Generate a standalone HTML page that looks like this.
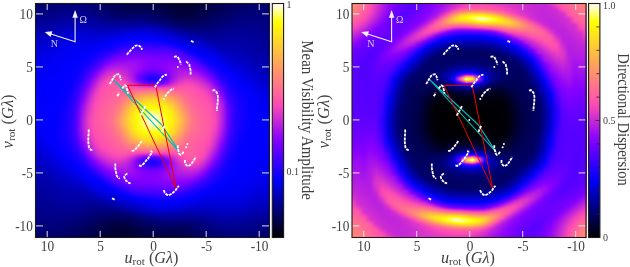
<!DOCTYPE html>
<html><head><meta charset="utf-8"><style>
html,body{margin:0;padding:0;background:#fff;width:630px;height:267px;overflow:hidden}
.hm{position:absolute;overflow:hidden}
.hm i{display:block;height:1px}
svg{position:absolute;left:0;top:0;will-change:transform}
text{font-family:"Liberation Serif",serif;fill:#404040}
.tl{font-size:13.3px}
.al{font-size:16px}
.cl{font-size:10px}
.ct{font-size:16.8px}
.ar{font-size:10px;fill:#d4ccf4}
.tc{stroke:#eee;stroke-opacity:0.85;stroke-width:1.1}
.tk{fill:none;stroke:#fff;stroke-width:1.7;stroke-linecap:round;stroke-dasharray:0.4 1.9}
</style></head><body>
<div class="hm" style="left:35px;top:3px;width:235px;height:235px">
<i style="background:linear-gradient(90deg,#00006b,#00006c,#00006f,#000072,#000075,#000077,#000079,#000078,#000075,#000071,#00006b,#000064,#00005d,#000055,#00004e,#000049,#000047,#000046,#000046,#000045,#000042,#00003c,#000036,#000031,#00002d,#00002d,#000030,#000035,#00003b,#000041,#000048,#00004f,#000056,#00005c,#000062,#000067,#00006a,#00006c,#00006c,#00006b)"></i>
<i style="background:linear-gradient(90deg,#00006d,#00006e,#000071,#000074,#000076,#000079,#00007b,#00007a,#000077,#000073,#00006d,#000066,#00005e,#000056,#00004f,#00004a,#000048,#000047,#000047,#000047,#000044,#00003e,#000038,#000032,#00002e,#00002e,#000031,#000036,#00003c,#000043,#00004a,#000051,#000057,#00005e,#000063,#000068,#00006b,#00006d,#00006d,#00006c)"></i>
<i style="background:linear-gradient(90deg,#00006f,#000070,#000072,#000075,#000078,#00007b,#00007d,#00007c,#000079,#000074,#00006e,#000067,#000060,#000058,#000050,#00004b,#000049,#000049,#000049,#000049,#000046,#000040,#000039,#000033,#00002f,#00002f,#000032,#000037,#00003d,#000044,#00004b,#000052,#000059,#00005f,#000065,#000069,#00006d,#00006e,#00006e,#00006d)"></i>
<i style="background:linear-gradient(90deg,#000071,#000072,#000074,#000077,#00007a,#00007d,#00007f,#00007e,#00007b,#000076,#000070,#000069,#000061,#000059,#000052,#00004c,#00004a,#00004a,#00004b,#00004b,#000048,#000042,#00003b,#000034,#000030,#000030,#000033,#000038,#00003f,#000045,#00004d,#000054,#00005b,#000061,#000066,#00006b,#00006e,#000070,#000070,#00006e)"></i>
<i style="background:linear-gradient(90deg,#000072,#000074,#000076,#000079,#00007c,#00007f,#000081,#000080,#00007d,#000078,#000072,#00006b,#000063,#00005a,#000053,#00004e,#00004b,#00004c,#00004d,#00004d,#00004a,#000044,#00003c,#000036,#000031,#000031,#000034,#00003a,#000040,#000047,#00004e,#000056,#00005c,#000062,#000068,#00006c,#000070,#000071,#000071,#00006f)"></i>
<i style="background:linear-gradient(90deg,#000074,#000076,#000078,#00007b,#00007e,#000081,#000083,#000082,#00007f,#00007b,#000074,#00006d,#000065,#00005c,#000054,#00004f,#00004d,#00004e,#000050,#00004f,#00004c,#000046,#00003e,#000037,#000033,#000032,#000036,#00003b,#000042,#000049,#000050,#000057,#00005e,#000064,#000069,#00006e,#000071,#000072,#000072,#000070)"></i>
<i style="background:linear-gradient(90deg,#000077,#000078,#00007a,#00007d,#000080,#000084,#000085,#000085,#000082,#00007d,#000077,#00006f,#000067,#00005e,#000056,#000050,#00004f,#000051,#000052,#000052,#00004f,#000048,#000040,#000039,#000034,#000034,#000037,#00003d,#000043,#00004a,#000052,#000059,#000060,#000066,#00006b,#00006f,#000072,#000074,#000073,#000072)"></i>
<i style="background:linear-gradient(90deg,#000079,#00007a,#00007c,#00007f,#000083,#000086,#000088,#000087,#000084,#00007f,#000079,#000071,#000069,#00005f,#000057,#000053,#000052,#000054,#000055,#000055,#000051,#00004b,#000042,#00003b,#000035,#000035,#000038,#00003e,#000045,#00004c,#000053,#00005b,#000062,#000068,#00006d,#000071,#000074,#000075,#000075,#000073)"></i>
<i style="background:linear-gradient(90deg,#00007b,#00007c,#00007e,#000081,#000085,#000088,#00008a,#000089,#000086,#000082,#00007c,#000074,#00006b,#000061,#000059,#000055,#000056,#000057,#000059,#000058,#000054,#00004d,#000045,#00003d,#000037,#000036,#00003a,#000040,#000047,#00004e,#000055,#00005d,#000063,#000069,#00006f,#000073,#000075,#000076,#000076,#000074)"></i>
<i style="background:linear-gradient(90deg,#00007d,#00007e,#000080,#000083,#000087,#00008b,#00008d,#00008c,#000089,#000084,#00007e,#000076,#00006d,#000064,#00005c,#000059,#000059,#00005b,#00005d,#00005c,#000057,#000050,#000047,#00003f,#00003a,#000038,#00003c,#000042,#000049,#000050,#000057,#00005e,#000065,#00006b,#000070,#000074,#000077,#000078,#000077,#000075)"></i>
<i style="background:linear-gradient(90deg,#000080,#000081,#000083,#000086,#00008a,#00008d,#00008f,#00008f,#00008c,#000087,#000081,#000079,#000070,#000066,#00005f,#00005d,#00005e,#000060,#000061,#00005f,#00005b,#000053,#00004a,#000042,#00003c,#00003b,#00003e,#000044,#00004b,#000052,#00005a,#000060,#000067,#00006d,#000072,#000076,#000078,#000079,#000078,#000076)"></i>
<i style="background:linear-gradient(90deg,#000082,#000083,#000085,#000088,#00008c,#000090,#000092,#000091,#00008f,#00008a,#000084,#00007c,#000072,#000069,#000063,#000061,#000062,#000064,#000065,#000063,#00005e,#000056,#00004d,#000045,#00003f,#00003d,#000040,#000046,#00004d,#000055,#00005c,#000063,#000069,#00006f,#000074,#000077,#00007a,#00007b,#00007a,#000077)"></i>
<i style="background:linear-gradient(90deg,#000084,#000085,#000087,#00008b,#00008f,#000093,#000095,#000094,#000091,#00008d,#000087,#00007f,#000075,#00006d,#000068,#000066,#000068,#000069,#000069,#000067,#000062,#00005a,#000051,#000048,#000042,#000040,#000042,#000048,#000050,#000057,#00005e,#000065,#00006b,#000071,#000076,#000079,#00007b,#00007c,#00007b,#000079)"></i>
<i style="background:linear-gradient(90deg,#000087,#000088,#00008a,#00008d,#000092,#000096,#000098,#000097,#000095,#000090,#00008a,#000082,#000078,#000071,#00006d,#00006c,#00006d,#00006e,#00006e,#00006b,#000066,#00005d,#000054,#00004c,#000046,#000043,#000045,#00004b,#000052,#000059,#000061,#000067,#00006d,#000073,#000077,#00007b,#00007d,#00007d,#00007c,#00007a)"></i>
<i style="background:linear-gradient(90deg,#000089,#00008a,#00008c,#000090,#000095,#000099,#00009a,#00009a,#000098,#000094,#00008d,#000085,#00007c,#000076,#000072,#000071,#000073,#000074,#000073,#000070,#00006a,#000061,#000058,#000050,#000049,#000047,#000048,#00004d,#000054,#00005c,#000063,#000069,#00006f,#000075,#000079,#00007c,#00007e,#00007f,#00007d,#00007b)"></i>
<i style="background:linear-gradient(90deg,#00008c,#00008d,#00008f,#000093,#000098,#00009c,#00009d,#00009d,#00009b,#000097,#000091,#000088,#000080,#00007b,#000078,#000077,#000078,#000079,#000078,#000074,#00006e,#000065,#00005c,#000053,#00004d,#00004b,#00004c,#000050,#000057,#00005f,#000066,#00006c,#000072,#000077,#00007b,#00007e,#000080,#000080,#00007f,#00007c)"></i>
<i style="background:linear-gradient(90deg,#00008e,#00008f,#000092,#000096,#00009b,#00009f,#0000a0,#0000a0,#00009f,#00009b,#000094,#00008c,#000085,#000080,#00007e,#00007d,#00007e,#00007f,#00007d,#000079,#000072,#00006a,#000060,#000058,#000051,#00004f,#00004f,#000053,#00005a,#000061,#000068,#00006e,#000074,#000079,#00007d,#000080,#000081,#000081,#000080,#00007d)"></i>
<i style="background:linear-gradient(90deg,#000091,#000092,#000094,#000099,#00009e,#0000a2,#0000a3,#0000a4,#0000a2,#00009e,#000098,#000090,#00008a,#000085,#000084,#000084,#000084,#000084,#000082,#00007e,#000077,#00006e,#000065,#00005c,#000056,#000053,#000053,#000057,#00005d,#000064,#00006b,#000071,#000076,#00007b,#00007f,#000081,#000083,#000083,#000081,#00007e)"></i>
<i style="background:linear-gradient(90deg,#000094,#000095,#000097,#00009c,#0000a1,#0000a5,#0000a7,#0000a7,#0000a6,#0000a2,#00009b,#000094,#00008e,#00008b,#00008a,#00008a,#00008b,#00008a,#000088,#000084,#00007d,#000073,#000069,#000060,#00005a,#000057,#000057,#00005a,#000060,#000067,#00006e,#000074,#000079,#00007d,#000081,#000083,#000084,#000084,#000082,#00007f)"></i>
<i style="background:linear-gradient(90deg,#000096,#000097,#00009a,#00009e,#0000a4,#0000a8,#0000aa,#0000ab,#0000a9,#0000a5,#00009f,#000099,#000094,#000091,#000090,#000090,#000091,#000090,#00008f,#00008b,#000084,#00007a,#00006f,#000065,#00005f,#00005c,#00005c,#00005e,#000063,#00006a,#000070,#000076,#00007b,#00007f,#000083,#000085,#000086,#000085,#000083,#000081)"></i>
<i style="background:linear-gradient(90deg,#000099,#00009a,#00009d,#0000a1,#0000a7,#0000ab,#0000ad,#0000ae,#0000ad,#0000a9,#0000a3,#00009d,#000099,#000097,#000096,#000096,#000097,#000097,#000096,#000093,#00008b,#000081,#000075,#00006a,#000063,#000060,#000060,#000062,#000067,#00006d,#000073,#000079,#00007e,#000082,#000085,#000086,#000087,#000086,#000085,#000082)"></i>
<i style="background:linear-gradient(90deg,#00009c,#00009d,#0000a0,#0000a4,#0000aa,#0000ae,#0000b1,#0000b2,#0000b1,#0000ad,#0000a7,#0000a2,#00009e,#00009c,#00009c,#00009d,#00009d,#00009f,#00009e,#00009b,#000094,#000089,#00007d,#000071,#000068,#000065,#000064,#000066,#00006a,#000070,#000076,#00007c,#000080,#000084,#000086,#000088,#000088,#000088,#000086,#000083)"></i>
<i style="background:linear-gradient(90deg,#00009e,#0000a0,#0000a3,#0000a8,#0000ad,#0000b1,#0000b4,#0000b6,#0000b4,#0000b0,#0000ab,#0000a6,#0000a3,#0000a2,#0000a2,#0000a3,#0000a5,#0000a7,#0000a7,#0000a4,#00009d,#000092,#000085,#000078,#00006e,#00006a,#000069,#00006a,#00006e,#000073,#000079,#00007e,#000083,#000086,#000088,#00008a,#00008a,#000089,#000087,#000084)"></i>
<i style="background:linear-gradient(90deg,#0000a1,#0000a2,#0000a6,#0000ab,#0000b0,#0000b4,#0000b8,#0000b9,#0000b8,#0000b4,#0000af,#0000ab,#0000a9,#0000a8,#0000a8,#0000a9,#0000ac,#0000af,#0000b0,#0000ad,#0000a7,#00009c,#00008e,#000081,#000075,#00006f,#00006e,#00006f,#000071,#000076,#00007c,#000081,#000085,#000088,#00008a,#00008b,#00008b,#00008a,#000088,#000085)"></i>
<i style="background:linear-gradient(90deg,#0000a4,#0000a5,#0000a9,#0000ae,#0000b3,#0000b7,#0000bb,#0000bd,#0000bc,#0000b8,#0000b3,#0000b0,#0000ae,#0000ae,#0000ae,#0000b0,#0000b4,#0000b8,#0000b9,#0000b6,#0000b0,#0000a5,#000098,#000089,#00007d,#000075,#000073,#000073,#000075,#000079,#00007e,#000084,#000088,#00008b,#00008c,#00008d,#00008d,#00008b,#000089,#000086)"></i>
<i style="background:linear-gradient(90deg,#0000a6,#0000a8,#0000ab,#0000b0,#0000b6,#0000bb,#0000bf,#0000c1,#0000bf,#0000bb,#0000b7,#0000b4,#0000b3,#0000b3,#0000b4,#0000b8,#0000bc,#0000c0,#0000c2,#0000bf,#0000b9,#0000ae,#0000a1,#000092,#000085,#00007c,#000078,#000077,#000079,#00007c,#000081,#000086,#00008a,#00008d,#00008e,#00008f,#00008e,#00008c,#00008a,#000087)"></i>
<i style="background:linear-gradient(90deg,#0000a9,#0000ab,#0000ae,#0000b3,#0000b9,#0000be,#0000c2,#0000c4,#0000c3,#0000bf,#0000bb,#0000b9,#0000b8,#0000b8,#0000bb,#0000bf,#0000c4,#0000c8,#0000ca,#0000c8,#0000c1,#0000b7,#0000aa,#00009c,#00008e,#000083,#00007d,#00007c,#00007d,#00007f,#000084,#000089,#00008d,#00008f,#000090,#000090,#00008f,#00008e,#00008b,#000088)"></i>
<i style="background:linear-gradient(90deg,#0000ac,#0000ae,#0000b1,#0000b6,#0000bc,#0000c1,#0000c6,#0000c8,#0000c6,#0000c3,#0000bf,#0000bd,#0000bd,#0000be,#0000c1,#0000c6,#0000cc,#0000d0,#0000d2,#0000cf,#0000c9,#0000bf,#0000b3,#0000a5,#000097,#00008b,#000083,#000081,#000081,#000083,#000087,#00008b,#00008f,#000091,#000092,#000092,#000091,#00008f,#00008c,#000089)"></i>
<i style="background:linear-gradient(90deg,#0000ae,#0000b0,#0000b4,#0000b9,#0000bf,#0000c5,#0000c9,#0000cb,#0000c9,#0000c6,#0000c3,#0000c2,#0000c2,#0000c3,#0000c7,#0000cd,#0000d4,#0000d8,#0000d9,#0000d6,#0000d0,#0000c6,#0000bb,#0000ad,#0000a0,#000093,#00008a,#000085,#000085,#000086,#000089,#00008e,#000092,#000094,#000094,#000093,#000092,#000090,#00008d,#00008a)"></i>
<i style="background:linear-gradient(90deg,#0000b1,#0000b3,#0000b7,#0000bc,#0000c2,#0000c8,#0000cd,#0000ce,#0000cc,#0000c9,#0000c7,#0000c6,#0000c6,#0000c9,#0000ce,#0000d4,#0000db,#0000df,#0000df,#0000dc,#0000d6,#0000cd,#0000c2,#0000b5,#0000a8,#00009c,#000092,#00008b,#000089,#000089,#00008c,#000090,#000094,#000096,#000096,#000095,#000093,#000091,#00008e,#00008b)"></i>
<i style="background:linear-gradient(90deg,#0000b3,#0000b6,#0000ba,#0000bf,#0000c5,#0000cb,#0000d0,#0000d1,#0000d0,#0000cd,#0000cb,#0000ca,#0000cb,#0000ce,#0000d4,#0000db,#0000e1,#0000e5,#0000e5,#0000e2,#0000dc,#0000d3,#0000c9,#0000bd,#0000b0,#0000a4,#000099,#000091,#00008d,#00008d,#00008f,#000093,#000096,#000098,#000098,#000097,#000094,#000092,#00008f,#00008c)"></i>
<i style="background:linear-gradient(90deg,#0000b6,#0000b8,#0000bc,#0000c2,#0000c7,#0000ce,#0000d3,#0000d4,#0000d2,#0000d0,#0000ce,#0000ce,#0000d0,#0000d3,#0000da,#0000e2,#0000e8,#0000eb,#0000eb,#0000e8,#0000e2,#0000da,#0000cf,#0000c4,#0000b8,#0000ac,#0000a1,#000097,#000091,#000090,#000091,#000095,#000099,#00009a,#00009a,#000098,#000096,#000093,#000090,#00008d)"></i>
<i style="background:linear-gradient(90deg,#0000b9,#0000bb,#0000bf,#0000c4,#0000ca,#0000d1,#0000d6,#0000d7,#0000d5,#0000d3,#0000d2,#0000d2,#0000d4,#0000d9,#0000e0,#0000e8,#0000ee,#0000f0,#0000f0,#0000ed,#0000e8,#0000e0,#0000d6,#0000ca,#0000bf,#0000b4,#0000a8,#00009e,#000096,#000093,#000094,#000097,#00009b,#00009c,#00009c,#00009a,#000097,#000094,#000091,#00008e)"></i>
<i style="background:linear-gradient(90deg,#0000bb,#0000bd,#0000c1,#0000c7,#0000cd,#0000d4,#0000d9,#0000da,#0000d8,#0000d6,#0000d5,#0000d6,#0000d9,#0000de,#0000e6,#0000ee,#0000f3,#0000f6,#0000f6,#0000f3,#0000ed,#0000e6,#0000dc,#0000d1,#0000c5,#0000bb,#0000b0,#0000a5,#00009b,#000097,#000097,#000099,#00009d,#00009e,#00009d,#00009b,#000098,#000095,#000092,#00008f)"></i>
<i style="background:linear-gradient(90deg,#0000bd,#0000c0,#0000c4,#0000c9,#0000d0,#0000d7,#0000dc,#0000dc,#0000db,#0000d9,#0000d9,#0000da,#0000dd,#0000e3,#0000ec,#0000f4,#0000f9,#0000fb,#0000fb,#0000f8,#0000f3,#0000ec,#0000e2,#0000d7,#0000cc,#0000c1,#0000b7,#0000ac,#0000a1,#00009a,#000099,#00009c,#00009f,#0000a0,#00009f,#00009d,#000099,#000096,#000093,#00008f)"></i>
<i style="background:linear-gradient(90deg,#0000c0,#0000c2,#0000c6,#0000cc,#0000d3,#0000da,#0000df,#0000df,#0000dd,#0000dc,#0000dc,#0000de,#0000e2,#0000e9,#0000f2,#0000f9,#0000ff,#0200ff,#0200ff,#0000fe,#0000f9,#0000f2,#0000e9,#0000dd,#0000d2,#0000c8,#0000be,#0000b3,#0000a7,#00009e,#00009c,#00009e,#0000a1,#0000a2,#0000a1,#00009e,#00009b,#000097,#000094,#000090)"></i>
<i style="background:linear-gradient(90deg,#0000c2,#0000c5,#0000c9,#0000ce,#0000d6,#0000dd,#0000e1,#0000e1,#0000e0,#0000df,#0000df,#0000e1,#0000e6,#0000ee,#0000f7,#0000ff,#0400ff,#0600ff,#0600ff,#0400ff,#0100ff,#0000f9,#0000ef,#0000e4,#0000d8,#0000cd,#0000c4,#0000ba,#0000ad,#0000a2,#00009f,#0000a0,#0000a3,#0000a4,#0000a2,#00009f,#00009c,#000098,#000095,#000091)"></i>
<i style="background:linear-gradient(90deg,#0000c4,#0000c7,#0000cb,#0000d1,#0000d8,#0000df,#0000e3,#0000e3,#0000e2,#0000e2,#0000e3,#0000e5,#0000ea,#0000f3,#0000fc,#0400ff,#0900ff,#0b00ff,#0c00ff,#0a00ff,#0600ff,#0100ff,#0000f7,#0000eb,#0000de,#0000d3,#0000ca,#0000c0,#0000b3,#0000a7,#0000a2,#0000a2,#0000a4,#0000a6,#0000a4,#0000a1,#00009d,#000099,#000096,#000092)"></i>
<i style="background:linear-gradient(90deg,#0000c7,#0000c9,#0000cd,#0000d3,#0000db,#0000e2,#0000e5,#0000e5,#0000e4,#0000e4,#0000e6,#0000e9,#0000ef,#0000f8,#0200ff,#0900ff,#0e00ff,#1100ff,#1100ff,#1000ff,#0d00ff,#0700ff,#0000fe,#0000f2,#0000e4,#0000d9,#0000cf,#0000c6,#0000ba,#0000ac,#0000a5,#0000a4,#0000a6,#0000a7,#0000a5,#0000a2,#00009e,#00009a,#000097,#000093)"></i>
<i style="background:linear-gradient(90deg,#0000c9,#0000cb,#0000cf,#0000d5,#0000dd,#0000e4,#0000e7,#0000e7,#0000e7,#0000e7,#0000e9,#0000ec,#0000f3,#0000fd,#0700ff,#0e00ff,#1300ff,#1700ff,#1800ff,#1700ff,#1300ff,#0e00ff,#0600ff,#0000f9,#0000eb,#0000de,#0000d5,#0000cc,#0000c0,#0000b1,#0000a8,#0000a6,#0000a8,#0000a9,#0000a7,#0000a3,#00009f,#00009b,#000097,#000094)"></i>
<i style="background:linear-gradient(90deg,#0000cb,#0000cd,#0000d2,#0000d8,#0000e0,#0000e6,#0000e9,#0000e9,#0000e9,#0000ea,#0000ec,#0000f0,#0000f8,#0300ff,#0b00ff,#1300ff,#1900ff,#1d00ff,#1f00ff,#1e00ff,#1b00ff,#1600ff,#0e00ff,#0200ff,#0000f2,#0000e4,#0000d9,#0000d1,#0000c6,#0000b7,#0000ab,#0000a9,#0000aa,#0000aa,#0000a8,#0000a5,#0000a0,#00009c,#000098,#000095)"></i>
<i style="background:linear-gradient(90deg,#0000cd,#0000cf,#0000d4,#0000da,#0000e2,#0000e8,#0000eb,#0000eb,#0000eb,#0000ec,#0000ef,#0000f4,#0000fd,#0700ff,#1000ff,#1800ff,#1f00ff,#2500ff,#2700ff,#2500ff,#2300ff,#1e00ff,#1600ff,#0900ff,#0000f9,#0000ea,#0000de,#0000d6,#0000cc,#0000bd,#0000af,#0000ab,#0000ac,#0000ac,#0000aa,#0000a6,#0000a2,#00009d,#000099,#000096)"></i>
<i style="background:linear-gradient(90deg,#0000cf,#0000d1,#0000d5,#0000dc,#0000e4,#0000ea,#0000ec,#0000ed,#0000ed,#0000ef,#0000f2,#0000f8,#0200ff,#0b00ff,#1500ff,#1e00ff,#2700ff,#2d00ff,#2f00ff,#2d00ff,#2b00ff,#2700ff,#1f00ff,#1200ff,#0200ff,#0000f0,#0000e3,#0000db,#0000d2,#0000c3,#0000b3,#0000ad,#0000ad,#0000ae,#0000ab,#0000a7,#0000a3,#00009e,#00009a,#000096)"></i>
<i style="background:linear-gradient(90deg,#0000d1,#0000d3,#0000d7,#0000de,#0000e6,#0000ec,#0000ee,#0000ee,#0000ef,#0000f1,#0000f5,#0000fc,#0600ff,#1000ff,#1a00ff,#2500ff,#2f00ff,#3500ff,#3700ff,#3500ff,#3300ff,#2f00ff,#2800ff,#1b00ff,#0900ff,#0000f6,#0000e8,#0000df,#0000d7,#0000c9,#0000b8,#0000b0,#0000af,#0000af,#0000ad,#0000a8,#0000a4,#00009f,#00009b,#000097)"></i>
<i style="background:linear-gradient(90deg,#0000d2,#0000d5,#0000d9,#0000e0,#0000e8,#0000ed,#0000ef,#0000f0,#0000f1,#0000f3,#0000f8,#0000ff,#0a00ff,#1500ff,#2000ff,#2c00ff,#3800ff,#3e00ff,#3f00ff,#3d00ff,#3a00ff,#3800ff,#3100ff,#2400ff,#1100ff,#0000fd,#0000ed,#0000e3,#0000dc,#0000cf,#0000bd,#0000b3,#0000b1,#0000b1,#0000ae,#0000aa,#0000a5,#0000a0,#00009c,#000098)"></i>
<i style="background:linear-gradient(90deg,#0000d4,#0000d7,#0000db,#0000e2,#0000ea,#0000ee,#0000f0,#0000f1,#0000f3,#0000f6,#0000fb,#0400ff,#0e00ff,#1a00ff,#2600ff,#3500ff,#4100ff,#4700ff,#4700ff,#4400ff,#4200ff,#4000ff,#3a00ff,#2e00ff,#1a00ff,#0500ff,#0000f2,#0000e7,#0000e0,#0000d5,#0000c3,#0000b5,#0000b3,#0000b2,#0000af,#0000ab,#0000a6,#0000a1,#00009d,#000099)"></i>
<i style="background:linear-gradient(90deg,#0000d6,#0000d8,#0000dd,#0000e4,#0000eb,#0000f0,#0000f2,#0000f3,#0000f5,#0000f8,#0000fe,#0700ff,#1200ff,#1f00ff,#2d00ff,#3e00ff,#4a00ff,#4f00ff,#4e00ff,#4b00ff,#4900ff,#4700ff,#4300ff,#3700ff,#2400ff,#0d00ff,#0000f8,#0000eb,#0000e4,#0000da,#0000c8,#0000b9,#0000b5,#0000b4,#0000b1,#0000ac,#0000a7,#0000a2,#00009e,#00009a)"></i>
<i style="background:linear-gradient(90deg,#0000d7,#0000da,#0000df,#0000e6,#0000ed,#0000f1,#0000f3,#0000f4,#0000f7,#0000fa,#0100ff,#0b00ff,#1700ff,#2400ff,#3600ff,#4800ff,#5300ff,#5700ff,#5500ff,#5100ff,#4f00ff,#4e00ff,#4b00ff,#4100ff,#2e00ff,#1500ff,#0000ff,#0000f0,#0000e8,#0000df,#0000ce,#0000bc,#0000b8,#0000b6,#0000b2,#0000ad,#0000a8,#0000a3,#00009f,#00009b)"></i>
<i style="background:linear-gradient(90deg,#0000d9,#0000db,#0000e0,#0000e7,#0000ee,#0000f2,#0000f4,#0000f5,#0000f8,#0000fc,#0400ff,#0e00ff,#1c00ff,#2a00ff,#3f00ff,#5100ff,#5c00ff,#5e00ff,#5b00ff,#5700ff,#5500ff,#5400ff,#5200ff,#4900ff,#3700ff,#1e00ff,#0600ff,#0000f4,#0000eb,#0000e3,#0000d3,#0000c1,#0000ba,#0000b8,#0000b4,#0000af,#0000a9,#0000a4,#0000a0,#00009c)"></i>
<i style="background:linear-gradient(90deg,#0000da,#0000dd,#0000e2,#0000e9,#0000ef,#0000f3,#0000f5,#0000f7,#0000fa,#0000ff,#0700ff,#1200ff,#2100ff,#3200ff,#4900ff,#5b00ff,#6400ff,#6500ff,#6200ff,#5d00ff,#5b00ff,#5a00ff,#5800ff,#5100ff,#4100ff,#2800ff,#0d00ff,#0000f9,#0000ef,#0000e7,#0000d9,#0000c5,#0000bc,#0000ba,#0000b5,#0000b0,#0000aa,#0000a5,#0000a1,#00009d)"></i>
<i style="background:linear-gradient(90deg,#0000db,#0000de,#0000e3,#0000ea,#0000f1,#0000f4,#0000f6,#0000f8,#0000fc,#0200ff,#0a00ff,#1700ff,#2600ff,#3a00ff,#5300ff,#6400ff,#6b00ff,#6b00ff,#6800ff,#6400ff,#6100ff,#6000ff,#5e00ff,#5800ff,#4a00ff,#3100ff,#1500ff,#0000ff,#0000f3,#0000eb,#0000de,#0000ca,#0000bf,#0000bc,#0000b7,#0000b1,#0000ab,#0000a6,#0000a2,#00009e)"></i>
<i style="background:linear-gradient(90deg,#0000dd,#0000df,#0000e5,#0000ec,#0000f2,#0000f5,#0000f7,#0000f9,#0000fd,#0300ff,#0d00ff,#1b00ff,#2c00ff,#4300ff,#5d00ff,#6c00ff,#7100ff,#7100ff,#6e00ff,#6a00ff,#6600ff,#6500ff,#6400ff,#5f00ff,#5200ff,#3b00ff,#1d00ff,#0400ff,#0000f6,#0000ee,#0000e3,#0000cf,#0000c2,#0000be,#0000b9,#0000b2,#0000ad,#0000a8,#0000a3,#00009f)"></i>
<i style="background:linear-gradient(90deg,#0000de,#0000e1,#0000e6,#0000ed,#0000f3,#0000f6,#0000f8,#0000fb,#0000ff,#0500ff,#1000ff,#2000ff,#3200ff,#4d00ff,#6600ff,#7400ff,#7700ff,#7800ff,#7500ff,#7000ff,#6c00ff,#6b00ff,#6a00ff,#6500ff,#5a00ff,#4500ff,#2700ff,#0a00ff,#0000fb,#0000f2,#0000e7,#0000d4,#0000c5,#0000c0,#0000bb,#0000b4,#0000ae,#0000a9,#0000a4,#0000a0)"></i>
<i style="background:linear-gradient(90deg,#0000df,#0000e2,#0000e8,#0000ee,#0000f3,#0000f6,#0000f9,#0000fc,#0100ff,#0700ff,#1300ff,#2400ff,#3900ff,#5700ff,#7000ff,#7a00ff,#7e00ff,#7e00ff,#7a00ff,#7500ff,#7100ff,#7000ff,#6f00ff,#6a00ff,#6000ff,#4e00ff,#3000ff,#1100ff,#0000ff,#0000f5,#0000eb,#0000d9,#0000c8,#0000c2,#0000bd,#0000b5,#0000af,#0000aa,#0000a5,#0000a1)"></i>
<i style="background:linear-gradient(90deg,#0000e0,#0000e3,#0000e9,#0000ef,#0000f4,#0000f7,#0000f9,#0000fd,#0200ff,#0900ff,#1700ff,#2900ff,#4100ff,#6200ff,#7900ff,#8000ff,#8300ff,#8400ff,#8000ff,#7a00ff,#7600ff,#7500ff,#7400ff,#7000ff,#6600ff,#5600ff,#3a00ff,#1900ff,#0400ff,#0000f8,#0000ef,#0000dd,#0000cc,#0000c5,#0000bf,#0000b7,#0000b0,#0000ab,#0000a7,#0000a3)"></i>
<i style="background:linear-gradient(90deg,#0000e1,#0000e5,#0000ea,#0000f1,#0000f5,#0000f8,#0000fa,#0000fe,#0300ff,#0b00ff,#1b00ff,#2f00ff,#4b00ff,#6c00ff,#8000ff,#8600ff,#8901fe,#8901fe,#8400ff,#7e00ff,#7900ff,#7900ff,#7900ff,#7500ff,#6d00ff,#5e00ff,#4400ff,#2200ff,#0800ff,#0000fc,#0000f2,#0000e2,#0000d0,#0000c7,#0000c1,#0000b9,#0000b2,#0000ac,#0000a8,#0000a4)"></i>
<i style="background:linear-gradient(90deg,#0000e2,#0000e6,#0000ec,#0000f2,#0000f6,#0000f8,#0000fb,#0000ff,#0500ff,#0d00ff,#1f00ff,#3400ff,#5400ff,#7600ff,#8700ff,#8c03fc,#8e04fb,#8e04fb,#8801fe,#8100ff,#7c00ff,#7c00ff,#7d00ff,#7b00ff,#7300ff,#6400ff,#4d00ff,#2b00ff,#0d00ff,#0000ff,#0000f6,#0000e6,#0000d3,#0000ca,#0000c3,#0000bb,#0000b3,#0000ad,#0000a9,#0000a5)"></i>
<i style="background:linear-gradient(90deg,#0000e3,#0000e7,#0000ed,#0000f3,#0000f6,#0000f9,#0000fc,#0100ff,#0600ff,#1000ff,#2300ff,#3a00ff,#5e00ff,#8000ff,#8d04fb,#9106f9,#9307f8,#9207f8,#8b02fd,#8300ff,#7e00ff,#7f00ff,#8100ff,#7f00ff,#7800ff,#6b00ff,#5600ff,#3400ff,#1300ff,#0300ff,#0000f9,#0000ea,#0000d7,#0000cd,#0000c5,#0000bc,#0000b4,#0000af,#0000aa,#0000a6)"></i>
<i style="background:linear-gradient(90deg,#0000e4,#0000e8,#0000ee,#0000f3,#0000f7,#0000fa,#0000fd,#0200ff,#0700ff,#1300ff,#2700ff,#4100ff,#6900ff,#8801fe,#9307f8,#9609f6,#970af5,#9509f6,#8d03fc,#8400ff,#8000ff,#8100ff,#8400ff,#8400ff,#7e00ff,#7100ff,#5e00ff,#3e00ff,#1a00ff,#0600ff,#0000fc,#0000ee,#0000db,#0000cf,#0000c8,#0000be,#0000b6,#0000b0,#0000ac,#0000a8)"></i>
<i style="background:linear-gradient(90deg,#0000e5,#0000e9,#0000ef,#0000f4,#0000f8,#0000fa,#0000fd,#0200ff,#0800ff,#1600ff,#2c00ff,#4900ff,#7300ff,#9006f9,#990bf4,#9a0cf3,#9b0cf3,#970af5,#8e04fb,#8400ff,#8000ff,#8200ff,#8700ff,#8800ff,#8300ff,#7800ff,#6600ff,#4800ff,#2200ff,#0a00ff,#0000ff,#0000f2,#0000df,#0000d2,#0000ca,#0000c1,#0000b8,#0000b2,#0000ad,#0000a9)"></i>
<i style="background:linear-gradient(90deg,#0000e6,#0000ea,#0000f0,#0000f5,#0000f8,#0000fb,#0000fe,#0300ff,#0900ff,#1900ff,#3100ff,#5200ff,#7d00ff,#970af5,#9e0ff0,#9f0ff0,#9e0ef1,#990bf4,#8e04fb,#8500ff,#8100ff,#8300ff,#8901fe,#8c03fc,#8901fe,#7e00ff,#6d00ff,#5100ff,#2a00ff,#0e00ff,#0200ff,#0000f5,#0000e3,#0000d5,#0000cd,#0000c3,#0000b9,#0000b3,#0000ae,#0000aa)"></i>
<i style="background:linear-gradient(90deg,#0000e7,#0000eb,#0000f1,#0000f6,#0000f9,#0000fb,#0000ff,#0400ff,#0b00ff,#1c00ff,#3500ff,#5b00ff,#8700ff,#9e0ff0,#a412ed,#a312ed,#a110ef,#9a0cf3,#8f05fa,#8500ff,#8100ff,#8400ff,#8a02fd,#8f05fa,#8e04fb,#8400ff,#7400ff,#5b00ff,#3300ff,#1200ff,#0500ff,#0000f8,#0000e7,#0000d8,#0000cf,#0000c5,#0000bb,#0000b5,#0000b0,#0000ac)"></i>
<i style="background:linear-gradient(90deg,#0000e8,#0000ec,#0000f2,#0000f6,#0000f9,#0000fc,#0000ff,#0400ff,#0c00ff,#2000ff,#3a00ff,#6500ff,#9006f9,#a513ec,#aa16e9,#a714eb,#a312ed,#9b0cf3,#8e04fb,#8400ff,#8000ff,#8400ff,#8c03fc,#9207f8,#9207f8,#8b02fd,#7b00ff,#6300ff,#3d00ff,#1700ff,#0800ff,#0000fb,#0000ea,#0000db,#0000d2,#0000c7,#0000bd,#0000b6,#0000b1,#0000ad)"></i>
<i style="background:linear-gradient(90deg,#0000e9,#0000ee,#0000f3,#0000f7,#0000fa,#0000fc,#0100ff,#0500ff,#0e00ff,#2300ff,#4000ff,#6e00ff,#990bf4,#ac18e7,#af19e6,#ac17e8,#a513ec,#9b0df2,#8e04fb,#8300ff,#7f00ff,#8400ff,#8d03fc,#9508f7,#970af5,#9106f9,#8200ff,#6b00ff,#4600ff,#1d00ff,#0b00ff,#0000fe,#0000ee,#0000df,#0000d5,#0000ca,#0000bf,#0000b8,#0000b3,#0000af)"></i>
<i style="background:linear-gradient(90deg,#0000ea,#0000ef,#0000f4,#0000f8,#0000fa,#0000fd,#0100ff,#0600ff,#1000ff,#2700ff,#4600ff,#7800ff,#a110ef,#b31ce3,#b51de2,#b01ae5,#a714eb,#9b0df2,#8c03fc,#8000ff,#7d00ff,#8300ff,#8d04fb,#970af5,#9b0df2,#960af5,#8901fe,#7300ff,#5000ff,#2500ff,#0e00ff,#0200ff,#0000f1,#0000e2,#0000d8,#0000cc,#0000c1,#0000ba,#0000b4,#0000b0)"></i>
<i style="background:linear-gradient(90deg,#0000eb,#0000f0,#0000f5,#0000f8,#0000fb,#0000fd,#0200ff,#0600ff,#1200ff,#2b00ff,#4d00ff,#8100ff,#a915ea,#ba20df,#bb21de,#b41ce3,#a916e9,#9b0cf3,#8a01fe,#7d00ff,#7900ff,#8000ff,#8d03fc,#990bf4,#9f0ff0,#9c0df2,#9005fa,#7b00ff,#5a00ff,#2c00ff,#1100ff,#0400ff,#0000f4,#0000e5,#0000da,#0000cf,#0000c3,#0000bb,#0000b6,#0000b2)"></i>
<i style="background:linear-gradient(90deg,#0000eb,#0000f1,#0000f6,#0000f9,#0000fb,#0000fe,#0200ff,#0700ff,#1400ff,#2f00ff,#5500ff,#8b02fd,#b01ae5,#c125da,#c024db,#b71fe0,#ab16e9,#990bf4,#8600ff,#7700ff,#7400ff,#7d00ff,#8c03fc,#9a0cf3,#a312ed,#a211ee,#960af5,#8200ff,#6300ff,#3500ff,#1500ff,#0700ff,#0000f7,#0000e8,#0000dd,#0000d1,#0000c6,#0000bd,#0000b8,#0000b3)"></i>
<i style="background:linear-gradient(90deg,#0000ec,#0000f2,#0000f6,#0000f9,#0000fb,#0000fe,#0300ff,#0800ff,#1700ff,#3300ff,#5d00ff,#9308f7,#b81fe0,#c82ad5,#c628d7,#bb21de,#ac17e8,#970af5,#8000ff,#6f00ff,#6d00ff,#7800ff,#8a02fd,#9c0df2,#a714eb,#a815ea,#9d0ef1,#8901fe,#6c00ff,#3e00ff,#1900ff,#0900ff,#0000fa,#0000eb,#0000e0,#0000d4,#0000c8,#0000bf,#0000b9,#0000b5)"></i>
<i style="background:linear-gradient(90deg,#0000ed,#0000f2,#0000f7,#0000fa,#0000fc,#0000ff,#0300ff,#0800ff,#1900ff,#3700ff,#6500ff,#9c0df2,#bf24db,#cf2ed1,#cc2cd3,#bf24db,#ad18e7,#9408f7,#7900ff,#6600ff,#6300ff,#7100ff,#8800ff,#9d0ef1,#aa16e9,#ad18e7,#a412ed,#9106f9,#7500ff,#4700ff,#1d00ff,#0c00ff,#0000fd,#0000ed,#0000e3,#0000d7,#0000ca,#0000c1,#0000bb,#0000b7)"></i>
<i style="background:linear-gradient(90deg,#0000ee,#0000f3,#0000f8,#0000fa,#0000fc,#0000ff,#0300ff,#0900ff,#1c00ff,#3b00ff,#6d00ff,#a412ed,#c729d6,#d633cc,#d230cf,#c326d9,#ad18e7,#9006f9,#7000ff,#5b00ff,#5800ff,#6900ff,#8400ff,#9d0ef1,#ae19e6,#b31ce3,#ab16e9,#980bf4,#7d00ff,#5100ff,#2200ff,#0e00ff,#0100ff,#0000f0,#0000e5,#0000d9,#0000cd,#0000c3,#0000bd,#0000b8)"></i>
<i style="background:linear-gradient(90deg,#0000ef,#0000f4,#0000f8,#0000fa,#0000fd,#0000ff,#0400ff,#0a00ff,#1f00ff,#4000ff,#7500ff,#ab16e9,#cf2ed1,#dd37c8,#d833cc,#c728d7,#ae19e6,#8c03fc,#6700ff,#4f00ff,#4c00ff,#6000ff,#8000ff,#9e0ef1,#b11be4,#b81fe0,#b11be4,#a00ff0,#8500ff,#5b00ff,#2800ff,#1100ff,#0300ff,#0000f3,#0000e8,#0000dc,#0000cf,#0000c5,#0000bf,#0000ba)"></i>
<i style="background:linear-gradient(90deg,#0000f0,#0000f5,#0000f9,#0000fb,#0000fd,#0100ff,#0400ff,#0b00ff,#2200ff,#4500ff,#7d00ff,#b11be4,#d632cd,#e43bc4,#dd37c8,#cb2bd4,#af19e6,#8800ff,#5e00ff,#4200ff,#3f00ff,#5600ff,#7c00ff,#9f0ff0,#b51de2,#be23dc,#b81fe0,#a714eb,#8c03fc,#6400ff,#2f00ff,#1400ff,#0500ff,#0000f5,#0000eb,#0000df,#0000d2,#0000c7,#0000c1,#0000bc)"></i>
<i style="background:linear-gradient(90deg,#0000f1,#0000f6,#0000fa,#0000fb,#0000fd,#0100ff,#0400ff,#0c00ff,#2500ff,#4a00ff,#8500ff,#b81fe0,#dd37c8,#ea3fc0,#e33bc4,#cf2ed1,#b01ae5,#8400ff,#5500ff,#3500ff,#3100ff,#4c00ff,#7700ff,#a010ef,#b920df,#c326d9,#be23dc,#ae19e6,#9408f7,#6e00ff,#3700ff,#1700ff,#0700ff,#0000f8,#0000ed,#0000e1,#0000d4,#0000c9,#0000c3,#0000bd)"></i>
<i style="background:linear-gradient(90deg,#0000f2,#0000f7,#0000fa,#0000fc,#0000fd,#0100ff,#0500ff,#0e00ff,#2800ff,#5000ff,#8d03fc,#bf24db,#e43bc4,#f043bc,#e93ec1,#d330cf,#b11be4,#8100ff,#4d00ff,#2a00ff,#2500ff,#4300ff,#7400ff,#a111ee,#be23dc,#c92ad5,#c527d8,#b51de2,#9c0df2,#7700ff,#3f00ff,#1b00ff,#0900ff,#0000fa,#0000f0,#0000e4,#0000d7,#0000cc,#0000c5,#0000bf)"></i>
<i style="background:linear-gradient(90deg,#0000f2,#0000f8,#0000fb,#0000fc,#0000fe,#0100ff,#0500ff,#0f00ff,#2b00ff,#5600ff,#9408f7,#c628d7,#eb3fc0,#f647b8,#ee42bd,#d833cc,#b31ce3,#8000ff,#4800ff,#2200ff,#1d00ff,#3c00ff,#7200ff,#a312ed,#c226d9,#cf2ed1,#cb2cd3,#bd22dd,#a312ed,#8000ff,#4700ff,#1e00ff,#0c00ff,#0000fd,#0000f2,#0000e7,#0000d9,#0000ce,#0000c7,#0000c1)"></i>
<i style="background:linear-gradient(90deg,#0000f3,#0000f8,#0000fb,#0000fc,#0000fe,#0100ff,#0500ff,#1100ff,#2f00ff,#5c00ff,#9b0cf3,#cc2cd3,#f143bc,#fb4ab5,#f445ba,#dd37c8,#b71ee1,#8100ff,#4700ff,#1e00ff,#1900ff,#3900ff,#7200ff,#a714eb,#c829d6,#d532cd,#d230cf,#c426d9,#ab17e8,#8800ff,#5000ff,#2200ff,#0e00ff,#0000ff,#0000f4,#0000e9,#0000dc,#0000d0,#0000c9,#0000c3)"></i>
<i style="background:linear-gradient(90deg,#0000f4,#0000f9,#0000fb,#0000fd,#0000fe,#0200ff,#0600ff,#1300ff,#3200ff,#6300ff,#a110ef,#d330cf,#f647b8,#ff4db2,#f949b6,#e33ac5,#bb21de,#8500ff,#4a00ff,#2100ff,#1b00ff,#3b00ff,#7500ff,#ab17e8,#ce2dd2,#dc36c9,#d834cb,#ca2bd4,#b31ce3,#9005fa,#5900ff,#2600ff,#1100ff,#0200ff,#0000f6,#0000ec,#0000de,#0000d2,#0000cb,#0000c5)"></i>
<i style="background:linear-gradient(90deg,#0000f5,#0000fa,#0000fc,#0000fd,#0000ff,#0200ff,#0600ff,#1500ff,#3500ff,#6900ff,#a714eb,#d934cb,#fb4ab5,#ff50af,#fe4cb3,#e83ec1,#c125da,#8c03fc,#5200ff,#2900ff,#2300ff,#4200ff,#7c00ff,#b21be4,#d431ce,#e23ac5,#df38c7,#d12fd0,#ba20df,#970af5,#6100ff,#2a00ff,#1300ff,#0400ff,#0000f8,#0000ee,#0000e0,#0000d4,#0000cd,#0000c7)"></i>
<i style="background:linear-gradient(90deg,#0000f6,#0000fa,#0000fc,#0000fd,#0000ff,#0200ff,#0600ff,#1700ff,#3800ff,#6f00ff,#ac17e8,#df38c7,#ff4cb3,#ff53ac,#ff50af,#ee42bd,#c829d6,#9609f6,#5f00ff,#3800ff,#3200ff,#4e00ff,#8500ff,#b920df,#db35ca,#e83ec1,#e53cc3,#d733cc,#c125da,#9e0ff0,#6a00ff,#2f00ff,#1600ff,#0600ff,#0000fa,#0000f0,#0000e3,#0000d7,#0000cf,#0000c9)"></i>
<i style="background:linear-gradient(90deg,#0000f7,#0000fb,#0000fd,#0000fd,#0000ff,#0200ff,#0700ff,#1900ff,#3b00ff,#7600ff,#b11be4,#e43cc3,#ff4fb0,#ff55aa,#ff53ac,#f446b9,#d12fd0,#a312ed,#7100ff,#4f00ff,#4800ff,#6000ff,#9207f8,#c226d9,#e23ac5,#ef42bd,#eb40bf,#dd37c8,#c829d6,#a613ec,#7300ff,#3500ff,#1800ff,#0800ff,#0000fc,#0000f3,#0000e5,#0000d9,#0000d1,#0000ca)"></i>
<i style="background:linear-gradient(90deg,#0000f7,#0000fc,#0000fd,#0000fe,#0000ff,#0200ff,#0700ff,#1b00ff,#3e00ff,#7c00ff,#b71ee1,#ea3fc0,#ff50af,#ff57a8,#ff56a9,#fa49b6,#da35ca,#b21be4,#8700ff,#6a00ff,#6400ff,#7700ff,#a110ef,#cd2cd3,#e93fc0,#f546b9,#f043bc,#e33ac5,#cf2ed1,#ad18e7,#7c00ff,#3b00ff,#1b00ff,#0900ff,#0000fe,#0000f5,#0000e7,#0000db,#0000d3,#0000cc)"></i>
<i style="background:linear-gradient(90deg,#0000f8,#0000fc,#0000fd,#0000fe,#0000ff,#0300ff,#0800ff,#1d00ff,#4200ff,#8200ff,#bc22dd,#ee42bd,#ff52ad,#ff59a6,#ff59a6,#ff4db2,#e43bc4,#c225da,#a00ff0,#8901fe,#8400ff,#9207f8,#b31ce3,#d833cc,#f143bc,#fb4ab5,#f647b8,#e83ec1,#d532cd,#b41ce3,#8400ff,#4100ff,#1e00ff,#0b00ff,#0100ff,#0000f7,#0000ea,#0000dd,#0000d5,#0000ce)"></i>
<i style="background:linear-gradient(90deg,#0000f9,#0000fd,#0000fd,#0000fe,#0000ff,#0300ff,#0900ff,#1f00ff,#4600ff,#8800ff,#c125da,#f345ba,#ff53ac,#ff5aa5,#ff5ba4,#ff51ae,#ee42bd,#d431ce,#ba20df,#a915ea,#a513ec,#ae19e6,#c628d7,#e43bc4,#f848b7,#ff4eb1,#fb4ab5,#ed41be,#db36c9,#bb21de,#8c03fc,#4800ff,#2100ff,#0d00ff,#0200ff,#0000f9,#0000ec,#0000df,#0000d7,#0000d0)"></i>
<i style="background:linear-gradient(90deg,#0000fa,#0000fd,#0000fe,#0000fe,#0000ff,#0300ff,#0900ff,#2100ff,#4b00ff,#8d04fb,#c628d7,#f647b8,#ff54ab,#ff5ca3,#ff5da2,#ff55aa,#f848b7,#e73dc2,#d531ce,#c92ad5,#c628d7,#cb2bd4,#db36c9,#f043bc,#ff4db2,#ff51ae,#ff4db2,#f244bb,#e139c6,#c125da,#9408f7,#4e00ff,#2400ff,#0f00ff,#0300ff,#0000fa,#0000ee,#0000e1,#0000d8,#0000d2)"></i>
<i style="background:linear-gradient(90deg,#0000fa,#0000fe,#0000fe,#0000fe,#0000ff,#0300ff,#0a00ff,#2400ff,#4f00ff,#9307f8,#cb2bd4,#f949b6,#ff55aa,#ff5da2,#ff5fa0,#ff58a7,#ff4fb0,#f949b6,#ef42bd,#e83ec1,#e63dc2,#e83ec1,#f043bc,#fd4bb4,#ff52ad,#ff54ab,#ff50af,#f647b8,#e63cc3,#c829d6,#9b0df2,#5600ff,#2700ff,#1100ff,#0500ff,#0000fc,#0000f0,#0000e4,#0000da,#0000d4)"></i>
<i style="background:linear-gradient(90deg,#0000fb,#0000fe,#0000fe,#0000ff,#0000ff,#0300ff,#0b00ff,#2600ff,#5300ff,#980bf4,#d02fd0,#fc4bb4,#ff56a9,#ff5ea1,#ff609f,#ff5ba4,#ff55aa,#ff54ab,#ff52ad,#ff50af,#ff4fb0,#ff4fb0,#ff50af,#ff53ac,#ff57a8,#ff57a8,#ff52ad,#fa49b6,#eb3fc0,#ce2dd2,#a211ee,#5d00ff,#2a00ff,#1300ff,#0600ff,#0000fe,#0000f2,#0000e6,#0000dc,#0000d6)"></i>
<i style="background:linear-gradient(90deg,#0000fc,#0000ff,#0000fe,#0000ff,#0000ff,#0400ff,#0c00ff,#2800ff,#5800ff,#9d0ef1,#d531ce,#fe4cb3,#ff56a9,#ff5ea1,#ff629d,#ff5ea1,#ff5ca3,#ff5fa0,#ff609f,#ff609f,#ff609f,#ff5ea1,#ff5ca3,#ff5ca3,#ff5ba4,#ff5aa5,#ff54ab,#fd4bb4,#ef42bd,#d331ce,#a815ea,#6400ff,#2d00ff,#1500ff,#0700ff,#0000ff,#0000f3,#0000e7,#0000de,#0000d8)"></i>
<i style="background:linear-gradient(90deg,#0000fc,#0000ff,#0000ff,#0000ff,#0000ff,#0400ff,#0e00ff,#2a00ff,#5d00ff,#a111ee,#d934cb,#ff4db2,#ff57a8,#ff5fa0,#ff639c,#ff619e,#ff639c,#ff6a95,#ff6d92,#ff6e91,#ff6f90,#ff6c93,#ff6897,#ff649b,#ff609f,#ff5da2,#ff56a9,#ff4db2,#f345ba,#d934cb,#ae18e7,#6b00ff,#3000ff,#1700ff,#0900ff,#0100ff,#0000f5,#0000e9,#0000e0,#0000da)"></i>
<i style="background:linear-gradient(90deg,#0000fd,#0000ff,#0000ff,#0000ff,#0100ff,#0400ff,#0f00ff,#2b00ff,#6100ff,#a613ec,#dd37c8,#ff4eb1,#ff57a8,#ff5fa0,#ff649b,#ff649b,#ff6996,#ff738c,#ff7887,#ff7b84,#ff7c83,#ff7986,#ff738c,#ff6c93,#ff659a,#ff5fa0,#ff58a7,#ff4fb0,#f647b8,#de37c8,#b31ce3,#7200ff,#3200ff,#1800ff,#0a00ff,#0200ff,#0000f7,#0000eb,#0000e2,#0000dc)"></i>
<i style="background:linear-gradient(90deg,#0000fe,#0000ff,#0000ff,#0000ff,#0100ff,#0500ff,#1000ff,#2d00ff,#6600ff,#aa16e9,#e139c6,#ff4fb0,#ff57a8,#ff5fa0,#ff659a,#ff6798,#ff708f,#ff7c83,#ff837c,#ff8778,#ff8877,#ff847b,#ff7d82,#ff748b,#ff6996,#ff619e,#ff5aa5,#ff51ae,#f949b6,#e23ac5,#b81fe0,#7900ff,#3500ff,#1a00ff,#0b00ff,#0300ff,#0000f8,#0000ed,#0000e4,#0000dd)"></i>
<i style="background:linear-gradient(90deg,#0000fe,#0100ff,#0000ff,#0000ff,#0100ff,#0500ff,#1100ff,#2f00ff,#6a00ff,#ae18e7,#e53cc3,#ff50af,#ff58a7,#ff609f,#ff659a,#ff6a95,#ff7689,#ff857a,#ff8d72,#ff936c,#ff946b,#ff8f70,#ff8679,#ff7b84,#ff6e91,#ff639c,#ff5ba4,#ff52ad,#fc4ab5,#e73dc2,#bd23dc,#7f00ff,#3800ff,#1c00ff,#0c00ff,#0400ff,#0000f9,#0000ee,#0000e5,#0000df)"></i>
<i style="background:linear-gradient(90deg,#0000ff,#0100ff,#0000ff,#0000ff,#0100ff,#0600ff,#1200ff,#3100ff,#6f00ff,#b21be4,#e83ec1,#ff50af,#ff58a7,#ff609f,#ff6699,#ff6d92,#ff7c83,#ff8d72,#ff9867,#ff9e61,#ffa05f,#ff9a65,#ff8f70,#ff827d,#ff738c,#ff659a,#ff5ca3,#ff53ac,#fe4cb3,#ea3fc0,#c226d9,#8500ff,#3c00ff,#1e00ff,#0d00ff,#0500ff,#0000fb,#0000f0,#0000e7,#0000e1)"></i>
<i style="background:linear-gradient(90deg,#0000ff,#0100ff,#0000ff,#0000ff,#0100ff,#0600ff,#1400ff,#3200ff,#7300ff,#b51de2,#eb40bf,#ff51ae,#ff59a6,#ff609f,#ff6798,#ff718e,#ff827d,#ff946b,#ffa25d,#ffa956,#ffaa55,#ffa45b,#ff9768,#ff8976,#ff7788,#ff6798,#ff5da2,#ff55aa,#ff4db2,#ee42bd,#c728d7,#8b03fc,#3f00ff,#1f00ff,#0e00ff,#0500ff,#0000fc,#0000f1,#0000e9,#0000e3)"></i>
<i style="background:linear-gradient(90deg,#0000ff,#0100ff,#0000ff,#0000ff,#0100ff,#0600ff,#1500ff,#3400ff,#7800ff,#b920df,#ee42bd,#ff52ad,#ff59a6,#ff619e,#ff6897,#ff748b,#ff8877,#ff9c63,#ffac53,#ffb44b,#ffb54a,#ffae51,#ffa05f,#ff906f,#ff7c83,#ff6996,#ff5fa0,#ff56a9,#ff4fb0,#f144bb,#cb2bd4,#9106f9,#4300ff,#2100ff,#0f00ff,#0600ff,#0000fd,#0000f3,#0000ea,#0000e4)"></i>
<i style="background:linear-gradient(90deg,#0100ff,#0100ff,#0100ff,#0000ff,#0100ff,#0700ff,#1600ff,#3600ff,#7c00ff,#bd22dd,#f143bc,#ff53ac,#ff5aa5,#ff619e,#ff6996,#ff7887,#ff8e71,#ffa35c,#ffb649,#ffbe41,#ffbf40,#ffb847,#ffa857,#ff9669,#ff807f,#ff6b94,#ff609f,#ff57a8,#ff50af,#f446b9,#cf2ed1,#970af5,#4600ff,#2300ff,#1000ff,#0700ff,#0000fe,#0000f4,#0000ec,#0000e6)"></i>
<i style="background:linear-gradient(90deg,#0100ff,#0100ff,#0100ff,#0000ff,#0100ff,#0800ff,#1700ff,#3800ff,#8000ff,#c024db,#f345ba,#ff54ab,#ff5ba4,#ff629d,#ff6a95,#ff7d82,#ff936c,#ffab54,#ffbf40,#ffc738,#ffc837,#ffc23d,#ffb04f,#ff9c63,#ff847b,#ff6d92,#ff619e,#ff58a7,#ff51ae,#f747b8,#d330cf,#9c0df2,#4a00ff,#2400ff,#1100ff,#0700ff,#0000fe,#0000f5,#0000ed,#0000e8)"></i>
<i style="background:linear-gradient(90deg,#0100ff,#0200ff,#0100ff,#0000ff,#0100ff,#0800ff,#1800ff,#3a00ff,#8400ff,#c427d8,#f647b8,#ff54ab,#ff5ca3,#ff639c,#ff6c93,#ff817e,#ff9966,#ffb24d,#ffc837,#ffd02f,#ffd02f,#ffca35,#ffb847,#ffa25d,#ff8976,#ff6f90,#ff629d,#ff59a6,#ff52ad,#f949b6,#d632cd,#a010ef,#4d00ff,#2500ff,#1200ff,#0800ff,#0000ff,#0000f6,#0000ef,#0000e9)"></i>
<i style="background:linear-gradient(90deg,#0200ff,#0200ff,#0100ff,#0000ff,#0200ff,#0900ff,#1900ff,#3c00ff,#8800ff,#c729d6,#f848b7,#ff55aa,#ff5da2,#ff649b,#ff6d92,#ff857a,#ff9e61,#ffba45,#ffd02f,#ffd728,#ffd728,#ffd22d,#ffc03f,#ffa758,#ff8d72,#ff718e,#ff639c,#ff5aa5,#ff53ac,#fb4ab5,#d934cb,#a413ec,#5100ff,#2700ff,#1300ff,#0800ff,#0100ff,#0000f7,#0000f0,#0000eb)"></i>
<i style="background:linear-gradient(90deg,#0200ff,#0200ff,#0100ff,#0000ff,#0200ff,#0900ff,#1a00ff,#3f00ff,#8b03fc,#ca2bd4,#fa49b6,#ff56a9,#ff5ea1,#ff649b,#ff6f90,#ff8a75,#ffa45b,#ffc13e,#ffd728,#ffdd22,#ffdd22,#ffd926,#ffc738,#ffad52,#ff916e,#ff748b,#ff649b,#ff5ba4,#ff54ab,#fd4bb4,#dc36c9,#a815ea,#5400ff,#2800ff,#1400ff,#0900ff,#0100ff,#0000f8,#0000f1,#0000ec)"></i>
<i style="background:linear-gradient(90deg,#0200ff,#0200ff,#0100ff,#0000ff,#0200ff,#0a00ff,#1b00ff,#4100ff,#8f05fa,#cd2dd2,#fc4ab5,#ff57a8,#ff5fa0,#ff659a,#ff728d,#ff8e71,#ffaa55,#ffc936,#ffdd22,#ffe31c,#ffe31c,#ffdf20,#ffce31,#ffb34c,#ff956a,#ff7689,#ff659a,#ff5ca3,#ff55aa,#ff4cb3,#df38c7,#ac17e8,#5700ff,#2900ff,#1500ff,#0900ff,#0100ff,#0000f9,#0000f2,#0000ee)"></i>
<i style="background:linear-gradient(90deg,#0200ff,#0200ff,#0100ff,#0000ff,#0200ff,#0b00ff,#1c00ff,#4300ff,#9207f8,#d02fd0,#fd4cb3,#ff58a7,#ff609f,#ff6798,#ff748b,#ff926d,#ffb04f,#ffcf30,#ffe31c,#ffe916,#ffe817,#ffe51a,#ffd52a,#ffb847,#ff9966,#ff7986,#ff6798,#ff5da2,#ff55aa,#ff4db2,#e23ac5,#af19e6,#5a00ff,#2a00ff,#1500ff,#0900ff,#0100ff,#0000fa,#0000f3,#0000ef)"></i>
<i style="background:linear-gradient(90deg,#0200ff,#0200ff,#0100ff,#0000ff,#0200ff,#0b00ff,#1d00ff,#4500ff,#9509f6,#d330cf,#ff4db2,#ff59a6,#ff619e,#ff6897,#ff7788,#ff9768,#ffb649,#ffd629,#ffe817,#ffee11,#ffed12,#ffea15,#ffdb24,#ffbe41,#ff9c63,#ff7c83,#ff6897,#ff5ea1,#ff56a9,#ff4eb1,#e43bc4,#b11be4,#5d00ff,#2b00ff,#1600ff,#0a00ff,#0200ff,#0000fa,#0000f5,#0000f0)"></i>
<i style="background:linear-gradient(90deg,#0200ff,#0200ff,#0100ff,#0000ff,#0300ff,#0c00ff,#1e00ff,#4700ff,#980bf4,#d632cd,#ff4eb1,#ff5aa5,#ff629d,#ff6996,#ff7986,#ff9b64,#ffbc43,#ffdc23,#ffed12,#fff30c,#fff20d,#ffef10,#ffe01f,#ffc33c,#ffa05f,#ff7f80,#ff6996,#ff5fa0,#ff57a8,#ff4fb0,#e73dc2,#b41ce3,#5f00ff,#2b00ff,#1600ff,#0a00ff,#0200ff,#0000fb,#0000f6,#0000f2)"></i>
<i style="background:linear-gradient(90deg,#0200ff,#0200ff,#0100ff,#0000ff,#0300ff,#0d00ff,#1f00ff,#4900ff,#9b0df2,#d934cb,#ff4fb0,#ff5ba4,#ff639c,#ff6a95,#ff7c83,#ff9e61,#ffc23d,#ffe11e,#fff20d,#fff708,#fff609,#fff40b,#ffe51a,#ffc837,#ffa35c,#ff827d,#ff6b94,#ff609f,#ff58a7,#ff50af,#e93ec1,#b51de2,#6200ff,#2c00ff,#1700ff,#0a00ff,#0200ff,#0000fc,#0000f7,#0000f3)"></i>
<i style="background:linear-gradient(90deg,#0300ff,#0200ff,#0100ff,#0000ff,#0300ff,#0d00ff,#2000ff,#4b00ff,#9e0ef1,#db35ca,#ff50af,#ff5ca3,#ff649b,#ff6b94,#ff7f80,#ffa25d,#ffc738,#ffe619,#fff609,#fffc03,#fffb04,#fff906,#ffe916,#ffcd32,#ffa758,#ff847b,#ff6c93,#ff619e,#ff58a7,#ff51ae,#eb3fc0,#b71ee1,#6400ff,#2c00ff,#1700ff,#0a00ff,#0200ff,#0000fc,#0000f7,#0000f4)"></i>
<i style="background:linear-gradient(90deg,#0300ff,#0200ff,#0100ff,#0000fe,#0400ff,#0e00ff,#2100ff,#4d00ff,#a010ef,#dd37c8,#ff51ae,#ff5ca3,#ff659a,#ff6c93,#ff817e,#ffa55a,#ffcb34,#ffea15,#fffa05,#ffff09,#ffff00,#fffd02,#ffed12,#ffd22d,#ffaa55,#ff8778,#ff6e91,#ff629d,#ff59a6,#ff52ad,#ed41be,#b91fe0,#6600ff,#2d00ff,#1800ff,#0a00ff,#0200ff,#0000fc,#0000f8,#0000f5)"></i>
<i style="background:linear-gradient(90deg,#0300ff,#0200ff,#0100ff,#0000fe,#0400ff,#0f00ff,#2200ff,#4f00ff,#a211ee,#e038c7,#ff51ae,#ff5da2,#ff6699,#ff6d92,#ff847b,#ffa857,#ffd02f,#ffee11,#fffe01,#ffff24,#ffff1b,#ffff08,#fff10e,#ffd629,#ffad52,#ff8a75,#ff6f90,#ff639c,#ff5aa5,#ff53ac,#ee42bd,#ba20df,#6700ff,#2d00ff,#1800ff,#0a00ff,#0200ff,#0000fd,#0000f9,#0000f6)"></i>
<i style="background:linear-gradient(90deg,#0200ff,#0200ff,#0100ff,#0000fe,#0400ff,#0f00ff,#2200ff,#5100ff,#a413ec,#e23ac5,#ff52ad,#ff5da2,#ff6699,#ff6f90,#ff8679,#ffab54,#ffd32c,#fff10e,#ffff0d,#ffff3f,#ffff36,#ffff1c,#fff40b,#ffda25,#ffb04f,#ff8d72,#ff718e,#ff649b,#ff5ba4,#ff53ac,#f043bc,#bb21de,#6900ff,#2d00ff,#1800ff,#0b00ff,#0200ff,#0000fd,#0000fa,#0000f7)"></i>
<i style="background:linear-gradient(90deg,#0200ff,#0200ff,#0100ff,#0000fe,#0500ff,#1000ff,#2300ff,#5300ff,#a614eb,#e43bc4,#ff53ac,#ff5ea1,#ff6798,#ff708f,#ff8976,#ffad52,#ffd629,#fff40b,#ffff1f,#ffff58,#ffff50,#ffff2d,#fff708,#ffdd22,#ffb44b,#ff8f70,#ff728d,#ff659a,#ff5ba4,#ff54ab,#f144bb,#bc21de,#6a00ff,#2d00ff,#1800ff,#0b00ff,#0200ff,#0000fe,#0000fb,#0000f8)"></i>
<i style="background:linear-gradient(90deg,#0200ff,#0200ff,#0100ff,#0000fe,#0500ff,#1100ff,#2300ff,#5400ff,#a815ea,#e63cc3,#ff54ab,#ff5ea1,#ff6798,#ff718e,#ff8b74,#ffb04f,#ffd926,#fff609,#ffff2e,#ffff71,#ffff6a,#ffff3d,#fff906,#ffdf20,#ffb649,#ff926d,#ff738c,#ff6699,#ff5ca3,#ff55aa,#f345ba,#bc22dd,#6b00ff,#2d00ff,#1800ff,#0b00ff,#0200ff,#0000fe,#0000fb,#0000f9)"></i>
<i style="background:linear-gradient(90deg,#0200ff,#0100ff,#0100ff,#0000fe,#0500ff,#1100ff,#2400ff,#5600ff,#aa16e9,#e83dc2,#ff54ab,#ff5ea1,#ff6897,#ff728d,#ff8d72,#ffb24d,#ffdb24,#fff708,#ffff3c,#ffff87,#ffff83,#ffff4b,#fffb04,#ffe11e,#ffb946,#ff946b,#ff758a,#ff6699,#ff5da2,#ff55aa,#f445ba,#bd22dd,#6c00ff,#2d00ff,#1800ff,#0b00ff,#0100ff,#0000fe,#0000fc,#0000fa)"></i>
<i style="background:linear-gradient(90deg,#0200ff,#0100ff,#0000ff,#0000fe,#0600ff,#1200ff,#2500ff,#5700ff,#ab17e8,#e93ec1,#ff55aa,#ff5fa0,#ff6897,#ff738c,#ff8f70,#ffb54a,#ffdd22,#fff906,#ffff48,#ffff9b,#ffff9b,#ffff57,#fffc03,#ffe31c,#ffbb44,#ff9669,#ff7689,#ff6798,#ff5da2,#ff56a9,#f546b9,#bd22dd,#6c00ff,#2d00ff,#1800ff,#0b00ff,#0100ff,#0000fe,#0000fc,#0000fb)"></i>
<i style="background:linear-gradient(90deg,#0200ff,#0100ff,#0000ff,#0000fe,#0600ff,#1200ff,#2500ff,#5800ff,#ad18e7,#eb3fc0,#ff55aa,#ff5fa0,#ff6897,#ff748b,#ff916e,#ffb748,#ffdf20,#fffa05,#ffff51,#ffffab,#ffffb1,#ffff62,#fffd02,#ffe41b,#ffbe41,#ff9867,#ff7788,#ff6897,#ff5ea1,#ff56a9,#f646b9,#bd22dd,#6d00ff,#2d00ff,#1800ff,#0a00ff,#0100ff,#0000fe,#0000fd,#0000fc)"></i>
<i style="background:linear-gradient(90deg,#0100ff,#0100ff,#0000ff,#0000ff,#0600ff,#1300ff,#2600ff,#5900ff,#ae19e6,#ec40bf,#ff56a9,#ff5fa0,#ff6897,#ff758a,#ff936c,#ffb946,#ffe01f,#fffb04,#ffff59,#ffffb6,#ffffc2,#ffff6a,#fffe01,#ffe619,#ffbf40,#ff9a65,#ff7887,#ff6996,#ff5ea1,#ff57a8,#f647b8,#bd22dd,#6d00ff,#2d00ff,#1800ff,#0a00ff,#0100ff,#0000ff,#0000fd,#0000fc)"></i>
<i style="background:linear-gradient(90deg,#0100ff,#0100ff,#0000ff,#0000ff,#0700ff,#1300ff,#2600ff,#5a00ff,#af19e6,#ed41be,#ff56a9,#ff5fa0,#ff6996,#ff758a,#ff946b,#ffba45,#ffe11e,#fffb04,#ffff60,#ffffbe,#ffffcd,#ffff71,#ffff00,#ffe718,#ffc13e,#ff9b64,#ff7986,#ff6996,#ff5fa0,#ff57a8,#f747b8,#bd22dd,#6d00ff,#2d00ff,#1800ff,#0a00ff,#0100ff,#0000ff,#0000fe,#0000fd)"></i>
<i style="background:linear-gradient(90deg,#0100ff,#0100ff,#0000ff,#0000ff,#0700ff,#1400ff,#2600ff,#5b00ff,#b01ae5,#ee41be,#ff56a9,#ff5fa0,#ff6996,#ff7689,#ff956a,#ffbb44,#ffe21d,#fffc03,#ffff64,#ffffc6,#ffffd4,#ffff76,#ffff03,#ffe718,#ffc23d,#ff9c63,#ff7a85,#ff6a95,#ff5fa0,#ff57a8,#f747b8,#bd22dd,#6d00ff,#2c00ff,#1800ff,#0a00ff,#0100ff,#0000ff,#0000fe,#0000fe)"></i>
<i style="background:linear-gradient(90deg,#0000ff,#0000ff,#0000ff,#0000ff,#0700ff,#1400ff,#2700ff,#5c00ff,#b11ae5,#ee42bd,#ff56a9,#ff5ea1,#ff6897,#ff7689,#ff9669,#ffbc43,#ffe21d,#fffc03,#ffff67,#ffffcc,#ffffda,#ffff79,#ffff05,#ffe817,#ffc33c,#ff9d62,#ff7a85,#ff6a95,#ff5fa0,#ff58a7,#f747b8,#bd22dd,#6c00ff,#2c00ff,#1700ff,#0a00ff,#0000ff,#0000ff,#0000ff,#0000fe)"></i>
<i style="background:linear-gradient(90deg,#0000ff,#0000ff,#0000ff,#0000ff,#0700ff,#1500ff,#2700ff,#5d00ff,#b11be4,#ef42bd,#ff56a9,#ff5ea1,#ff6897,#ff7689,#ff9669,#ffbc43,#ffe31c,#fffc03,#ffff68,#ffffce,#ffffdd,#ffff7a,#ffff05,#ffe817,#ffc33c,#ff9d62,#ff7a85,#ff6a95,#ff609f,#ff58a7,#f747b8,#bc22dd,#6c00ff,#2c00ff,#1700ff,#0a00ff,#0000ff,#0000ff,#0000ff,#0000ff)"></i>
<i style="background:linear-gradient(90deg,#0000fe,#0000ff,#0000ff,#0000ff,#0800ff,#1500ff,#2800ff,#5d00ff,#b21be4,#ef42bd,#ff56a9,#ff5ea1,#ff6897,#ff7689,#ff9669,#ffbc43,#ffe21d,#fffc03,#ffff67,#ffffcc,#ffffda,#ffff79,#ffff05,#ffe817,#ffc33c,#ff9d62,#ff7a85,#ff6a95,#ff609f,#ff58a7,#f647b8,#bb21de,#6b00ff,#2b00ff,#1700ff,#0900ff,#0000ff,#0000ff,#0000ff,#0000ff)"></i>
<i style="background:linear-gradient(90deg,#0000fe,#0000fe,#0000ff,#0000ff,#0800ff,#1500ff,#2800ff,#5d00ff,#b31ce3,#ef42bd,#ff56a9,#ff5ea1,#ff6897,#ff7689,#ff9669,#ffbb44,#ffe21d,#fffc03,#ffff64,#ffffc6,#ffffd4,#ffff76,#ffff03,#ffe718,#ffc23d,#ff9c63,#ff7986,#ff6a95,#ff609f,#ff58a7,#f647b8,#ba21de,#6a00ff,#2b00ff,#1600ff,#0900ff,#0000ff,#0000ff,#0000ff,#0100ff)"></i>
<i style="background:linear-gradient(90deg,#0000fd,#0000fe,#0000ff,#0000ff,#0800ff,#1500ff,#2800ff,#5e00ff,#b31ce3,#ef42bd,#ff56a9,#ff5da2,#ff6798,#ff758a,#ff956a,#ffba45,#ffe11e,#fffb04,#ffff60,#ffffbe,#ffffcd,#ffff71,#ffff00,#ffe718,#ffc13e,#ff9b64,#ff7986,#ff6a95,#ff609f,#ff58a7,#f546b9,#ba20df,#6900ff,#2a00ff,#1600ff,#0900ff,#0000ff,#0000ff,#0100ff,#0100ff)"></i>
<i style="background:linear-gradient(90deg,#0000fc,#0000fd,#0000fe,#0100ff,#0800ff,#1600ff,#2900ff,#5e00ff,#b31ce3,#ee42bd,#ff55aa,#ff5da2,#ff6798,#ff758a,#ff936c,#ffb946,#ffe01f,#fffb04,#ffff59,#ffffb6,#ffffc2,#ffff6a,#fffe01,#ffe619,#ffbf40,#ff9966,#ff7887,#ff6a95,#ff609f,#ff57a8,#f446b9,#b81fe0,#6800ff,#2a00ff,#1500ff,#0800ff,#0000ff,#0000ff,#0100ff,#0100ff)"></i>
<i style="background:linear-gradient(90deg,#0000fc,#0000fd,#0000fe,#0100ff,#0800ff,#1600ff,#2900ff,#5d00ff,#b31ce3,#ee41be,#ff55aa,#ff5ca3,#ff6699,#ff748b,#ff926d,#ffb748,#ffdf20,#fffa05,#ffff51,#ffffab,#ffffb1,#ffff62,#fffd02,#ffe41b,#ffbd42,#ff9867,#ff7788,#ff6a95,#ff609f,#ff57a8,#f345ba,#b71fe0,#6700ff,#2a00ff,#1500ff,#0800ff,#0000ff,#0000ff,#0100ff,#0200ff)"></i>
<i style="background:linear-gradient(90deg,#0000fb,#0000fc,#0000fe,#0100ff,#0900ff,#1600ff,#2900ff,#5d00ff,#b31ce3,#ed41be,#ff54ab,#ff5ca3,#ff659a,#ff738c,#ff906f,#ffb54a,#ffdd22,#fff906,#ffff48,#ffff9b,#ffff9b,#ffff57,#fffc03,#ffe31c,#ffbb44,#ff9669,#ff7689,#ff6a95,#ff609f,#ff57a8,#f244bb,#b61ee1,#6600ff,#2900ff,#1400ff,#0800ff,#0000ff,#0000ff,#0100ff,#0200ff)"></i>
<i style="background:linear-gradient(90deg,#0000fa,#0000fb,#0000fe,#0100ff,#0900ff,#1600ff,#2900ff,#5d00ff,#b31ce3,#ec40bf,#ff54ab,#ff5ba4,#ff659a,#ff728d,#ff8e71,#ffb24d,#ffdb24,#fff708,#ffff3c,#ffff87,#ffff83,#ffff4b,#fffb04,#ffe11e,#ffb946,#ff946b,#ff758a,#ff6996,#ff609f,#ff56a9,#f043bc,#b41de2,#6400ff,#2800ff,#1400ff,#0700ff,#0000fe,#0000ff,#0100ff,#0200ff)"></i>
<i style="background:linear-gradient(90deg,#0000f9,#0000fb,#0000fd,#0100ff,#0900ff,#1600ff,#2900ff,#5c00ff,#b21be4,#eb40bf,#ff53ac,#ff5ba4,#ff649b,#ff718e,#ff8c73,#ffb04f,#ffd926,#fff609,#ffff2e,#ffff71,#ffff6a,#ffff3d,#fff906,#ffdf20,#ffb649,#ff916e,#ff738c,#ff6996,#ff609f,#ff56a9,#ee42bd,#b31ce3,#6200ff,#2800ff,#1300ff,#0700ff,#0000fe,#0000ff,#0100ff,#0200ff)"></i>
<i style="background:linear-gradient(90deg,#0000f8,#0000fa,#0000fd,#0100ff,#0900ff,#1600ff,#2900ff,#5b00ff,#b21be4,#ea3fc0,#ff53ac,#ff5aa5,#ff639c,#ff6f90,#ff8976,#ffad52,#ffd629,#fff40b,#ffff1e,#ffff58,#ffff50,#ffff2e,#fff708,#ffdd22,#ffb44b,#ff8f70,#ff728d,#ff6897,#ff5fa0,#ff55aa,#ed41be,#b11ae5,#6100ff,#2700ff,#1200ff,#0600ff,#0000fe,#0000ff,#0100ff,#0200ff)"></i>
<i style="background:linear-gradient(90deg,#0000f7,#0000f9,#0000fd,#0100ff,#0900ff,#1600ff,#2900ff,#5a00ff,#b11ae5,#e83ec1,#ff52ad,#ff59a6,#ff629d,#ff6e91,#ff8778,#ffaa55,#ffd32c,#fff10e,#ffff0c,#ffff3f,#ffff36,#ffff1c,#fff40b,#ffda25,#ffb14e,#ff8c73,#ff718e,#ff6897,#ff5fa0,#ff55aa,#eb40bf,#af19e6,#5f00ff,#2700ff,#1200ff,#0600ff,#0000fe,#0000ff,#0200ff,#0200ff)"></i>
<i style="background:linear-gradient(90deg,#0000f6,#0000f9,#0000fc,#0100ff,#0900ff,#1500ff,#2900ff,#5900ff,#b01ae5,#e73dc2,#ff51ae,#ff59a6,#ff619e,#ff6d92,#ff847b,#ffa758,#ffcf30,#ffee11,#fffe01,#ffff24,#ffff1b,#ffff08,#fff10e,#ffd629,#ffae51,#ff8a75,#ff6f90,#ff6798,#ff5ea1,#ff54ab,#e93ec1,#ad18e7,#5d00ff,#2600ff,#1100ff,#0600ff,#0000fe,#0100ff,#0200ff,#0200ff)"></i>
<i style="background:linear-gradient(90deg,#0000f5,#0000f8,#0000fc,#0100ff,#0900ff,#1500ff,#2800ff,#5700ff,#ae19e6,#e53cc3,#ff50af,#ff58a7,#ff619e,#ff6b94,#ff827d,#ffa45b,#ffcb34,#ffea15,#fffa05,#ffff09,#ffff00,#fffd02,#ffed12,#ffd22d,#ffab54,#ff8778,#ff6e91,#ff6699,#ff5ea1,#ff53ac,#e63dc2,#ab17e8,#5b00ff,#2500ff,#1000ff,#0500ff,#0000fe,#0100ff,#0200ff,#0300ff)"></i>
<i style="background:linear-gradient(90deg,#0000f4,#0000f7,#0000fb,#0100ff,#0800ff,#1500ff,#2800ff,#5600ff,#ac18e7,#e33bc4,#ff4fb0,#ff57a8,#ff609f,#ff6a95,#ff7f80,#ffa15e,#ffc738,#ffe619,#fff609,#fffc03,#fffb04,#fff906,#ffe916,#ffcd32,#ffa758,#ff847b,#ff6d92,#ff659a,#ff5da2,#ff52ad,#e43bc4,#a915ea,#5800ff,#2400ff,#1000ff,#0500ff,#0000fe,#0100ff,#0200ff,#0300ff)"></i>
<i style="background:linear-gradient(90deg,#0000f2,#0000f6,#0000fb,#0100ff,#0800ff,#1400ff,#2700ff,#5400ff,#ab16e9,#e139c6,#ff4eb1,#ff57a8,#ff5fa0,#ff6996,#ff7d82,#ff9e61,#ffc23d,#ffe21d,#fff20d,#fff708,#fff609,#fff40b,#ffe51a,#ffc837,#ffa45b,#ff817e,#ff6c93,#ff649b,#ff5ca3,#ff51ae,#e23ac5,#a614eb,#5600ff,#2400ff,#0f00ff,#0400ff,#0000fe,#0100ff,#0200ff,#0300ff)"></i>
<i style="background:linear-gradient(90deg,#0000f1,#0000f5,#0000fa,#0100ff,#0800ff,#1400ff,#2700ff,#5200ff,#a815ea,#df38c7,#ff4db2,#ff56a9,#ff5ea1,#ff6798,#ff7a85,#ff9a65,#ffbd42,#ffdc23,#ffed12,#fff30c,#fff20d,#ffef10,#ffe01f,#ffc23d,#ffa05f,#ff7e81,#ff6a95,#ff639c,#ff5ba4,#ff50af,#df38c7,#a412ed,#5400ff,#2300ff,#0e00ff,#0400ff,#0000fe,#0100ff,#0200ff,#0200ff)"></i>
<i style="background:linear-gradient(90deg,#0000f0,#0000f4,#0000f9,#0100ff,#0800ff,#1300ff,#2600ff,#4f00ff,#a613ec,#dd37c8,#ff4cb3,#ff55aa,#ff5da2,#ff6699,#ff7788,#ff9768,#ffb847,#ffd728,#ffe817,#ffee11,#ffed12,#ffea15,#ffda25,#ffbc43,#ff9c63,#ff7b84,#ff6996,#ff629d,#ff5ba4,#ff4fb0,#dc36c9,#a110ef,#5100ff,#2200ff,#0d00ff,#0400ff,#0000fe,#0100ff,#0200ff,#0200ff)"></i>
<i style="background:linear-gradient(90deg,#0000ee,#0000f3,#0000f8,#0000ff,#0800ff,#1300ff,#2500ff,#4d00ff,#a311ee,#da35ca,#fd4bb4,#ff54ab,#ff5ca3,#ff659a,#ff758a,#ff936c,#ffb34c,#ffd12e,#ffe31c,#ffe916,#ffe817,#ffe51a,#ffd42b,#ffb54a,#ff9867,#ff7986,#ff6897,#ff619e,#ff5aa5,#ff4eb1,#da35ca,#9e0ff0,#4f00ff,#2100ff,#0c00ff,#0300ff,#0000ff,#0100ff,#0200ff,#0200ff)"></i>
<i style="background:linear-gradient(90deg,#0000ed,#0000f1,#0000f8,#0000ff,#0700ff,#1200ff,#2500ff,#4b00ff,#9f0ff0,#d833cc,#fb4ab5,#ff53ac,#ff5ba4,#ff649b,#ff728d,#ff8f70,#ffae51,#ffca35,#ffdd22,#ffe31c,#ffe31c,#ffdf20,#ffcd32,#ffaf50,#ff936c,#ff7689,#ff6798,#ff609f,#ff59a6,#ff4db2,#d733cc,#9b0df2,#4c00ff,#2000ff,#0c00ff,#0300ff,#0000ff,#0100ff,#0200ff,#0200ff)"></i>
<i style="background:linear-gradient(90deg,#0000ec,#0000f0,#0000f7,#0000ff,#0700ff,#1200ff,#2400ff,#4800ff,#9c0df2,#d532cd,#f949b6,#ff53ac,#ff5aa5,#ff639c,#ff708f,#ff8c73,#ffa857,#ffc33c,#ffd728,#ffdd22,#ffdd22,#ffd926,#ffc639,#ffa857,#ff8e71,#ff738c,#ff6699,#ff5fa0,#ff58a7,#fe4cb3,#d431ce,#980af5,#4900ff,#1f00ff,#0b00ff,#0300ff,#0000ff,#0100ff,#0200ff,#0200ff)"></i>
<i style="background:linear-gradient(90deg,#0000ea,#0000ef,#0000f6,#0000fe,#0700ff,#1100ff,#2300ff,#4500ff,#970af5,#d230cf,#f748b7,#ff52ad,#ff59a6,#ff619e,#ff6e91,#ff8877,#ffa35c,#ffbc43,#ffd02f,#ffd728,#ffd728,#ffd22d,#ffbe41,#ffa25d,#ff8a75,#ff708f,#ff659a,#ff5ea1,#ff57a8,#fd4bb4,#d12fd0,#9408f7,#4700ff,#1e00ff,#0a00ff,#0200ff,#0000ff,#0100ff,#0100ff,#0200ff)"></i>
<i style="background:linear-gradient(90deg,#0000e8,#0000ee,#0000f5,#0000fe,#0600ff,#1000ff,#2100ff,#4200ff,#9307f8,#ce2dd2,#f546b9,#ff51ae,#ff58a7,#ff609f,#ff6c93,#ff847b,#ff9e61,#ffb54a,#ffc837,#ffd02f,#ffd02f,#ffca35,#ffb748,#ff9c63,#ff857a,#ff6e91,#ff649b,#ff5da2,#ff56a9,#fb4ab5,#cd2dd2,#9106f9,#4400ff,#1d00ff,#0900ff,#0200ff,#0000ff,#0100ff,#0100ff,#0200ff)"></i>
<i style="background:linear-gradient(90deg,#0000e7,#0000ec,#0000f4,#0000fd,#0600ff,#0f00ff,#2000ff,#4000ff,#8e04fb,#cb2bd4,#f244bb,#ff50af,#ff57a8,#ff5fa0,#ff6a95,#ff807f,#ff9867,#ffad52,#ffbf40,#ffc837,#ffc738,#ffc13e,#ffaf50,#ff9768,#ff817e,#ff6c93,#ff639c,#ff5ca3,#ff55aa,#f949b6,#ca2bd4,#8d03fc,#4100ff,#1b00ff,#0900ff,#0200ff,#0000ff,#0100ff,#0100ff,#0100ff)"></i>
<i style="background:linear-gradient(90deg,#0000e5,#0000eb,#0000f2,#0000fc,#0500ff,#0e00ff,#1f00ff,#3d00ff,#8901fe,#c729d6,#ef43bc,#ff4fb0,#ff56a9,#ff5ea1,#ff6996,#ff7c83,#ff936c,#ffa55a,#ffb649,#ffbe41,#ffbe41,#ffb847,#ffa758,#ff916e,#ff7c83,#ff6b94,#ff629d,#ff5ba4,#ff54ab,#f747b8,#c628d7,#8901fe,#3f00ff,#1a00ff,#0800ff,#0200ff,#0000ff,#0000ff,#0100ff,#0100ff)"></i>
<i style="background:linear-gradient(90deg,#0000e4,#0000e9,#0000f1,#0000fb,#0500ff,#0d00ff,#1d00ff,#3a00ff,#8400ff,#c326d9,#ec40bf,#ff4db2,#ff54ab,#ff5da2,#ff6798,#ff7887,#ff8d72,#ff9d62,#ffac53,#ffb54a,#ffb44b,#ffae51,#ff9f60,#ff8c73,#ff7887,#ff6996,#ff629d,#ff5ba4,#ff53ac,#f546b9,#c326d9,#8400ff,#3c00ff,#1900ff,#0800ff,#0200ff,#0000ff,#0000ff,#0100ff,#0100ff)"></i>
<i style="background:linear-gradient(90deg,#0000e2,#0000e8,#0000f0,#0000fa,#0400ff,#0c00ff,#1c00ff,#3800ff,#7e00ff,#bf23dc,#e93ec1,#fe4cb3,#ff53ac,#ff5ca3,#ff659a,#ff748b,#ff8679,#ff956a,#ffa25d,#ffaa55,#ffaa55,#ffa45b,#ff9768,#ff8679,#ff738c,#ff6897,#ff629d,#ff5aa5,#ff53ac,#f244bb,#bf24db,#8000ff,#3a00ff,#1800ff,#0700ff,#0100ff,#0000ff,#0000ff,#0100ff,#0000ff)"></i>
<i style="background:linear-gradient(90deg,#0000e0,#0000e6,#0000ee,#0000f9,#0300ff,#0b00ff,#1a00ff,#3500ff,#7800ff,#ba21de,#e53cc3,#fc4bb4,#ff52ad,#ff5ba4,#ff649b,#ff708f,#ff807f,#ff8d72,#ff9867,#ff9f60,#ff9f60,#ff9966,#ff8f70,#ff7f80,#ff6f90,#ff6798,#ff619e,#ff59a6,#ff52ad,#ef43bc,#bb21de,#7c00ff,#3800ff,#1600ff,#0700ff,#0100ff,#0000ff,#0000ff,#0100ff,#0000ff)"></i>
<i style="background:linear-gradient(90deg,#0000de,#0000e4,#0000ed,#0000f7,#0300ff,#0a00ff,#1900ff,#3200ff,#7100ff,#b61de2,#e139c6,#f949b6,#ff51ae,#ff5aa5,#ff629d,#ff6c93,#ff7986,#ff857a,#ff8e71,#ff946b,#ff946b,#ff8f70,#ff8778,#ff7986,#ff6b94,#ff6699,#ff619e,#ff59a6,#ff51ae,#ec41be,#b71fe0,#7700ff,#3500ff,#1500ff,#0600ff,#0100ff,#0000ff,#0000ff,#0100ff,#0000ff)"></i>
<i style="background:linear-gradient(90deg,#0000dd,#0000e2,#0000eb,#0000f6,#0200ff,#0900ff,#1700ff,#3000ff,#6b00ff,#b11ae5,#dc36c9,#f747b8,#ff4fb0,#ff58a7,#ff609f,#ff6897,#ff728d,#ff7c83,#ff837c,#ff8877,#ff8877,#ff847b,#ff7e81,#ff728d,#ff6897,#ff659a,#ff619e,#ff59a6,#ff51ae,#e93ec1,#b31ce3,#7200ff,#3300ff,#1400ff,#0600ff,#0100ff,#0000ff,#0000ff,#0000ff,#0000fe)"></i>
<i style="background:linear-gradient(90deg,#0000db,#0000e1,#0000e9,#0000f5,#0100ff,#0800ff,#1500ff,#2d00ff,#6500ff,#ab17e8,#d833cc,#f345ba,#ff4eb1,#ff57a8,#ff5ea1,#ff649b,#ff6b94,#ff728d,#ff7887,#ff7b84,#ff7b84,#ff7986,#ff758a,#ff6b94,#ff649b,#ff649b,#ff609f,#ff58a7,#ff50af,#e63cc3,#af19e6,#6d00ff,#3100ff,#1200ff,#0500ff,#0100ff,#0000ff,#0000ff,#0000ff,#0000fe)"></i>
<i style="background:linear-gradient(90deg,#0000d9,#0000df,#0000e8,#0000f3,#0000ff,#0700ff,#1400ff,#2b00ff,#5e00ff,#a613ec,#d230cf,#f043bc,#fe4cb3,#ff55aa,#ff5ca3,#ff609f,#ff639c,#ff6798,#ff6c93,#ff6e91,#ff6e91,#ff6d92,#ff6a95,#ff649b,#ff619e,#ff639c,#ff609f,#ff58a7,#ff4fb0,#e23ac5,#ab16e9,#6800ff,#2f00ff,#1100ff,#0500ff,#0100ff,#0000ff,#0000ff,#0000ff,#0000fd)"></i>
<i style="background:linear-gradient(90deg,#0000d7,#0000dd,#0000e6,#0000f1,#0000fd,#0600ff,#1200ff,#2800ff,#5700ff,#9f0ff0,#cd2cd3,#ec40bf,#fb4ab5,#ff53ac,#ff5aa5,#ff5ba4,#ff5ca3,#ff5ca3,#ff5ea1,#ff609f,#ff609f,#ff609f,#ff609f,#ff5ca3,#ff5da2,#ff629d,#ff5fa0,#ff58a7,#ff4eb1,#de37c8,#a614eb,#6300ff,#2d00ff,#1000ff,#0500ff,#0100ff,#0000ff,#0000fe,#0000ff,#0000fc)"></i>
<i style="background:linear-gradient(90deg,#0000d5,#0000db,#0000e4,#0000ef,#0000fc,#0500ff,#1000ff,#2500ff,#5100ff,#990bf4,#c729d6,#e73dc2,#f748b7,#ff51ae,#ff57a8,#ff57a8,#ff54ab,#ff51ae,#ff4fb0,#ff4fb0,#ff4fb0,#ff51ae,#ff54ab,#ff55aa,#ff5aa5,#ff609f,#ff5fa0,#ff57a8,#ff4db2,#d934cb,#a211ee,#5f00ff,#2b00ff,#0e00ff,#0400ff,#0100ff,#0000ff,#0000fe,#0000fe,#0000fc)"></i>
<i style="background:linear-gradient(90deg,#0000d3,#0000d9,#0000e2,#0000ee,#0000fa,#0400ff,#0e00ff,#2200ff,#4a00ff,#9106f9,#c125da,#e23ac5,#f345ba,#ff4eb1,#ff54ab,#ff53ac,#ff4cb3,#f244bb,#e83ec1,#e63dc2,#e73dc2,#ed41be,#f748b7,#ff4db2,#ff56a9,#ff5ea1,#ff5ea1,#ff57a8,#fe4cb3,#d431ce,#9d0ef1,#5a00ff,#2900ff,#0d00ff,#0400ff,#0100ff,#0000ff,#0000fe,#0000fe,#0000fb)"></i>
<i style="background:linear-gradient(90deg,#0000d1,#0000d7,#0000e0,#0000ec,#0000f9,#0200ff,#0d00ff,#2000ff,#4400ff,#8a01fe,#ba21de,#dd37c8,#ef42bd,#fd4bb4,#ff51ae,#ff4eb1,#f345ba,#df38c7,#cd2dd2,#c728d7,#c829d6,#d230cf,#e43bc4,#f546b9,#ff53ac,#ff5ca3,#ff5da2,#ff56a9,#fc4ab5,#d02ed1,#980bf4,#5500ff,#2700ff,#0c00ff,#0400ff,#0100ff,#0000fe,#0000fe,#0000fe,#0000fa)"></i>
<i style="background:linear-gradient(90deg,#0000cf,#0000d5,#0000de,#0000ea,#0000f7,#0100ff,#0b00ff,#1d00ff,#3e00ff,#8200ff,#b41ce3,#d733cc,#ea3fc0,#f948b7,#ff4eb1,#fb4ab5,#e83ec1,#cb2bd4,#b11be4,#a613ec,#a815ea,#b61ee1,#d02ed1,#ea3fc0,#ff4fb0,#ff5aa5,#ff5ba4,#ff55aa,#f848b7,#ca2bd4,#9307f8,#5000ff,#2500ff,#0b00ff,#0300ff,#0000ff,#0000fe,#0000fe,#0000fd,#0000fa)"></i>
<i style="background:linear-gradient(90deg,#0000cd,#0000d3,#0000dc,#0000e7,#0000f5,#0000fe,#0900ff,#1a00ff,#3800ff,#7900ff,#ad18e7,#d12fd0,#e53cc3,#f445ba,#fc4ab5,#f445ba,#dd37c8,#b920df,#9609f6,#8500ff,#8700ff,#9b0cf3,#bc22dd,#de38c7,#fc4bb4,#ff57a8,#ff5aa5,#ff54ab,#f546b9,#c528d7,#8d03fc,#4b00ff,#2200ff,#0a00ff,#0300ff,#0000ff,#0000fe,#0000fd,#0000fd,#0000f9)"></i>
<i style="background:linear-gradient(90deg,#0000cb,#0000d1,#0000d9,#0000e5,#0000f3,#0000fd,#0700ff,#1800ff,#3300ff,#7100ff,#a614eb,#ca2bd4,#e039c6,#ee42bd,#f646b9,#ec41be,#d230cf,#a915ea,#7d00ff,#6600ff,#6700ff,#8000ff,#aa16e9,#d431ce,#f647b8,#ff55aa,#ff58a7,#ff52ad,#f043bc,#c024db,#8700ff,#4700ff,#2000ff,#0900ff,#0300ff,#0000ff,#0000fe,#0000fd,#0000fc,#0000f8)"></i>
<i style="background:linear-gradient(90deg,#0000ca,#0000cf,#0000d7,#0000e3,#0000f0,#0000fb,#0500ff,#1500ff,#2e00ff,#6800ff,#9f0ff0,#c326d9,#da35ca,#e93ec1,#ef42bd,#e53cc3,#c92ad5,#9b0cf3,#6700ff,#4a00ff,#4b00ff,#6900ff,#9a0cf3,#ca2ad5,#ef42bd,#ff51ae,#ff55aa,#ff50af,#eb40bf,#ba21de,#8100ff,#4300ff,#1e00ff,#0800ff,#0300ff,#0000ff,#0000fe,#0000fd,#0000fc,#0000f7)"></i>
<i style="background:linear-gradient(90deg,#0000c8,#0000cd,#0000d5,#0000e1,#0000ee,#0000f9,#0400ff,#1300ff,#2900ff,#5f00ff,#980af5,#bc22dd,#d431ce,#e33bc4,#e93ec1,#df38c7,#c024db,#8f05fa,#5600ff,#3400ff,#3500ff,#5700ff,#8d04fb,#c125da,#e93ec1,#ff4eb1,#ff53ac,#ff4eb1,#e63dc2,#b51de2,#7a00ff,#3f00ff,#1c00ff,#0800ff,#0300ff,#0000ff,#0000fd,#0000fc,#0000fb,#0000f7)"></i>
<i style="background:linear-gradient(90deg,#0000c6,#0000cb,#0000d3,#0000de,#0000ec,#0000f7,#0200ff,#1000ff,#2600ff,#5700ff,#9006f9,#b51de2,#ce2dd2,#dd37c8,#e23ac5,#d833cc,#b920df,#8500ff,#4b00ff,#2500ff,#2500ff,#4a00ff,#8300ff,#b920df,#e33bc4,#fc4bb4,#ff50af,#fe4cb3,#e039c6,#af19e6,#7400ff,#3b00ff,#1900ff,#0700ff,#0200ff,#0000ff,#0000fd,#0000fc,#0000fa,#0000f6)"></i>
<i style="background:linear-gradient(90deg,#0000c4,#0000c9,#0000d1,#0000dc,#0000e9,#0000f5,#0000ff,#0e00ff,#2200ff,#4e00ff,#8901fe,#ad18e7,#c729d6,#d733cc,#dc36c9,#d22fd0,#b31ce3,#7f00ff,#4400ff,#1d00ff,#1d00ff,#4100ff,#7b00ff,#b31ce3,#dd37c8,#f647b8,#ff4db2,#f949b6,#da35ca,#aa16e9,#6d00ff,#3800ff,#1700ff,#0700ff,#0200ff,#0000ff,#0000fd,#0000fc,#0000fa,#0000f5)"></i>
<i style="background:linear-gradient(90deg,#0000c2,#0000c7,#0000ce,#0000d9,#0000e7,#0000f3,#0000fd,#0b00ff,#1e00ff,#4600ff,#8000ff,#a613ec,#c024db,#d02fd0,#d632cd,#cb2bd4,#ae18e7,#7c00ff,#4200ff,#1c00ff,#1b00ff,#3e00ff,#7700ff,#af19e6,#d833cc,#f143bc,#fb4ab5,#f446b9,#d431ce,#a412ed,#6700ff,#3400ff,#1500ff,#0600ff,#0200ff,#0000fe,#0000fd,#0000fb,#0000f9,#0000f4)"></i>
<i style="background:linear-gradient(90deg,#0000c0,#0000c6,#0000cc,#0000d7,#0000e4,#0000f0,#0000fa,#0900ff,#1b00ff,#3e00ff,#7700ff,#9e0ff0,#b920df,#ca2ad5,#d02ed1,#c628d7,#aa16e9,#7b00ff,#4400ff,#2000ff,#1e00ff,#4000ff,#7700ff,#ac17e8,#d330cf,#eb40bf,#f546b9,#ee42bd,#cd2dd2,#9d0ef1,#6000ff,#3100ff,#1300ff,#0600ff,#0200ff,#0000fe,#0000fc,#0000fb,#0000f8,#0000f3)"></i>
<i style="background:linear-gradient(90deg,#0000be,#0000c4,#0000ca,#0000d5,#0000e2,#0000ee,#0000f8,#0700ff,#1700ff,#3600ff,#6e00ff,#970af5,#b21be4,#c326d9,#ca2ad5,#c125da,#a714eb,#7c00ff,#4a00ff,#2800ff,#2700ff,#4600ff,#7800ff,#aa16e9,#ce2dd2,#e63cc3,#f043bc,#e83ec1,#c628d7,#9609f6,#5900ff,#2e00ff,#1100ff,#0500ff,#0200ff,#0000fe,#0000fc,#0000fa,#0000f8,#0000f2)"></i>
<i style="background:linear-gradient(90deg,#0000bd,#0000c2,#0000c8,#0000d2,#0000df,#0000ec,#0000f6,#0500ff,#1400ff,#2f00ff,#6500ff,#8f05fa,#ab16e9,#bc22dd,#c426d9,#bc22dd,#a513ec,#7f00ff,#5200ff,#3400ff,#3200ff,#4e00ff,#7c00ff,#a916e9,#ca2bd4,#e039c6,#ea3fc0,#e139c6,#bf24db,#8f05fa,#5300ff,#2b00ff,#0f00ff,#0500ff,#0100ff,#0000fe,#0000fc,#0000fa,#0000f7,#0000f2)"></i>
<i style="background:linear-gradient(90deg,#0000bb,#0000c0,#0000c6,#0000d0,#0000dd,#0000e9,#0000f3,#0300ff,#1100ff,#2800ff,#5b00ff,#8700ff,#a312ed,#b61ee1,#be23dc,#b81fe0,#a312ed,#8200ff,#5b00ff,#4100ff,#3f00ff,#5800ff,#8100ff,#a915ea,#c628d7,#db35ca,#e43bc4,#da35ca,#b81fe0,#8700ff,#4d00ff,#2700ff,#0e00ff,#0500ff,#0100ff,#0000fd,#0000fb,#0000f9,#0000f6,#0000f1)"></i>
<i style="background:linear-gradient(90deg,#0000b9,#0000be,#0000c4,#0000cd,#0000da,#0000e6,#0000f1,#0000ff,#0f00ff,#2300ff,#5200ff,#7f00ff,#9c0df2,#af19e6,#b81fe0,#b41ce3,#a211ee,#8600ff,#6500ff,#4e00ff,#4d00ff,#6200ff,#8600ff,#a915ea,#c326d9,#d532cd,#dd37c8,#d330cf,#b11be4,#7f00ff,#4700ff,#2400ff,#0c00ff,#0400ff,#0100ff,#0000fd,#0000fb,#0000f9,#0000f5,#0000f0)"></i>
<i style="background:linear-gradient(90deg,#0000b7,#0000bc,#0000c2,#0000cb,#0000d7,#0000e4,#0000ee,#0000fd,#0c00ff,#1e00ff,#4800ff,#7700ff,#9408f7,#a815ea,#b21be4,#b01ae5,#a110ef,#8901fe,#6d00ff,#5a00ff,#5900ff,#6c00ff,#8b02fd,#a916e9,#c024db,#d02ed1,#d733cc,#cb2bd4,#aa16e9,#7700ff,#4100ff,#2100ff,#0b00ff,#0400ff,#0100ff,#0000fd,#0000fa,#0000f8,#0000f4,#0000ef)"></i>
<i style="background:linear-gradient(90deg,#0000b6,#0000ba,#0000c0,#0000c8,#0000d5,#0000e1,#0000eb,#0000fa,#0900ff,#1900ff,#3f00ff,#6f00ff,#8d03fc,#a111ee,#ac18e7,#ac17e8,#9f0ff0,#8b02fd,#7500ff,#6500ff,#6400ff,#7500ff,#9005fa,#a915ea,#bc22dd,#ca2bd4,#d02ed1,#c426d9,#a312ed,#6e00ff,#3c00ff,#1e00ff,#0a00ff,#0300ff,#0000ff,#0000fc,#0000fa,#0000f8,#0000f3,#0000ee)"></i>
<i style="background:linear-gradient(90deg,#0000b4,#0000b9,#0000be,#0000c6,#0000d2,#0000de,#0000e9,#0000f7,#0700ff,#1600ff,#3600ff,#6600ff,#8500ff,#9b0cf3,#a714eb,#a815ea,#9e0ef1,#8d04fb,#7b00ff,#6e00ff,#6e00ff,#7d00ff,#9308f7,#a915ea,#b920df,#c527d8,#c92ad5,#bc22dd,#9b0df2,#6600ff,#3800ff,#1b00ff,#0900ff,#0300ff,#0000ff,#0000fc,#0000f9,#0000f7,#0000f2,#0000ed)"></i>
<i style="background:linear-gradient(90deg,#0000b3,#0000b7,#0000bc,#0000c4,#0000cf,#0000db,#0000e6,#0000f4,#0500ff,#1200ff,#2e00ff,#5c00ff,#7e00ff,#9408f7,#a110ef,#a412ed,#9c0df2,#8e04fb,#7f00ff,#7500ff,#7600ff,#8300ff,#9609f6,#a815ea,#b61ee1,#bf24db,#c226d9,#b41de2,#9307f8,#5e00ff,#3400ff,#1800ff,#0800ff,#0300ff,#0000fe,#0000fb,#0000f9,#0000f6,#0000f1,#0000ec)"></i>
<i style="background:linear-gradient(90deg,#0000b1,#0000b5,#0000ba,#0000c2,#0000cd,#0000d9,#0000e3,#0000f1,#0200ff,#0f00ff,#2600ff,#5300ff,#7600ff,#8d03fc,#9b0cf3,#9f0ff0,#9a0cf3,#8f05fa,#8200ff,#7a00ff,#7b00ff,#8700ff,#980af5,#a714eb,#b21be4,#ba20df,#bb21de,#ad18e7,#8a01fe,#5600ff,#3000ff,#1500ff,#0700ff,#0200ff,#0000fe,#0000fb,#0000f9,#0000f5,#0000f0,#0000eb)"></i>
<i style="background:linear-gradient(90deg,#0000af,#0000b4,#0000b9,#0000c0,#0000ca,#0000d6,#0000e0,#0000ee,#0000ff,#0c00ff,#1f00ff,#4900ff,#6f00ff,#8600ff,#9508f7,#9b0df2,#980bf4,#8f05fa,#8400ff,#7d00ff,#7f00ff,#8a01fe,#990bf4,#a613ec,#ae19e6,#b41de2,#b51de2,#a513ec,#8000ff,#4e00ff,#2c00ff,#1300ff,#0700ff,#0200ff,#0000fd,#0000fa,#0000f8,#0000f5,#0000ef,#0000ea)"></i>
<i style="background:linear-gradient(90deg,#0000ae,#0000b2,#0000b7,#0000be,#0000c8,#0000d3,#0000dd,#0000eb,#0000fc,#0900ff,#1900ff,#3f00ff,#6700ff,#7f00ff,#8f05fa,#960af5,#9509f6,#8e04fb,#8500ff,#7f00ff,#8200ff,#8c03fc,#990bf4,#a412ed,#ab17e8,#af19e6,#ae18e7,#9e0ef1,#7600ff,#4600ff,#2800ff,#1100ff,#0600ff,#0100ff,#0000fd,#0000fa,#0000f7,#0000f4,#0000ee,#0000e9)"></i>
<i style="background:linear-gradient(90deg,#0000ac,#0000b1,#0000b5,#0000bc,#0000c5,#0000d0,#0000da,#0000e7,#0000f9,#0600ff,#1300ff,#3600ff,#5e00ff,#7800ff,#8801fe,#9206f9,#9307f8,#8d04fb,#8500ff,#8100ff,#8300ff,#8c03fc,#990bf4,#a211ee,#a714eb,#a916e9,#a714eb,#9609f6,#6d00ff,#4000ff,#2400ff,#0e00ff,#0500ff,#0100ff,#0000fc,#0000fa,#0000f7,#0000f3,#0000ed,#0000e9)"></i>
<i style="background:linear-gradient(90deg,#0000ab,#0000af,#0000b4,#0000ba,#0000c3,#0000ce,#0000d7,#0000e4,#0000f6,#0300ff,#0f00ff,#2c00ff,#5500ff,#7100ff,#8200ff,#8d03fc,#8f05fa,#8b03fc,#8500ff,#8100ff,#8400ff,#8d03fc,#980bf4,#a010ef,#a312ed,#a412ed,#a010ef,#8d03fc,#6300ff,#3a00ff,#2000ff,#0d00ff,#0400ff,#0100ff,#0000fc,#0000f9,#0000f6,#0000f2,#0000ec,#0000e8)"></i>
<i style="background:linear-gradient(90deg,#0000aa,#0000ae,#0000b2,#0000b8,#0000c1,#0000cb,#0000d4,#0000e0,#0000f3,#0100ff,#0b00ff,#2400ff,#4b00ff,#6900ff,#7c00ff,#8700ff,#8c03fc,#8a01fe,#8400ff,#8100ff,#8400ff,#8d03fc,#970af5,#9e0ef1,#9f0ff0,#9f0ff0,#990cf3,#8300ff,#5900ff,#3500ff,#1c00ff,#0b00ff,#0400ff,#0000ff,#0000fb,#0000f9,#0000f6,#0000f1,#0000eb,#0000e7)"></i>
<i style="background:linear-gradient(90deg,#0000a8,#0000ac,#0000b1,#0000b6,#0000bf,#0000c9,#0000d1,#0000dc,#0000ef,#0000fd,#0800ff,#1c00ff,#4200ff,#6200ff,#7500ff,#8200ff,#8800ff,#8700ff,#8300ff,#8000ff,#8300ff,#8c03fc,#9609f6,#9b0cf3,#9b0cf3,#990bf4,#9307f8,#7900ff,#5000ff,#3000ff,#1900ff,#0900ff,#0300ff,#0000fe,#0000fb,#0000f8,#0000f5,#0000f0,#0000ea,#0000e6)"></i>
<i style="background:linear-gradient(90deg,#0000a7,#0000ab,#0000af,#0000b5,#0000bd,#0000c6,#0000ce,#0000d9,#0000eb,#0000fa,#0500ff,#1500ff,#3800ff,#5a00ff,#6f00ff,#7c00ff,#8300ff,#8400ff,#8100ff,#7f00ff,#8300ff,#8b02fd,#9408f7,#970af5,#9609f6,#9408f7,#8b03fc,#6f00ff,#4700ff,#2b00ff,#1600ff,#0800ff,#0200ff,#0000fd,#0000fa,#0000f7,#0000f4,#0000ef,#0000e9,#0000e5)"></i>
<i style="background:linear-gradient(90deg,#0000a6,#0000aa,#0000ae,#0000b3,#0000bb,#0000c4,#0000cc,#0000d5,#0000e7,#0000f7,#0200ff,#0f00ff,#2e00ff,#5100ff,#6800ff,#7700ff,#7f00ff,#8100ff,#7f00ff,#7e00ff,#8200ff,#8a01fe,#9106f9,#9307f8,#9106f9,#8e04fb,#8300ff,#6500ff,#3f00ff,#2700ff,#1300ff,#0700ff,#0100ff,#0000fd,#0000f9,#0000f7,#0000f3,#0000ee,#0000e8,#0000e4)"></i>
<i style="background:linear-gradient(90deg,#0000a4,#0000a8,#0000ad,#0000b2,#0000b9,#0000c2,#0000c9,#0000d1,#0000e3,#0000f4,#0000fe,#0a00ff,#2500ff,#4800ff,#6100ff,#7100ff,#7a00ff,#7d00ff,#7c00ff,#7c00ff,#8000ff,#8700ff,#8d04fb,#8e04fb,#8c03fc,#8800ff,#7a00ff,#5a00ff,#3800ff,#2200ff,#1000ff,#0600ff,#0100ff,#0000fc,#0000f9,#0000f6,#0000f2,#0000ed,#0000e7,#0000e3)"></i>
<i style="background:linear-gradient(90deg,#0000a3,#0000a7,#0000ab,#0000b1,#0000b7,#0000c0,#0000c6,#0000cd,#0000df,#0000f0,#0000fa,#0500ff,#1c00ff,#3e00ff,#5a00ff,#6a00ff,#7400ff,#7900ff,#7900ff,#7900ff,#7d00ff,#8300ff,#8901fe,#8901fe,#8700ff,#8200ff,#7100ff,#5000ff,#3200ff,#1e00ff,#0d00ff,#0400ff,#0000ff,#0000fb,#0000f8,#0000f6,#0000f1,#0000eb,#0000e5,#0000e2)"></i>
<i style="background:linear-gradient(90deg,#0000a2,#0000a6,#0000aa,#0000af,#0000b6,#0000bd,#0000c4,#0000ca,#0000da,#0000ed,#0000f7,#0200ff,#1400ff,#3500ff,#5200ff,#6400ff,#6f00ff,#7400ff,#7500ff,#7500ff,#7900ff,#7f00ff,#8300ff,#8400ff,#8100ff,#7b00ff,#6600ff,#4700ff,#2d00ff,#1a00ff,#0b00ff,#0300ff,#0000fe,#0000fa,#0000f7,#0000f5,#0000f0,#0000ea,#0000e4,#0000e1)"></i>
<i style="background:linear-gradient(90deg,#0000a1,#0000a5,#0000a9,#0000ae,#0000b4,#0000bc,#0000c2,#0000c7,#0000d5,#0000e9,#0000f4,#0000fd,#0d00ff,#2b00ff,#4900ff,#5e00ff,#6900ff,#6f00ff,#7000ff,#7100ff,#7400ff,#7a00ff,#7e00ff,#7e00ff,#7b00ff,#7300ff,#5c00ff,#3e00ff,#2700ff,#1600ff,#0900ff,#0200ff,#0000fc,#0000f9,#0000f7,#0000f4,#0000ef,#0000e9,#0000e3,#0000df)"></i>
<i style="background:linear-gradient(90deg,#0000a0,#0000a4,#0000a8,#0000ad,#0000b3,#0000ba,#0000bf,#0000c4,#0000d0,#0000e4,#0000f0,#0000f9,#0700ff,#2100ff,#4000ff,#5700ff,#6300ff,#6900ff,#6b00ff,#6c00ff,#6f00ff,#7400ff,#7800ff,#7800ff,#7500ff,#6a00ff,#5200ff,#3600ff,#2200ff,#1200ff,#0600ff,#0000ff,#0000fb,#0000f8,#0000f6,#0000f3,#0000ee,#0000e7,#0000e2,#0000de)"></i>
<i style="background:linear-gradient(90deg,#00009f,#0000a3,#0000a7,#0000ac,#0000b1,#0000b8,#0000bd,#0000c1,#0000cc,#0000e0,#0000ed,#0000f5,#0200ff,#1800ff,#3700ff,#4f00ff,#5d00ff,#6300ff,#6500ff,#6600ff,#6900ff,#6e00ff,#7100ff,#7200ff,#6e00ff,#6000ff,#4800ff,#2f00ff,#1e00ff,#0f00ff,#0400ff,#0000fe,#0000fa,#0000f7,#0000f5,#0000f2,#0000ed,#0000e6,#0000e0,#0000dd)"></i>
<i style="background:linear-gradient(90deg,#00009e,#0000a1,#0000a6,#0000ab,#0000b0,#0000b6,#0000bb,#0000be,#0000c7,#0000db,#0000e9,#0000f1,#0000fc,#1000ff,#2d00ff,#4700ff,#5700ff,#5d00ff,#6000ff,#6000ff,#6300ff,#6700ff,#6b00ff,#6b00ff,#6600ff,#5600ff,#3e00ff,#2900ff,#1900ff,#0b00ff,#0300ff,#0000fc,#0000f9,#0000f6,#0000f4,#0000f1,#0000ec,#0000e4,#0000df,#0000dc)"></i>
<i style="background:linear-gradient(90deg,#00009c,#0000a0,#0000a5,#0000a9,#0000af,#0000b5,#0000b9,#0000bc,#0000c3,#0000d5,#0000e6,#0000ee,#0000f7,#0900ff,#2300ff,#3d00ff,#4f00ff,#5700ff,#5a00ff,#5b00ff,#5d00ff,#6100ff,#6400ff,#6400ff,#5d00ff,#4c00ff,#3500ff,#2300ff,#1500ff,#0800ff,#0100ff,#0000fb,#0000f7,#0000f5,#0000f3,#0000f0,#0000ea,#0000e3,#0000dd,#0000da)"></i>
<i style="background:linear-gradient(90deg,#00009b,#00009f,#0000a4,#0000a8,#0000ae,#0000b3,#0000b7,#0000ba,#0000bf,#0000d0,#0000e1,#0000ea,#0000f2,#0200ff,#1a00ff,#3400ff,#4700ff,#5100ff,#5400ff,#5500ff,#5700ff,#5b00ff,#5e00ff,#5d00ff,#5400ff,#4200ff,#2d00ff,#1e00ff,#1100ff,#0500ff,#0000fd,#0000f9,#0000f6,#0000f4,#0000f2,#0000ef,#0000e9,#0000e1,#0000dc,#0000d9)"></i>
<i style="background:linear-gradient(90deg,#00009b,#00009e,#0000a3,#0000a7,#0000ac,#0000b2,#0000b5,#0000b7,#0000bb,#0000ca,#0000dd,#0000e6,#0000ee,#0000fb,#1100ff,#2a00ff,#3e00ff,#4a00ff,#4e00ff,#4f00ff,#5100ff,#5400ff,#5700ff,#5400ff,#4a00ff,#3900ff,#2700ff,#1900ff,#0d00ff,#0300ff,#0000fb,#0000f7,#0000f4,#0000f3,#0000f1,#0000ee,#0000e7,#0000e0,#0000da,#0000d7)"></i>
<i style="background:linear-gradient(90deg,#00009a,#00009d,#0000a2,#0000a6,#0000ab,#0000b0,#0000b4,#0000b5,#0000b7,#0000c5,#0000d8,#0000e3,#0000ea,#0000f6,#0900ff,#2000ff,#3500ff,#4100ff,#4700ff,#4900ff,#4b00ff,#4e00ff,#4f00ff,#4b00ff,#4100ff,#3000ff,#2100ff,#1400ff,#0900ff,#0000ff,#0000f9,#0000f5,#0000f3,#0000f2,#0000f0,#0000ec,#0000e5,#0000de,#0000d9,#0000d6)"></i>
<i style="background:linear-gradient(90deg,#000099,#00009c,#0000a1,#0000a5,#0000aa,#0000af,#0000b2,#0000b3,#0000b5,#0000c0,#0000d2,#0000df,#0000e6,#0000f0,#0200ff,#1700ff,#2b00ff,#3900ff,#3f00ff,#4200ff,#4400ff,#4600ff,#4700ff,#4200ff,#3700ff,#2800ff,#1c00ff,#1000ff,#0500ff,#0000fc,#0000f6,#0000f3,#0000f1,#0000f1,#0000ef,#0000eb,#0000e3,#0000dc,#0000d7,#0000d4)"></i>
<i style="background:linear-gradient(90deg,#000098,#00009b,#0000a0,#0000a4,#0000a9,#0000ad,#0000b0,#0000b1,#0000b2,#0000ba,#0000cc,#0000da,#0000e2,#0000eb,#0000fa,#0e00ff,#2100ff,#2f00ff,#3700ff,#3a00ff,#3c00ff,#3f00ff,#3e00ff,#3900ff,#2f00ff,#2200ff,#1600ff,#0c00ff,#0200ff,#0000f9,#0000f4,#0000f1,#0000f0,#0000ef,#0000ee,#0000e9,#0000e1,#0000da,#0000d5,#0000d3)"></i>
<i style="background:linear-gradient(90deg,#000097,#00009b,#00009f,#0000a3,#0000a8,#0000ac,#0000af,#0000af,#0000b0,#0000b6,#0000c6,#0000d5,#0000de,#0000e6,#0000f3,#0600ff,#1800ff,#2600ff,#2e00ff,#3200ff,#3500ff,#3700ff,#3600ff,#3100ff,#2600ff,#1c00ff,#1200ff,#0700ff,#0000fd,#0000f5,#0000f1,#0000ef,#0000ee,#0000ee,#0000ec,#0000e7,#0000df,#0000d8,#0000d4,#0000d1)"></i>
<i style="background:linear-gradient(90deg,#000096,#00009a,#00009e,#0000a2,#0000a6,#0000ab,#0000ad,#0000ae,#0000ad,#0000b1,#0000c0,#0000d0,#0000d9,#0000e1,#0000ed,#0000fe,#0f00ff,#1d00ff,#2600ff,#2a00ff,#2d00ff,#2f00ff,#2d00ff,#2800ff,#1f00ff,#1600ff,#0d00ff,#0400ff,#0000f9,#0000f2,#0000ef,#0000ed,#0000ed,#0000ec,#0000eb,#0000e5,#0000dd,#0000d6,#0000d2,#0000cf)"></i>
<i style="background:linear-gradient(90deg,#000095,#000099,#00009d,#0000a1,#0000a5,#0000a9,#0000ac,#0000ac,#0000ab,#0000ad,#0000ba,#0000ca,#0000d5,#0000dd,#0000e7,#0000f6,#0700ff,#1400ff,#1d00ff,#2200ff,#2500ff,#2700ff,#2500ff,#2000ff,#1900ff,#1100ff,#0900ff,#0000ff,#0000f5,#0000ef,#0000ed,#0000eb,#0000eb,#0000eb,#0000e9,#0000e3,#0000db,#0000d4,#0000d0,#0000cd)"></i>
<i style="background:linear-gradient(90deg,#000094,#000098,#00009c,#0000a0,#0000a4,#0000a8,#0000aa,#0000aa,#0000a9,#0000aa,#0000b5,#0000c4,#0000d0,#0000d8,#0000e2,#0000ef,#0000ff,#0c00ff,#1500ff,#1a00ff,#1d00ff,#1f00ff,#1e00ff,#1a00ff,#1400ff,#0c00ff,#0400ff,#0000fa,#0000f1,#0000ec,#0000ea,#0000e9,#0000e9,#0000e9,#0000e7,#0000e1,#0000d9,#0000d2,#0000ce,#0000cb)"></i>
<i style="background:linear-gradient(90deg,#000093,#000097,#00009b,#00009f,#0000a3,#0000a6,#0000a9,#0000a8,#0000a7,#0000a7,#0000af,#0000be,#0000cb,#0000d3,#0000dc,#0000e9,#0000f7,#0500ff,#0d00ff,#1300ff,#1600ff,#1800ff,#1700ff,#1400ff,#0f00ff,#0800ff,#0000ff,#0000f5,#0000ed,#0000e9,#0000e7,#0000e7,#0000e7,#0000e7,#0000e5,#0000df,#0000d7,#0000d0,#0000cc,#0000c9)"></i>
<i style="background:linear-gradient(90deg,#000092,#000096,#00009a,#00009e,#0000a1,#0000a5,#0000a7,#0000a6,#0000a5,#0000a4,#0000aa,#0000b7,#0000c5,#0000ce,#0000d7,#0000e2,#0000f0,#0000fc,#0600ff,#0c00ff,#0f00ff,#1100ff,#1100ff,#0e00ff,#0a00ff,#0300ff,#0000fa,#0000f0,#0000e9,#0000e6,#0000e4,#0000e4,#0000e5,#0000e5,#0000e3,#0000dc,#0000d4,#0000ce,#0000ca,#0000c7)"></i>
<i style="background:linear-gradient(90deg,#000091,#000095,#000099,#00009c,#0000a0,#0000a3,#0000a5,#0000a5,#0000a2,#0000a2,#0000a5,#0000b1,#0000be,#0000c9,#0000d2,#0000dc,#0000e8,#0000f5,#0000ff,#0600ff,#0900ff,#0b00ff,#0b00ff,#0900ff,#0500ff,#0000fe,#0000f5,#0000ec,#0000e6,#0000e3,#0000e2,#0000e2,#0000e3,#0000e3,#0000e0,#0000da,#0000d2,#0000cc,#0000c8,#0000c5)"></i>
<i style="background:linear-gradient(90deg,#000091,#000094,#000098,#00009b,#00009f,#0000a2,#0000a4,#0000a3,#0000a0,#00009f,#0000a1,#0000ab,#0000b8,#0000c3,#0000cc,#0000d6,#0000e2,#0000ee,#0000f8,#0000ff,#0400ff,#0600ff,#0600ff,#0500ff,#0100ff,#0000f8,#0000ef,#0000e7,#0000e2,#0000e0,#0000df,#0000df,#0000e1,#0000e1,#0000de,#0000d7,#0000cf,#0000ca,#0000c5,#0000c3)"></i>
<i style="background:linear-gradient(90deg,#000090,#000093,#000097,#00009a,#00009d,#0000a0,#0000a2,#0000a1,#00009e,#00009c,#00009d,#0000a5,#0000b1,#0000bc,#0000c6,#0000d0,#0000db,#0000e7,#0000f1,#0000f8,#0000fe,#0100ff,#0200ff,#0000ff,#0000fa,#0000f3,#0000ea,#0000e2,#0000de,#0000dc,#0000dc,#0000dd,#0000df,#0000df,#0000db,#0000d4,#0000cd,#0000c7,#0000c3,#0000c0)"></i>
<i style="background:linear-gradient(90deg,#00008f,#000092,#000096,#000099,#00009c,#00009f,#0000a0,#00009f,#00009c,#00009a,#00009a,#00009f,#0000aa,#0000b5,#0000c0,#0000ca,#0000d5,#0000e0,#0000ea,#0000f2,#0000f8,#0000fb,#0000fc,#0000fa,#0000f5,#0000ed,#0000e5,#0000de,#0000da,#0000d9,#0000d9,#0000da,#0000dc,#0000dc,#0000d8,#0000d1,#0000ca,#0000c5,#0000c0,#0000be)"></i>
<i style="background:linear-gradient(90deg,#00008e,#000091,#000095,#000098,#00009b,#00009d,#00009e,#00009d,#00009a,#000097,#000096,#00009a,#0000a3,#0000ae,#0000b9,#0000c4,#0000cf,#0000da,#0000e4,#0000ec,#0000f2,#0000f5,#0000f6,#0000f4,#0000ef,#0000e8,#0000df,#0000d9,#0000d6,#0000d5,#0000d6,#0000d8,#0000da,#0000da,#0000d5,#0000cf,#0000c8,#0000c2,#0000be,#0000bb)"></i>
<i style="background:linear-gradient(90deg,#00008d,#000090,#000094,#000097,#000099,#00009b,#00009c,#00009b,#000098,#000094,#000093,#000095,#00009c,#0000a7,#0000b2,#0000bd,#0000c8,#0000d4,#0000de,#0000e6,#0000ec,#0000f0,#0000f0,#0000ee,#0000e9,#0000e2,#0000da,#0000d5,#0000d3,#0000d2,#0000d3,#0000d5,#0000d7,#0000d7,#0000d2,#0000cc,#0000c5,#0000c0,#0000bb,#0000b9)"></i>
<i style="background:linear-gradient(90deg,#00008c,#000090,#000093,#000095,#000098,#00009a,#00009a,#000099,#000096,#000092,#000090,#000091,#000096,#00009f,#0000aa,#0000b6,#0000c2,#0000cd,#0000d8,#0000e1,#0000e7,#0000ea,#0000eb,#0000e8,#0000e3,#0000db,#0000d4,#0000d0,#0000ce,#0000ce,#0000d0,#0000d2,#0000d4,#0000d4,#0000cf,#0000c9,#0000c2,#0000bd,#0000b9,#0000b6)"></i>
<i style="background:linear-gradient(90deg,#00008b,#00008f,#000092,#000094,#000096,#000098,#000098,#000097,#000093,#00008f,#00008d,#00008d,#000090,#000097,#0000a2,#0000ae,#0000bb,#0000c7,#0000d2,#0000db,#0000e1,#0000e5,#0000e5,#0000e2,#0000dc,#0000d5,#0000cf,#0000cb,#0000ca,#0000ca,#0000cc,#0000cf,#0000d1,#0000d1,#0000cc,#0000c6,#0000c0,#0000ba,#0000b6,#0000b4)"></i>
<i style="background:linear-gradient(90deg,#00008a,#00008e,#000090,#000093,#000095,#000096,#000096,#000094,#000091,#00008d,#00008a,#000089,#00008a,#000090,#00009a,#0000a6,#0000b3,#0000c0,#0000cb,#0000d5,#0000db,#0000df,#0000df,#0000dc,#0000d6,#0000cf,#0000c9,#0000c7,#0000c6,#0000c7,#0000c9,#0000cc,#0000ce,#0000cd,#0000c9,#0000c3,#0000bd,#0000b8,#0000b4,#0000b1)"></i>
<i style="background:linear-gradient(90deg,#000089,#00008d,#00008f,#000092,#000093,#000094,#000094,#000092,#00008f,#00008a,#000086,#000085,#000085,#000089,#000092,#00009d,#0000ab,#0000b9,#0000c5,#0000ce,#0000d5,#0000d8,#0000d8,#0000d4,#0000ce,#0000c8,#0000c4,#0000c2,#0000c2,#0000c3,#0000c5,#0000c9,#0000cb,#0000ca,#0000c5,#0000c0,#0000ba,#0000b5,#0000b1,#0000ae)"></i>
<i style="background:linear-gradient(90deg,#000088,#00008c,#00008e,#000090,#000092,#000092,#000092,#000090,#00008c,#000087,#000083,#000081,#000080,#000083,#00008a,#000095,#0000a2,#0000b1,#0000bd,#0000c8,#0000ce,#0000d1,#0000d1,#0000cd,#0000c7,#0000c2,#0000be,#0000bd,#0000bd,#0000bf,#0000c2,#0000c6,#0000c8,#0000c6,#0000c2,#0000bd,#0000b7,#0000b2,#0000ae,#0000ac)"></i>
<i style="background:linear-gradient(90deg,#000087,#00008b,#00008d,#00008f,#000090,#000090,#00008f,#00008d,#00008a,#000085,#000080,#00007d,#00007c,#00007d,#000082,#00008c,#000099,#0000a8,#0000b5,#0000c0,#0000c7,#0000ca,#0000c9,#0000c5,#0000c0,#0000bb,#0000b9,#0000b8,#0000b9,#0000bb,#0000be,#0000c2,#0000c4,#0000c3,#0000bf,#0000ba,#0000b4,#0000af,#0000ab,#0000a9)"></i>
<i style="background:linear-gradient(90deg,#000086,#00008a,#00008c,#00008e,#00008f,#00008e,#00008d,#00008b,#000087,#000082,#00007d,#000079,#000078,#000077,#00007b,#000083,#000090,#00009f,#0000ac,#0000b7,#0000bf,#0000c1,#0000c1,#0000bd,#0000b8,#0000b5,#0000b3,#0000b3,#0000b4,#0000b7,#0000bb,#0000bf,#0000c1,#0000bf,#0000bb,#0000b7,#0000b1,#0000ac,#0000a8,#0000a6)"></i>
<i style="background:linear-gradient(90deg,#000085,#000089,#00008b,#00008c,#00008d,#00008d,#00008b,#000088,#000084,#00007f,#00007a,#000076,#000073,#000073,#000074,#00007b,#000087,#000095,#0000a3,#0000ae,#0000b6,#0000b9,#0000b8,#0000b5,#0000b1,#0000ae,#0000ae,#0000ae,#0000af,#0000b3,#0000b7,#0000bb,#0000bd,#0000bc,#0000b8,#0000b4,#0000ae,#0000a9,#0000a6,#0000a4)"></i>
<i style="background:linear-gradient(90deg,#000084,#000087,#00008a,#00008b,#00008b,#00008b,#000089,#000086,#000082,#00007c,#000077,#000072,#00006f,#00006e,#00006f,#000074,#00007e,#00008c,#00009a,#0000a5,#0000ad,#0000b0,#0000af,#0000ad,#0000aa,#0000a8,#0000a8,#0000a8,#0000aa,#0000ae,#0000b3,#0000b8,#0000b9,#0000b8,#0000b5,#0000b1,#0000ab,#0000a6,#0000a3,#0000a1)"></i>
<i style="background:linear-gradient(90deg,#000083,#000086,#000089,#00008a,#00008a,#000089,#000087,#000083,#00007f,#00007a,#000074,#00006e,#00006b,#000069,#00006a,#00006d,#000076,#000083,#000090,#00009c,#0000a3,#0000a7,#0000a7,#0000a5,#0000a3,#0000a2,#0000a2,#0000a3,#0000a6,#0000aa,#0000b0,#0000b4,#0000b6,#0000b5,#0000b1,#0000ae,#0000a8,#0000a3,#0000a0,#00009e)"></i>
<i style="background:linear-gradient(90deg,#000082,#000085,#000087,#000088,#000088,#000087,#000084,#000081,#00007c,#000077,#000071,#00006b,#000067,#000065,#000065,#000068,#00006f,#00007b,#000087,#000093,#00009a,#00009e,#00009f,#00009e,#00009d,#00009c,#00009c,#00009e,#0000a1,#0000a6,#0000ac,#0000b0,#0000b2,#0000b1,#0000ae,#0000aa,#0000a5,#0000a0,#00009d,#00009c)"></i>
<i style="background:linear-gradient(90deg,#000081,#000084,#000086,#000087,#000087,#000085,#000082,#00007e,#00007a,#000074,#00006e,#000068,#000063,#000060,#000060,#000063,#000069,#000073,#00007f,#00008a,#000092,#000096,#000097,#000097,#000097,#000096,#000096,#000098,#00009c,#0000a2,#0000a8,#0000ad,#0000ae,#0000ad,#0000ab,#0000a7,#0000a2,#00009e,#00009a,#000099)"></i>
<i style="background:linear-gradient(90deg,#000080,#000083,#000085,#000086,#000085,#000083,#000080,#00007c,#000077,#000071,#00006b,#000064,#00005f,#00005c,#00005b,#00005e,#000064,#00006d,#000078,#000082,#00008a,#00008e,#000090,#000091,#000090,#000090,#000091,#000093,#000098,#00009e,#0000a5,#0000a9,#0000ab,#0000aa,#0000a8,#0000a4,#00009f,#00009b,#000098,#000096)"></i>
<i style="background:linear-gradient(90deg,#00007f,#000082,#000084,#000084,#000083,#000081,#00007e,#00007a,#000074,#00006f,#000068,#000061,#00005b,#000058,#000057,#000059,#00005f,#000068,#000072,#00007b,#000083,#000087,#00008a,#00008b,#00008a,#00008a,#00008b,#00008e,#000093,#00009a,#0000a1,#0000a5,#0000a7,#0000a7,#0000a5,#0000a1,#00009c,#000098,#000095,#000094)"></i>
<i style="background:linear-gradient(90deg,#00007e,#000081,#000082,#000083,#000082,#00007f,#00007c,#000077,#000072,#00006c,#000065,#00005e,#000058,#000054,#000053,#000055,#00005b,#000063,#00006d,#000076,#00007d,#000082,#000084,#000085,#000084,#000084,#000085,#000089,#00008f,#000097,#00009d,#0000a2,#0000a4,#0000a3,#0000a2,#00009e,#000099,#000095,#000092,#000091)"></i>
<i style="background:linear-gradient(90deg,#00007d,#00007f,#000081,#000081,#000080,#00007e,#00007a,#000075,#00006f,#000069,#000062,#00005b,#000054,#000050,#00004e,#000051,#000056,#00005f,#000068,#000071,#000078,#00007d,#00007f,#00007f,#00007e,#00007d,#00007f,#000084,#00008b,#000093,#00009a,#00009e,#0000a0,#0000a0,#00009f,#00009b,#000096,#000092,#000090,#00008e)"></i>
<i style="background:linear-gradient(90deg,#00007c,#00007e,#000080,#000080,#00007e,#00007c,#000078,#000073,#00006d,#000067,#000060,#000058,#000051,#00004c,#00004b,#00004c,#000052,#00005b,#000064,#00006d,#000073,#000077,#000079,#000079,#000078,#000078,#00007a,#00007f,#000087,#00008f,#000096,#00009b,#00009d,#00009d,#00009c,#000098,#000094,#00008f,#00008d,#00008c)"></i>
<i style="background:linear-gradient(90deg,#00007a,#00007d,#00007f,#00007e,#00007d,#00007a,#000076,#000070,#00006b,#000064,#00005d,#000056,#00004e,#000049,#000047,#000049,#00004e,#000057,#000060,#000068,#00006f,#000072,#000074,#000073,#000072,#000072,#000075,#00007b,#000083,#00008c,#000093,#000097,#00009a,#00009a,#000099,#000095,#000091,#00008d,#00008a,#000089)"></i>
<i style="background:linear-gradient(90deg,#000079,#00007c,#00007d,#00007d,#00007b,#000078,#000074,#00006e,#000068,#000062,#00005b,#000053,#00004c,#000046,#000043,#000045,#00004b,#000053,#00005c,#000064,#00006b,#00006e,#00006e,#00006d,#00006c,#00006c,#000070,#000077,#000080,#000089,#00008f,#000094,#000097,#000098,#000096,#000093,#00008e,#00008a,#000088,#000087)"></i>
<i style="background:linear-gradient(90deg,#000078,#00007b,#00007c,#00007c,#00007a,#000076,#000072,#00006c,#000066,#00005f,#000058,#000051,#000049,#000043,#000040,#000042,#000047,#00004f,#000058,#000061,#000066,#000069,#000069,#000068,#000066,#000067,#00006c,#000074,#00007d,#000086,#00008c,#000091,#000094,#000095,#000093,#000090,#00008b,#000088,#000086,#000084)"></i>
<i style="background:linear-gradient(90deg,#000077,#000079,#00007a,#00007a,#000078,#000075,#000070,#00006a,#000064,#00005d,#000056,#00004f,#000047,#000041,#00003d,#00003e,#000044,#00004c,#000055,#00005d,#000062,#000065,#000064,#000063,#000061,#000063,#000068,#000071,#00007a,#000083,#000089,#00008e,#000091,#000092,#000091,#00008d,#000089,#000085,#000083,#000082)"></i>
<i style="background:linear-gradient(90deg,#000076,#000078,#000079,#000079,#000076,#000073,#00006e,#000068,#000062,#00005b,#000054,#00004c,#000045,#00003e,#00003b,#00003c,#000041,#000049,#000052,#00005a,#00005f,#000061,#000060,#00005e,#00005d,#00005f,#000065,#00006e,#000077,#000080,#000086,#00008b,#00008e,#00008f,#00008e,#00008b,#000086,#000083,#000081,#000080)"></i>
<i style="background:linear-gradient(90deg,#000075,#000077,#000078,#000077,#000075,#000071,#00006c,#000066,#000060,#000059,#000051,#00004a,#000043,#00003d,#000039,#000039,#00003e,#000046,#00004f,#000056,#00005b,#00005d,#00005c,#00005a,#000059,#00005b,#000062,#00006c,#000075,#00007d,#000084,#000088,#00008c,#00008d,#00008b,#000088,#000084,#000081,#00007f,#00007d)"></i>
<i style="background:linear-gradient(90deg,#000074,#000076,#000076,#000076,#000073,#00006f,#00006a,#000065,#00005e,#000057,#00004f,#000048,#000041,#00003b,#000037,#000037,#00003c,#000043,#00004c,#000053,#000058,#000059,#000058,#000056,#000055,#000058,#000060,#000069,#000072,#00007a,#000081,#000086,#000089,#00008a,#000089,#000086,#000082,#00007f,#00007c,#00007b)"></i>
<i style="background:linear-gradient(90deg,#000072,#000074,#000075,#000074,#000072,#00006e,#000069,#000063,#00005c,#000055,#00004d,#000046,#00003f,#000039,#000035,#000035,#000039,#000041,#000049,#000050,#000055,#000056,#000054,#000052,#000052,#000056,#00005e,#000067,#000070,#000078,#00007e,#000083,#000087,#000088,#000086,#000083,#00007f,#00007c,#00007a,#000079)"></i>
<i style="background:linear-gradient(90deg,#000071,#000073,#000074,#000073,#000070,#00006c,#000067,#000061,#00005a,#000053,#00004c,#000044,#00003e,#000038,#000034,#000033,#000038,#00003f,#000047,#00004e,#000052,#000052,#000051,#00004f,#000050,#000054,#00005c,#000065,#00006e,#000076,#00007c,#000081,#000084,#000085,#000084,#000081,#00007d,#00007a,#000078,#000077)"></i>
<i style="background:linear-gradient(90deg,#000070,#000072,#000072,#000071,#00006e,#00006a,#000065,#00005f,#000058,#000051,#00004a,#000043,#00003c,#000036,#000033,#000032,#000036,#00003d,#000045,#00004b,#00004f,#000050,#00004e,#00004d,#00004e,#000053,#00005b,#000063,#00006c,#000073,#00007a,#00007f,#000082,#000083,#000082,#00007f,#00007b,#000078,#000076,#000075)"></i>
<i style="background:linear-gradient(90deg,#00006f,#000071,#000071,#000070,#00006d,#000069,#000063,#00005d,#000057,#00004f,#000048,#000041,#00003b,#000035,#000031,#000031,#000035,#00003b,#000042,#000049,#00004d,#00004d,#00004c,#00004b,#00004d,#000052,#000059,#000062,#00006a,#000071,#000077,#00007d,#000080,#000081,#00007f,#00007d,#000079,#000076,#000074,#000073)"></i>
<i style="background:linear-gradient(90deg,#00006e,#00006f,#000070,#00006f,#00006c,#000067,#000062,#00005c,#000055,#00004e,#000047,#000040,#000039,#000034,#000030,#000030,#000033,#000039,#000041,#000047,#00004a,#00004b,#00004a,#00004a,#00004c,#000051,#000058,#000060,#000068,#00006f,#000075,#00007a,#00007e,#00007f,#00007d,#00007b,#000078,#000075,#000072,#000071)"></i>
<i style="background:linear-gradient(90deg,#00006d,#00006e,#00006e,#00006d,#00006a,#000066,#000060,#00005a,#000053,#00004c,#000045,#00003e,#000038,#000033,#00002f,#00002f,#000032,#000038,#00003f,#000045,#000048,#000049,#000049,#000049,#00004b,#00004f,#000056,#00005e,#000066,#00006d,#000073,#000079,#00007c,#00007d,#00007b,#000079,#000076,#000073,#000070,#00006f)"></i>
<i style="background:linear-gradient(90deg,#00006b,#00006d,#00006d,#00006c,#000069,#000064,#00005f,#000058,#000052,#00004b,#000044,#00003d,#000037,#000032,#00002e,#00002e,#000031,#000037,#00003d,#000043,#000047,#000047,#000047,#000048,#00004a,#00004e,#000055,#00005d,#000065,#00006b,#000072,#000077,#00007a,#00007b,#000079,#000077,#000074,#000071,#00006e,#00006d)"></i>
<i style="background:linear-gradient(90deg,#00006a,#00006c,#00006c,#00006a,#000067,#000063,#00005d,#000057,#000050,#00004a,#000043,#00003c,#000036,#000031,#00002d,#00002d,#000030,#000035,#00003b,#000041,#000045,#000046,#000046,#000046,#000049,#00004d,#000054,#00005c,#000063,#00006a,#000070,#000075,#000078,#000079,#000078,#000075,#000072,#00006f,#00006d,#00006b)"></i>
</div>
<div class="hm" style="left:351.5px;top:3px;width:235px;height:235px">
<i style="background:linear-gradient(90deg,#ff8d72,#ff837c,#ff6f90,#ff55aa,#e43bc4,#bd22dd,#9a0cf3,#7e00ff,#6b00ff,#6100ff,#5f00ff,#6300ff,#7000ff,#7f00ff,#8e04fb,#9d0ef1,#af19e6,#c326d9,#d733cc,#e73dc2,#f143bc,#f345ba,#f244bb,#ef42bd,#eb40bf,#e63cc3,#e039c6,#db35ca,#d531ce,#cf2ed1,#ca2ad5,#c728d7,#cb2bd4,#e139c6,#ff4fb0,#ff5ba4,#ff6798,#ff748b,#ff7f80,#ff847b)"></i>
<i style="background:linear-gradient(90deg,#ff8d72,#ff837c,#ff6d92,#ff54ab,#e33ac5,#bc21de,#990bf4,#7d00ff,#6a00ff,#6000ff,#5e00ff,#6300ff,#7100ff,#8000ff,#8f05fa,#9f0ff0,#b21be4,#c829d6,#de37c8,#ef42bd,#f848b7,#fa49b6,#f848b7,#f345ba,#ee42bd,#e83ec1,#e139c6,#db35ca,#d431ce,#ce2dd2,#c92ad5,#c628d7,#c728d7,#db35ca,#fc4ab5,#ff5aa5,#ff6699,#ff738c,#ff7e81,#ff847b)"></i>
<i style="background:linear-gradient(90deg,#ff8c73,#ff827d,#ff6c93,#ff53ac,#e139c6,#ba20df,#980af5,#7c00ff,#6900ff,#5f00ff,#5d00ff,#6400ff,#7200ff,#8100ff,#9006f9,#a110ef,#b51de2,#ce2dd2,#e53cc3,#f446b9,#fe4cb3,#ff4fb0,#ff4db2,#f949b6,#f244bb,#ea3fc0,#e23ac5,#db35ca,#d431ce,#ce2dd2,#c92ad5,#c628d7,#c728d7,#d431ce,#f546b9,#ff59a6,#ff659a,#ff718e,#ff7d82,#ff837c)"></i>
<i style="background:linear-gradient(90deg,#ff8b74,#ff807f,#ff6a95,#ff51ae,#df38c7,#b91fe0,#960af5,#7b00ff,#6800ff,#5d00ff,#5b00ff,#6500ff,#7300ff,#8200ff,#9106f9,#a312ed,#ba20df,#d431ce,#e93ec1,#f949b6,#ff4fb0,#ff51ae,#ff51ae,#ff4eb1,#f948b7,#ee42bd,#e43bc4,#dc36c9,#d431ce,#ce2dd2,#c92ad5,#c628d7,#c628d7,#cd2dd2,#ed41be,#ff57a8,#ff649b,#ff708f,#ff7b84,#ff827d)"></i>
<i style="background:linear-gradient(90deg,#ff8a75,#ff7e81,#ff6897,#ff50af,#de37c8,#b71ee1,#9509f6,#7a00ff,#6700ff,#5c00ff,#5a00ff,#6700ff,#7500ff,#8300ff,#9307f8,#a613ec,#c024db,#d934cb,#f144bb,#ff4fb0,#ff55aa,#ff56a9,#ff54ab,#ff50af,#fd4cb3,#f445ba,#e73dc2,#dd37c8,#d431ce,#ce2dd2,#c82ad5,#c628d7,#c628d7,#c92ad5,#e63cc3,#ff56a9,#ff639c,#ff6f90,#ff7a85,#ff817e)"></i>
<i style="background:linear-gradient(90deg,#ff8976,#ff7c83,#ff6699,#ff4fb0,#dc36c9,#b51de2,#9308f7,#7800ff,#6500ff,#5b00ff,#5c00ff,#6800ff,#7600ff,#8500ff,#9508f7,#a916e9,#c326d9,#e139c6,#fe4cb3,#ff58a7,#ff5ea1,#ff5ea1,#ff5ba4,#ff55aa,#ff4eb1,#f747b8,#ec40bf,#df38c7,#d532cd,#ce2dd2,#c829d6,#c628d7,#c628d7,#c92ad5,#de37c8,#ff54ab,#ff619e,#ff6d92,#ff7887,#ff807f)"></i>
<i style="background:linear-gradient(90deg,#ff8877,#ff7986,#ff649b,#ff4db2,#d934cb,#b31ce3,#9106f9,#7700ff,#6400ff,#5a00ff,#5e00ff,#6a00ff,#7700ff,#8600ff,#970af5,#ae19e6,#c92ad5,#ed41be,#ff57a8,#ff659a,#ff6b94,#ff6b94,#ff6699,#ff5ea1,#ff54ab,#fb4ab5,#ef42bd,#e23ac5,#d633cc,#ce2dd2,#c829d6,#c528d7,#c528d7,#c82ad5,#d532cd,#ff4eb1,#ff609f,#ff6c93,#ff7788,#ff807f)"></i>
<i style="background:linear-gradient(90deg,#ff8679,#ff7689,#ff629d,#fd4bb4,#d733cc,#b11ae5,#8f05fa,#7500ff,#6200ff,#5800ff,#5f00ff,#6b00ff,#7900ff,#8800ff,#9a0cf3,#b11be4,#d12fd0,#fe4cb3,#ff6699,#ff7689,#ff7c83,#ff7b84,#ff758a,#ff6a95,#ff5da2,#ff50af,#f244bb,#e63dc2,#d934cb,#cf2ed1,#c829d6,#c527d8,#c527d8,#c829d6,#ce2dd2,#f848b7,#ff5fa0,#ff6a95,#ff758a,#ff7e81)"></i>
<i style="background:linear-gradient(90deg,#ff857a,#ff748b,#ff609f,#fa4ab5,#d431ce,#ae19e6,#8d04fb,#7300ff,#6100ff,#5900ff,#6100ff,#6d00ff,#7a00ff,#8901fe,#9d0ef1,#b51de2,#dd37c8,#ff5aa5,#ff7986,#ff8a75,#ff916e,#ff906f,#ff8877,#ff7b84,#ff6a95,#ff58a7,#fa49b6,#e83ec1,#dc36c9,#d02ed1,#c82ad5,#c527d8,#c527d8,#c729d6,#cd2dd2,#ef42bd,#ff5da2,#ff6996,#ff738c,#ff7d82)"></i>
<i style="background:linear-gradient(90deg,#ff827d,#ff718e,#ff5ea1,#f848b7,#d12fd0,#ab17e8,#8b02fd,#7100ff,#5f00ff,#5b00ff,#6300ff,#6e00ff,#7c00ff,#8c03fc,#a110ef,#bc22dd,#ed41be,#ff6a95,#ff8d72,#ffa15e,#ffa956,#ffa857,#ff9f60,#ff8f70,#ff7b84,#ff659a,#ff50af,#ed41be,#de37c8,#d230cf,#c92ad5,#c527d8,#c427d8,#c728d7,#cc2cd3,#e53cc3,#ff5ca3,#ff6798,#ff728d,#ff7b84)"></i>
<i style="background:linear-gradient(90deg,#ff7e81,#ff6e91,#ff5ba4,#f546b9,#ce2dd2,#a915ea,#8901fe,#6f00ff,#5d00ff,#5d00ff,#6400ff,#7000ff,#7e00ff,#8f05fa,#a312ed,#c527d8,#ff4db2,#ff7c83,#ffa35c,#ffb946,#ffc23d,#ffc23d,#ffb847,#ffa659,#ff8e71,#ff748b,#ff5ba4,#f647b8,#e039c6,#d532cd,#ca2bd4,#c527d8,#c426d9,#c628d7,#cc2cd3,#db35ca,#ff5aa5,#ff6699,#ff708f,#ff7986)"></i>
<i style="background:linear-gradient(90deg,#ff7b84,#ff6b94,#ff59a6,#f144bb,#ca2bd4,#a613ec,#8600ff,#6d00ff,#5c00ff,#5e00ff,#6600ff,#7100ff,#8000ff,#9207f8,#a815ea,#d12fd0,#ff5ba4,#ff906f,#ffb946,#ffcf30,#ffda25,#ffdc23,#ffd32c,#ffbf40,#ffa55a,#ff8679,#ff6897,#ff4fb0,#e63cc3,#d632cd,#cc2cd3,#c527d8,#c326d9,#c528d7,#cb2bd4,#d330cf,#ff54ab,#ff649b,#ff6e91,#ff7788)"></i>
<i style="background:linear-gradient(90deg,#ff7887,#ff6897,#ff56a9,#ed41be,#c628d7,#a211ee,#8300ff,#6a00ff,#5d00ff,#6000ff,#6800ff,#7300ff,#8200ff,#9509f6,#ae19e6,#e039c6,#ff6b94,#ffa35c,#ffcc33,#ffe31c,#fff00f,#fff40b,#ffec13,#ffd827,#ffbc43,#ff9b64,#ff7887,#ff5aa5,#ef42bd,#d834cb,#ce2dd2,#c528d7,#c326d9,#c427d8,#ca2ad5,#d22fd0,#ff4db2,#ff629d,#ff6c93,#ff758a)"></i>
<i style="background:linear-gradient(90deg,#ff748b,#ff659a,#ff54ab,#e93ec1,#c326d9,#9f0ff0,#8000ff,#6700ff,#5f00ff,#6200ff,#6900ff,#7500ff,#8500ff,#980bf4,#b71fe0,#f244bb,#ff7a85,#ffb34c,#ffdc23,#fff20d,#ffff08,#ffff37,#ffff15,#ffef10,#ffd22d,#ffb04f,#ff8b74,#ff6798,#fb4ab5,#dd37c8,#ce2dd2,#c628d7,#c226d9,#c427d8,#c92ad5,#d12fd0,#f446b9,#ff619e,#ff6a95,#ff738c)"></i>
<i style="background:linear-gradient(90deg,#ff718e,#ff629d,#ff51ae,#e43bc4,#be23dc,#9b0df2,#7d00ff,#6400ff,#6100ff,#6300ff,#6b00ff,#7700ff,#8901fe,#9c0df2,#c226d9,#ff50af,#ff8976,#ffc03f,#ffe51a,#fffa05,#ffff42,#ffff8a,#ffff7d,#ffff0a,#ffe51a,#ffc33c,#ff9e61,#ff7689,#ff54ab,#e53cc3,#d02ed1,#c829d6,#c226d9,#c326d9,#c829d6,#cf2ed1,#e93ec1,#ff5fa0,#ff6897,#ff718e)"></i>
<i style="background:linear-gradient(90deg,#ff6d92,#ff5fa0,#ff4eb1,#df38c7,#ba20df,#970af5,#7900ff,#6400ff,#6200ff,#6500ff,#6d00ff,#7a00ff,#8c03fc,#a211ee,#cf2ed1,#ff5ca3,#ff9669,#ffc837,#ffe718,#fff906,#ffff49,#ffffa9,#ffffb5,#ffff52,#fff20d,#ffd42b,#ffb04f,#ff8778,#ff609f,#f043bc,#d431ce,#c829d6,#c226d9,#c225da,#c728d7,#ce2dd2,#de37c8,#ff5da2,#ff6798,#ff6f90)"></i>
<i style="background:linear-gradient(90deg,#ff6996,#ff5ba4,#fd4bb4,#da35ca,#b61ee1,#9308f7,#7500ff,#6500ff,#6300ff,#6700ff,#6f00ff,#7d00ff,#8e04fb,#aa16e9,#de38c7,#ff6897,#ff9f60,#ffca35,#ffe21d,#fff20d,#ffff20,#ffff92,#ffffb6,#ffff66,#fff906,#ffe01f,#ffbf40,#ff9768,#ff6d92,#fd4bb4,#da35ca,#c92ad5,#c326d9,#c125da,#c528d7,#cd2cd3,#d632cd,#ff5ba4,#ff659a,#ff6d92)"></i>
<i style="background:linear-gradient(90deg,#ff6699,#ff58a7,#f848b7,#d531ce,#b11be4,#8f05fa,#7200ff,#6600ff,#6500ff,#6800ff,#7100ff,#8000ff,#9207f8,#b41ce3,#ee42bd,#ff728d,#ffa45b,#ffc639,#ffd728,#ffe41b,#fff609,#ffff4a,#ffff81,#ffff45,#fff906,#ffe619,#ffcb34,#ffa55a,#ff7b84,#ff56a9,#e33bc4,#cc2cd3,#c427d8,#c024db,#c427d8,#cc2cd3,#d532cd,#ff54ab,#ff639c,#ff6a95)"></i>
<i style="background:linear-gradient(90deg,#ff629d,#ff54ab,#f244bb,#cf2ed1,#ac17e8,#8b02fd,#6d00ff,#6700ff,#6600ff,#6a00ff,#7300ff,#8400ff,#970af5,#bf24db,#fe4cb3,#ff7a85,#ffa45b,#ffbb44,#ffc738,#ffd12e,#ffe31c,#fff807,#ffff1c,#fffd02,#fff10e,#ffe51a,#ffd12e,#ffb04f,#ff8877,#ff619e,#ef42bd,#d02ed1,#c427d8,#c024db,#c326d9,#ca2bd4,#d431ce,#ff4db2,#ff619e,#ff6897)"></i>
<i style="background:linear-gradient(90deg,#ff5ea1,#ff51ae,#ec40bf,#ca2ad5,#a714eb,#8600ff,#6d00ff,#6800ff,#6700ff,#6b00ff,#7600ff,#8600ff,#9e0ef1,#cc2cd3,#ff55aa,#ff7f80,#ff9f60,#ffac53,#ffb24d,#ffbb44,#ffcb34,#ffe01f,#ffed12,#ffea15,#ffe31c,#ffde21,#ffd12e,#ffb748,#ff926d,#ff6c93,#fc4bb4,#d733cc,#c527d8,#c024db,#c225da,#c92ad5,#d230cf,#f546b9,#ff5fa0,#ff6699)"></i>
<i style="background:linear-gradient(90deg,#ff5aa5,#ff4db2,#e53cc3,#c427d8,#a211ee,#8100ff,#6d00ff,#6800ff,#6800ff,#6d00ff,#7800ff,#8901fe,#a714eb,#da35ca,#ff5da2,#ff807f,#ff956a,#ff9867,#ff9b64,#ffa15e,#ffb14e,#ffc53a,#ffd22d,#ffd22d,#ffd12e,#ffd22d,#ffcc33,#ffb847,#ff9a65,#ff7689,#ff54ab,#e038c7,#c729d6,#c024db,#c125da,#c729d6,#d12fd0,#ea3fc0,#ff5da2,#ff649b)"></i>
<i style="background:linear-gradient(90deg,#ff56a9,#fb4ab5,#df38c7,#be23dc,#9c0df2,#7c00ff,#6d00ff,#6900ff,#6900ff,#6e00ff,#7c00ff,#8d04fb,#b11ae5,#e73dc2,#ff639c,#ff7e81,#ff8778,#ff837c,#ff827d,#ff8877,#ff956a,#ffa758,#ffb44b,#ffb748,#ffba45,#ffc23d,#ffc33c,#ffb44b,#ff9d62,#ff7e81,#ff5ea1,#eb3fc0,#cb2bd4,#c024db,#c024db,#c628d7,#cf2ed1,#df38c7,#ff5ba4,#ff629d)"></i>
<i style="background:linear-gradient(90deg,#ff53ac,#f546b9,#d934cb,#b81fe0,#960af5,#7600ff,#6d00ff,#6900ff,#6900ff,#7000ff,#7e00ff,#9308f7,#bc22dd,#f445ba,#ff6699,#ff7788,#ff7788,#ff6c93,#ff6a95,#ff6f90,#ff7a85,#ff8a75,#ff9669,#ff9b64,#ffa25d,#ffaf50,#ffb649,#ffad52,#ff9b64,#ff847b,#ff6798,#f747b8,#d12fd0,#c024db,#bf23dc,#c527d8,#ce2dd2,#d733cc,#ff59a6,#ff609f)"></i>
<i style="background:linear-gradient(90deg,#ff4fb0,#f043bc,#d230cf,#b11be4,#9006f9,#7400ff,#6d00ff,#6900ff,#6a00ff,#7200ff,#8000ff,#9b0cf3,#c829d6,#ff4cb3,#ff6699,#ff6e91,#ff6699,#ff56a9,#ff54ab,#ff57a8,#ff619e,#ff6f90,#ff7a85,#ff7f80,#ff8976,#ff9a65,#ffa659,#ffa45b,#ff9768,#ff8679,#ff6e91,#ff50af,#d834cb,#c225da,#be23dc,#c326d9,#cc2cd3,#d532cd,#ff55aa,#ff5ea1)"></i>
<i style="background:linear-gradient(90deg,#fc4bb4,#ea3fc0,#cb2bd4,#ab17e8,#8a02fd,#7400ff,#6d00ff,#6a00ff,#6b00ff,#7400ff,#8400ff,#a412ed,#d431ce,#ff51ae,#ff639c,#ff629d,#ff54ab,#ef43bc,#e73dc2,#ea3fc0,#f748b7,#ff54ab,#ff5fa0,#ff6699,#ff718e,#ff857a,#ff956a,#ff9867,#ff906f,#ff847b,#ff738c,#ff58a7,#e23ac5,#c427d8,#be23dc,#c225da,#cb2bd4,#d431ce,#ff4fb0,#ff5ca3)"></i>
<i style="background:linear-gradient(90deg,#f647b8,#e33ac5,#c527d8,#a513ec,#8400ff,#7300ff,#6d00ff,#6a00ff,#6c00ff,#7600ff,#8901fe,#ae18e7,#e039c6,#ff54ab,#ff5ea1,#ff54ab,#ef42bd,#cc2cd3,#c125da,#c326d9,#ce2dd2,#dd37c8,#ed41be,#fe4cb3,#ff5ba4,#ff708f,#ff837c,#ff8a75,#ff8778,#ff807f,#ff7689,#ff5fa0,#ec41be,#c829d6,#be23dc,#c024db,#c92ad5,#d230cf,#fa49b6,#ff59a6)"></i>
<i style="background:linear-gradient(90deg,#f043bc,#dc36c9,#be23dc,#9e0ef1,#7e00ff,#7200ff,#6c00ff,#6900ff,#6d00ff,#7800ff,#8f05fa,#b91fe0,#ea3fc0,#ff55aa,#ff55aa,#f546b9,#cf2ed1,#a916e9,#9e0ef1,#9f0ff0,#a714eb,#b41ce3,#c125da,#d330cf,#f446b9,#ff5ca3,#ff718e,#ff7c83,#ff7e81,#ff7b84,#ff758a,#ff6699,#f848b7,#cd2dd2,#bd23dc,#bf24db,#c729d6,#d12fd0,#f144bb,#ff57a8)"></i>
<i style="background:linear-gradient(90deg,#ea3fc0,#d531ce,#b71ee1,#980af5,#7800ff,#7100ff,#6c00ff,#6900ff,#6e00ff,#7b00ff,#970af5,#c427d8,#f244bb,#ff53ac,#fd4bb4,#dc36c9,#af19e6,#8a01fe,#7e00ff,#7f00ff,#8500ff,#8f05fa,#9a0cf3,#ac17e8,#ce2dd2,#fc4ab5,#ff5fa0,#ff6d92,#ff738c,#ff758a,#ff738c,#ff6a95,#ff4fb0,#d431ce,#be23dc,#be23dc,#c628d7,#cf2ed1,#e93ec1,#ff55aa)"></i>
<i style="background:linear-gradient(90deg,#e43bc4,#ce2dd2,#b01ae5,#9106f9,#7700ff,#7000ff,#6b00ff,#6900ff,#6f00ff,#7f00ff,#a010ef,#ce2dd2,#f747b8,#ff4eb1,#ec40bf,#bf24db,#9106f9,#6e00ff,#6200ff,#6200ff,#6700ff,#6e00ff,#7700ff,#8801fe,#aa16e9,#dd37c8,#ff4fb0,#ff5ea1,#ff6897,#ff6d92,#ff6f90,#ff6b94,#ff56a9,#dc36c9,#bf23dc,#bd22dd,#c527d8,#ce2dd2,#e139c6,#ff53ac)"></i>
<i style="background:linear-gradient(90deg,#de37c8,#c729d6,#aa16e9,#8a02fd,#7600ff,#6f00ff,#6a00ff,#6900ff,#7000ff,#8400ff,#a916e9,#d834cb,#f948b7,#f747b8,#d632cd,#a312ed,#7600ff,#5500ff,#4a00ff,#4900ff,#4d00ff,#5100ff,#5900ff,#6900ff,#8a01fe,#bc22dd,#ec41be,#ff51ae,#ff5ca3,#ff659a,#ff6b94,#ff6b94,#ff5ca3,#e43bc4,#c125da,#bc22dd,#c326d9,#cc2cd3,#d934cb,#ff51ae)"></i>
<i style="background:linear-gradient(90deg,#d834cb,#c024db,#a312ed,#8400ff,#7400ff,#6e00ff,#6900ff,#6900ff,#7300ff,#8b02fd,#b31ce3,#e038c7,#f747b8,#ea3fc0,#be23dc,#8901fe,#5d00ff,#3e00ff,#3400ff,#3300ff,#3600ff,#3a00ff,#4000ff,#4e00ff,#6c00ff,#9d0ef1,#d532cd,#f244bb,#ff51ae,#ff5da2,#ff6699,#ff6996,#ff609f,#ee41be,#c427d8,#bc22dd,#c225da,#cb2bd4,#d330cf,#ff4fb0)"></i>
<i style="background:linear-gradient(90deg,#d230cf,#b920df,#9c0df2,#7d00ff,#7200ff,#6c00ff,#6800ff,#6900ff,#7600ff,#9207f8,#bd22dd,#e53cc3,#f144bb,#d934cb,#a513ec,#6f00ff,#4600ff,#2a00ff,#2000ff,#2000ff,#2200ff,#2500ff,#2a00ff,#3700ff,#5200ff,#8000ff,#b81fe0,#e038c7,#f647b8,#ff54ab,#ff609f,#ff6699,#ff639c,#f747b8,#c829d6,#bc21de,#c024db,#c92ad5,#d12fd0,#fd4bb4)"></i>
<i style="background:linear-gradient(90deg,#cc2cd3,#b21be4,#9609f6,#7700ff,#7100ff,#6b00ff,#6700ff,#6900ff,#7900ff,#9a0cf3,#c528d7,#e73dc2,#e93ec1,#c628d7,#8c03fc,#5700ff,#3100ff,#1800ff,#0f00ff,#0e00ff,#0f00ff,#1200ff,#1700ff,#2300ff,#3c00ff,#6600ff,#9d0ef1,#d02ed1,#e73dc2,#fe4cb3,#ff59a6,#ff639c,#ff639c,#ff4db2,#cd2cd3,#bb21de,#bf24db,#c829d6,#d02ed1,#f647b8)"></i>
<i style="background:linear-gradient(90deg,#c527d8,#ac17e8,#8f05fa,#7500ff,#6f00ff,#6900ff,#6600ff,#6a00ff,#7e00ff,#a211ee,#cd2cd3,#e63dc2,#de37c8,#b01ae5,#7400ff,#4000ff,#1d00ff,#0800ff,#0000ff,#0000fe,#0100ff,#0200ff,#0500ff,#1100ff,#2900ff,#4f00ff,#8300ff,#bb21de,#d834cb,#f143bc,#ff53ac,#ff5ea1,#ff629d,#ff52ad,#d230cf,#bb21de,#be23dc,#c628d7,#ce2dd2,#ef42bd)"></i>
<i style="background:linear-gradient(90deg,#be23dc,#a513ec,#8901fe,#7300ff,#6d00ff,#6700ff,#6400ff,#6c00ff,#8400ff,#aa16e9,#d230cf,#e23ac5,#cf2ed1,#9a0cf3,#5c00ff,#2b00ff,#0c00ff,#0000f9,#0000f1,#0000f0,#0000f1,#0000f3,#0000f7,#0200ff,#1700ff,#3a00ff,#6b00ff,#a312ed,#cc2cd3,#e43bc4,#fe4cb3,#ff5aa5,#ff609f,#ff56a9,#d834cb,#bb21de,#bd22dd,#c527d8,#cd2cd3,#e93ec1)"></i>
<i style="background:linear-gradient(90deg,#b81fe0,#9f0ff0,#8200ff,#7100ff,#6b00ff,#6500ff,#6400ff,#6f00ff,#8a02fd,#b21be4,#d531ce,#db36c9,#be23dc,#8300ff,#4500ff,#1800ff,#0000fd,#0000ec,#0000e4,#0000e3,#0000e4,#0000e6,#0000e9,#0000f3,#0600ff,#2800ff,#5500ff,#8d03fc,#c024db,#d934cb,#f345ba,#ff55aa,#ff5ea1,#ff59a6,#df38c7,#bb21de,#bc21de,#c326d9,#cb2bd4,#e33bc4)"></i>
<i style="background:linear-gradient(90deg,#b21be4,#990bf4,#7c00ff,#6f00ff,#6900ff,#6400ff,#6300ff,#7200ff,#9106f9,#b91fe0,#d531ce,#d230cf,#ab17e8,#6d00ff,#2f00ff,#0700ff,#0000ef,#0000e0,#0000d7,#0000d6,#0000d7,#0000d9,#0000dc,#0000e6,#0000f9,#1700ff,#4100ff,#7700ff,#b01ae5,#ce2dd2,#e93ec1,#ff50af,#ff5ba4,#ff5aa5,#e53cc3,#bd22dd,#bb21de,#c226d9,#ca2ad5,#de37c8)"></i>
<i style="background:linear-gradient(90deg,#ab17e8,#9307f8,#7600ff,#6d00ff,#6700ff,#6200ff,#6300ff,#7600ff,#970af5,#be23dc,#d230cf,#c728d7,#970af5,#5600ff,#1b00ff,#0000f8,#0000e2,#0000d3,#0000cb,#0000ca,#0000cb,#0000cc,#0000d0,#0000d9,#0000eb,#0700ff,#3000ff,#6200ff,#9c0df2,#c427d8,#df38c7,#fc4ab5,#ff58a7,#ff5aa5,#ec40bf,#be23dc,#ba20df,#c125da,#c829d6,#d834cb)"></i>
<i style="background:linear-gradient(90deg,#a513ec,#8d04fb,#7200ff,#6b00ff,#6500ff,#6000ff,#6500ff,#7a00ff,#9e0ef1,#c125da,#cc2cd3,#b920df,#8300ff,#3f00ff,#0a00ff,#0000ea,#0000d6,#0000c7,#0000bf,#0000bd,#0000bf,#0000c0,#0000c4,#0000cd,#0000df,#0000fa,#1f00ff,#4e00ff,#8901fe,#bb21de,#d632cd,#f345ba,#ff54ab,#ff59a6,#f144bb,#c024db,#ba20df,#c024db,#c728d7,#d431ce)"></i>
<i style="background:linear-gradient(90deg,#a00ff0,#8700ff,#7000ff,#6900ff,#6300ff,#5f00ff,#6700ff,#7f00ff,#a412ed,#c225da,#c527d8,#a915ea,#6f00ff,#2a00ff,#0000fb,#0000dd,#0000c9,#0000bb,#0000b4,#0000b2,#0000b3,#0000b5,#0000b8,#0000c1,#0000d2,#0000ed,#0f00ff,#3d00ff,#7500ff,#b41ce3,#cd2cd3,#eb3fc0,#ff50af,#ff57a8,#f647b8,#c326d9,#b920df,#be23dc,#c527d8,#cf2ed1)"></i>
<i style="background:linear-gradient(90deg,#9a0cf3,#8200ff,#6e00ff,#6700ff,#6100ff,#5d00ff,#6900ff,#8400ff,#a915ea,#c024db,#bb21de,#980af5,#5a00ff,#1700ff,#0000ec,#0000d0,#0000bd,#0000b1,#0000aa,#0000a8,#0000a9,#0000ab,#0000ad,#0000b5,#0000c7,#0000e0,#0200ff,#2d00ff,#6300ff,#a211ee,#c527d8,#e23ac5,#fe4cb3,#ff55aa,#fa4ab5,#c628d7,#b81fe0,#bd22dd,#c427d8,#cb2bd4)"></i>
<i style="background:linear-gradient(90deg,#9509f6,#7d00ff,#6c00ff,#6500ff,#5f00ff,#5c00ff,#6c00ff,#8a01fe,#ac17e8,#bc22dd,#b11ae5,#8600ff,#4500ff,#0800ff,#0000de,#0000c4,#0000b3,#0000a7,#0000a0,#00009e,#00009f,#0000a0,#0000a3,#0000ab,#0000bb,#0000d4,#0000f5,#1d00ff,#5100ff,#9106f9,#bd22dd,#da35ca,#f748b7,#ff53ac,#fd4bb4,#c92ad5,#b71ee1,#bc22dd,#c226d9,#c729d6)"></i>
<i style="background:linear-gradient(90deg,#9005fa,#7800ff,#6a00ff,#6400ff,#5d00ff,#5d00ff,#6f00ff,#8f05fa,#ae18e7,#b71ee1,#a613ec,#7500ff,#3200ff,#0000f9,#0000d1,#0000b8,#0000a9,#00009d,#000096,#000094,#000095,#000096,#000099,#0000a1,#0000b1,#0000c9,#0000e8,#0e00ff,#4000ff,#8000ff,#b71ee1,#d330cf,#f143bc,#ff50af,#ff4cb3,#cc2cd3,#b61ee1,#bb21de,#c125da,#c628d7)"></i>
<i style="background:linear-gradient(90deg,#8b02fd,#7300ff,#6800ff,#6200ff,#5c00ff,#5e00ff,#7300ff,#9307f8,#ae18e7,#af19e6,#990bf4,#6500ff,#1f00ff,#0000eb,#0000c5,#0000ae,#00009f,#000093,#00008c,#00008a,#00008b,#00008c,#00008f,#000097,#0000a7,#0000bd,#0000dc,#0200ff,#3100ff,#6f00ff,#b01ae5,#cb2bd4,#e93fc0,#ff4db2,#ff4cb3,#d02ed1,#b51de2,#ba20df,#c024db,#c427d8)"></i>
<i style="background:linear-gradient(90deg,#8600ff,#6f00ff,#6600ff,#6000ff,#5a00ff,#6000ff,#7600ff,#960af5,#ac17e8,#a714eb,#8b02fd,#5400ff,#0f00ff,#0000dd,#0000b9,#0000a4,#000095,#000089,#000082,#000080,#000081,#000082,#000085,#00008d,#00009d,#0000b3,#0000d0,#0000f5,#2200ff,#5e00ff,#a513ec,#c427d8,#e33ac5,#fa4ab5,#fe4cb3,#d330cf,#b51de2,#b920df,#be23dc,#c326d9)"></i>
<i style="background:linear-gradient(90deg,#8200ff,#6b00ff,#6500ff,#5e00ff,#5800ff,#6100ff,#7a00ff,#990bf4,#a815ea,#9e0ef1,#7d00ff,#4300ff,#0300ff,#0000d1,#0000b0,#00009a,#00008b,#000080,#000078,#000076,#000077,#000078,#00007b,#000084,#000094,#0000a9,#0000c5,#0000e9,#1400ff,#4e00ff,#9609f6,#be23dc,#dc36c9,#f546b9,#fb4ab5,#d632cd,#b41de2,#b81fe0,#bd22dd,#c125da)"></i>
<i style="background:linear-gradient(90deg,#7e00ff,#6900ff,#6300ff,#5c00ff,#5700ff,#6300ff,#7e00ff,#9a0cf3,#a311ee,#9408f7,#6f00ff,#3300ff,#0000f5,#0000c6,#0000a6,#000091,#000082,#000076,#00006e,#00006d,#00006e,#00006f,#000071,#00007a,#00008a,#0000a0,#0000ba,#0000dd,#0700ff,#3f00ff,#8700ff,#b81fe0,#d532cd,#f043bc,#f948b7,#d934cb,#b41de2,#b71fe0,#bc22dd,#c024db)"></i>
<i style="background:linear-gradient(90deg,#7a00ff,#6800ff,#6100ff,#5a00ff,#5700ff,#6500ff,#8100ff,#990cf3,#9c0df2,#8b02fd,#6200ff,#2300ff,#0000e9,#0000bb,#00009d,#000087,#000078,#00006c,#000068,#000068,#000068,#000068,#000068,#000070,#000081,#000097,#0000b0,#0000d2,#0000fc,#3100ff,#7800ff,#b21be4,#ce2dd2,#ea3fc0,#f646b9,#db36c9,#b41de2,#b61ee1,#bb21de,#be23dc)"></i>
<i style="background:linear-gradient(90deg,#7600ff,#6600ff,#6000ff,#5900ff,#5700ff,#6800ff,#8300ff,#980af5,#9509f6,#8300ff,#5600ff,#1500ff,#0000dd,#0000b1,#000094,#00007e,#00006e,#000068,#000067,#000067,#000067,#000067,#000067,#000068,#000078,#00008d,#0000a7,#0000c7,#0000f0,#2400ff,#6900ff,#ad18e7,#c829d6,#e43bc4,#f244bb,#dd37c8,#b41de2,#b61de2,#b920df,#bd22dd)"></i>
<i style="background:linear-gradient(90deg,#7300ff,#6500ff,#5e00ff,#5700ff,#5800ff,#6a00ff,#8500ff,#9509f6,#8e04fb,#7900ff,#4a00ff,#0800ff,#0000d3,#0000a9,#00008b,#000075,#000068,#000067,#000066,#000066,#000066,#000066,#000066,#000067,#00006e,#000084,#00009e,#0000bc,#0000e5,#1700ff,#5b00ff,#a915ea,#c226d9,#de38c7,#ee42bd,#de38c7,#b51de2,#b51de2,#b81fe0,#bb21de)"></i>
<i style="background:linear-gradient(90deg,#7000ff,#6300ff,#5d00ff,#5600ff,#5900ff,#6c00ff,#8600ff,#9106f9,#8700ff,#6e00ff,#3e00ff,#0000fd,#0000c9,#0000a0,#000082,#00006b,#000067,#000066,#000065,#000065,#000065,#000065,#000065,#000066,#000068,#00007b,#000095,#0000b2,#0000da,#0a00ff,#4d00ff,#9d0ef1,#bd22dd,#d934cb,#eb3fc0,#df38c7,#b51de2,#b41de2,#b71ee1,#ba20df)"></i>
<i style="background:linear-gradient(90deg,#6d00ff,#6200ff,#5b00ff,#5500ff,#5a00ff,#6e00ff,#8600ff,#8d03fc,#8100ff,#6300ff,#3100ff,#0000f3,#0000bf,#000098,#000079,#000068,#000067,#000066,#000065,#000065,#000065,#000065,#000065,#000065,#000067,#000072,#00008c,#0000a9,#0000cf,#0100ff,#4000ff,#9106f9,#b71fe0,#d330cf,#e73dc2,#df38c7,#b51de2,#b31ce3,#b61ee1,#b91fe0)"></i>
<i style="background:linear-gradient(90deg,#6a00ff,#6100ff,#5a00ff,#5400ff,#5b00ff,#7000ff,#8500ff,#8800ff,#7a00ff,#5900ff,#2400ff,#0000e9,#0000b7,#000090,#000070,#000067,#000066,#000065,#000065,#000065,#000065,#000064,#000064,#000065,#000066,#000069,#000083,#0000a0,#0000c5,#0000f6,#3400ff,#8400ff,#b21be4,#ce2dd2,#e23ac5,#df38c7,#b61ee1,#b11be4,#b51de2,#b71ee1)"></i>
<i style="background:linear-gradient(90deg,#6800ff,#6000ff,#5900ff,#5300ff,#5c00ff,#7200ff,#8300ff,#8200ff,#7500ff,#5000ff,#1900ff,#0000e0,#0000af,#000088,#000069,#000067,#000066,#000065,#000065,#000065,#000065,#000064,#000064,#000064,#000066,#000068,#00007a,#000097,#0000ba,#0000eb,#2900ff,#7800ff,#ad18e7,#c829d6,#de37c8,#de37c8,#b61ee1,#af1ae5,#b41ce3,#b61ee1)"></i>
<i style="background:linear-gradient(90deg,#6600ff,#5f00ff,#5800ff,#5200ff,#5d00ff,#7300ff,#8100ff,#7d00ff,#7000ff,#4800ff,#0d00ff,#0000d7,#0000a8,#000080,#000069,#000066,#000066,#000065,#000065,#000066,#000066,#000065,#000064,#000064,#000065,#000067,#000071,#00008f,#0000b2,#0000e1,#1e00ff,#6d00ff,#a915ea,#c326d9,#d934cb,#dc36c9,#b71ee1,#ae19e6,#b21ce3,#b41de2)"></i>
<i style="background:linear-gradient(90deg,#6400ff,#5e00ff,#5700ff,#5200ff,#5e00ff,#7300ff,#7e00ff,#7800ff,#6800ff,#4000ff,#0200ff,#0000ce,#0000a0,#000079,#000068,#000066,#000066,#000066,#000066,#000067,#000067,#000066,#000065,#000064,#000065,#000066,#000069,#000086,#0000a9,#0000d8,#1300ff,#6100ff,#a513ec,#be23dc,#d532cd,#da35ca,#b71ee1,#ac17e8,#b11be4,#b31ce3)"></i>
<i style="background:linear-gradient(90deg,#6300ff,#5d00ff,#5600ff,#5300ff,#6000ff,#7400ff,#7b00ff,#7300ff,#6000ff,#3600ff,#0000f9,#0000c6,#000099,#000071,#000068,#000066,#000066,#000067,#000068,#000068,#000068,#000067,#000065,#000064,#000065,#000066,#000068,#00007e,#0000a1,#0000ce,#0900ff,#5600ff,#a110ef,#b920df,#d02fd0,#d733cc,#b71fe0,#ab16e9,#b01ae5,#b21be4)"></i>
<i style="background:linear-gradient(90deg,#6300ff,#5c00ff,#5500ff,#5300ff,#6100ff,#7300ff,#7700ff,#6e00ff,#5800ff,#2a00ff,#0000f0,#0000bd,#000092,#00006a,#000067,#000066,#000067,#000068,#00006a,#00006b,#00006b,#000069,#000067,#000065,#000065,#000065,#000067,#000075,#000099,#0000c5,#0100ff,#4b00ff,#9d0ef1,#b41ce3,#cc2cd3,#d431ce,#b71fe0,#a916e9,#af19e6,#b01ae5)"></i>
<i style="background:linear-gradient(90deg,#6200ff,#5b00ff,#5400ff,#5400ff,#6200ff,#7200ff,#7400ff,#6a00ff,#5000ff,#1f00ff,#0000e7,#0000b6,#00008b,#00006a,#000067,#000067,#000068,#00006b,#00006d,#00006e,#00006e,#00006c,#000069,#000066,#000065,#000065,#000066,#00006d,#000091,#0000bc,#0000f8,#4100ff,#9508f7,#af1ae5,#c729d6,#d12fd0,#b81fe0,#a815ea,#ae19e6,#af19e6)"></i>
<i style="background:linear-gradient(90deg,#6100ff,#5a00ff,#5300ff,#5400ff,#6200ff,#7100ff,#7000ff,#6600ff,#4a00ff,#1400ff,#0000de,#0000ae,#000084,#000069,#000067,#000067,#00006a,#00006d,#000071,#000073,#000072,#00006f,#00006b,#000067,#000065,#000065,#000066,#000068,#000089,#0000b5,#0000ef,#3800ff,#8b02fd,#ab17e8,#c326d9,#ce2dd2,#b71fe0,#a614eb,#ad18e7,#ad18e7)"></i>
<i style="background:linear-gradient(90deg,#6000ff,#5a00ff,#5300ff,#5400ff,#6300ff,#6f00ff,#6c00ff,#6300ff,#4300ff,#0900ff,#0000d5,#0000a8,#00007e,#000069,#000067,#000069,#00006c,#000071,#000076,#000079,#000078,#000074,#00006f,#000069,#000066,#000065,#000065,#000068,#000082,#0000ad,#0000e7,#2f00ff,#8200ff,#a714eb,#bf23dc,#cb2bd4,#b71fe0,#a513ec,#ac17e8,#ac17e8)"></i>
<i style="background:linear-gradient(90deg,#6000ff,#5900ff,#5200ff,#5500ff,#6300ff,#6d00ff,#6900ff,#5d00ff,#3d00ff,#0000ff,#0000cd,#0000a1,#000077,#000069,#000068,#00006a,#00006f,#000076,#00007d,#000080,#00007f,#00007a,#000073,#00006c,#000067,#000065,#000065,#000067,#00007a,#0000a7,#0000df,#2600ff,#7900ff,#a312ed,#ba21de,#c829d6,#b71ee1,#a312ed,#aa16e9,#ab16e9)"></i>
<i style="background:linear-gradient(90deg,#5f00ff,#5900ff,#5200ff,#5500ff,#6300ff,#6b00ff,#6600ff,#5700ff,#3200ff,#0000f5,#0000c4,#00009a,#000070,#000069,#000068,#00006c,#000073,#00007c,#000085,#00008a,#000089,#000082,#000078,#00006f,#000069,#000065,#000065,#000066,#000073,#0000a0,#0000d7,#1d00ff,#7000ff,#9f0ff0,#b61ee1,#c527d8,#b61ee1,#a211ee,#a916e9,#a916e9)"></i>
<i style="background:linear-gradient(90deg,#5f00ff,#5800ff,#5200ff,#5600ff,#6300ff,#6900ff,#6300ff,#5200ff,#2700ff,#0000ec,#0000bb,#000093,#00006b,#000069,#000069,#00006e,#000077,#000083,#00008f,#000095,#000094,#00008b,#00007f,#000073,#00006a,#000066,#000064,#000066,#00006c,#000099,#0000d0,#1400ff,#6700ff,#9c0df2,#b21be4,#c225da,#b61ee1,#a110ef,#a815ea,#a815ea)"></i>
<i style="background:linear-gradient(90deg,#5e00ff,#5800ff,#5100ff,#5600ff,#6300ff,#6700ff,#6000ff,#4d00ff,#1d00ff,#0000e4,#0000b4,#00008c,#00006b,#000069,#00006a,#000071,#00007d,#00008c,#00009b,#0000a3,#0000a2,#000097,#000087,#000078,#00006d,#000066,#000064,#000065,#000068,#000093,#0000c9,#0c00ff,#5f00ff,#980bf4,#ae19e6,#bf23dc,#b51de2,#9f0ff0,#a714eb,#a614eb)"></i>
<i style="background:linear-gradient(90deg,#5e00ff,#5700ff,#5100ff,#5700ff,#6300ff,#6500ff,#5d00ff,#4800ff,#1300ff,#0000db,#0000ac,#000084,#00006a,#000069,#00006b,#000074,#000083,#000096,#0000a9,#0000b1,#0000ae,#0000a3,#000090,#00007d,#00006f,#000067,#000064,#000064,#000068,#00008d,#0000c2,#0500ff,#5700ff,#9509f6,#aa16e9,#bc21de,#b41ce3,#9e0ff0,#a513ec,#a513ec)"></i>
<i style="background:linear-gradient(90deg,#5d00ff,#5700ff,#5200ff,#5700ff,#6200ff,#6300ff,#5b00ff,#4300ff,#0900ff,#0000d2,#0000a5,#00007d,#00006a,#000069,#00006d,#000078,#00008a,#0000a2,#0000b6,#0000c0,#0000be,#0000ae,#00009a,#000083,#000072,#000068,#000064,#000064,#000067,#000087,#0000bb,#0000ff,#4f00ff,#9207f8,#a614eb,#b81fe0,#b31ce3,#9d0ef1,#a412ed,#a312ed)"></i>
<i style="background:linear-gradient(90deg,#5d00ff,#5700ff,#5200ff,#5700ff,#6200ff,#6100ff,#5900ff,#3f00ff,#0000ff,#0000c9,#00009d,#000076,#000069,#000069,#00006e,#00007b,#000092,#0000ad,#0000c5,#0000d4,#0000d0,#0000bc,#0000a3,#000089,#000075,#000069,#000064,#000063,#000066,#000081,#0000b5,#0000f8,#4700ff,#8f05fa,#a311ee,#b51de2,#b21be4,#9c0df2,#a312ed,#a211ee)"></i>
<i style="background:linear-gradient(90deg,#5d00ff,#5700ff,#5200ff,#5800ff,#6100ff,#5f00ff,#5700ff,#3a00ff,#0000f7,#0000c1,#000096,#00006f,#000069,#000069,#000070,#00007f,#00009a,#0000b8,#0000d7,#0000ed,#0000e8,#0000cd,#0000ac,#000090,#000078,#00006a,#000064,#000063,#000066,#00007b,#0000b0,#0000f1,#3f00ff,#8c03fc,#9f0ff0,#b21be4,#b01ae5,#9b0cf3,#a211ee,#a110ef)"></i>
<i style="background:linear-gradient(90deg,#5c00ff,#5600ff,#5200ff,#5800ff,#6000ff,#5d00ff,#5400ff,#3200ff,#0000ef,#0000b9,#00008f,#00006b,#000068,#000069,#000071,#000084,#0000a2,#0000c4,#0000ef,#0e00ff,#0800ff,#0000e1,#0000b6,#000095,#00007b,#00006b,#000064,#000062,#000065,#000075,#0000aa,#0000eb,#3800ff,#8500ff,#9c0df2,#af19e6,#af19e6,#990bf4,#a010ef,#9f0ff0)"></i>
<i style="background:linear-gradient(90deg,#5c00ff,#5600ff,#5300ff,#5800ff,#5f00ff,#5c00ff,#5100ff,#2900ff,#0000e7,#0000b2,#000087,#00006a,#000068,#000069,#000073,#000088,#0000a7,#0000d2,#0e00ff,#3b00ff,#3200ff,#0000fc,#0000c0,#000099,#00007e,#00006c,#000064,#000062,#000064,#000070,#0000a5,#0000e4,#3000ff,#7e00ff,#980bf4,#ac17e8,#ad18e7,#980bf4,#9f0ff0,#9e0ef1)"></i>
<i style="background:linear-gradient(90deg,#5c00ff,#5600ff,#5300ff,#5800ff,#5e00ff,#5a00ff,#4e00ff,#2100ff,#0000df,#0000ab,#000080,#000069,#000067,#000069,#000074,#00008b,#0000ac,#0000e3,#3500ff,#8100ff,#7100ff,#1b00ff,#0000cc,#00009c,#000081,#00006d,#000063,#000061,#000064,#00006b,#0000a0,#0000de,#2900ff,#7700ff,#9509f6,#a915ea,#ab17e8,#970af5,#9e0ef1,#9c0df2)"></i>
<i style="background:linear-gradient(90deg,#5c00ff,#5600ff,#5300ff,#5800ff,#5e00ff,#5900ff,#4b00ff,#1a00ff,#0000d8,#0000a4,#000079,#000068,#000066,#000069,#000075,#00008e,#0000b0,#0000f5,#6900ff,#e63cc3,#cc2cd3,#4200ff,#0000d9,#00009f,#000081,#00006d,#000063,#000061,#000063,#000068,#00009b,#0000d8,#2200ff,#7000ff,#9207f8,#a613ec,#aa16e9,#9609f6,#9c0df2,#9b0cf3)"></i>
<i style="background:linear-gradient(90deg,#5c00ff,#5600ff,#5300ff,#5800ff,#5d00ff,#5800ff,#4800ff,#1200ff,#0000d1,#00009d,#000071,#000067,#000065,#000069,#000075,#00008d,#0000b3,#0800ff,#a614eb,#ff8c73,#ff748b,#6f00ff,#0000e5,#0000a0,#000080,#00006d,#000063,#000060,#000062,#000067,#000096,#0000d2,#1a00ff,#6900ff,#8f05fa,#a312ed,#a815ea,#9408f7,#9a0cf3,#990bf4)"></i>
<i style="background:linear-gradient(90deg,#5b00ff,#5600ff,#5400ff,#5800ff,#5c00ff,#5700ff,#4600ff,#0b00ff,#0000ca,#000097,#00006a,#000065,#000064,#000068,#000075,#00008b,#0000b4,#1500ff,#e139c6,#ffd926,#ffb847,#9a0cf3,#0000ef,#0000a0,#00007e,#00006d,#000062,#00005f,#000061,#000067,#000091,#0000cc,#1300ff,#6200ff,#8d03fc,#a010ef,#a613ec,#9308f7,#980bf4,#980af5)"></i>
<i style="background:linear-gradient(90deg,#5b00ff,#5600ff,#5400ff,#5800ff,#5b00ff,#5600ff,#4400ff,#0500ff,#0000c4,#000090,#000068,#000064,#000063,#000067,#000074,#000089,#0000b3,#1b00ff,#ff51ae,#ffff45,#ffe51a,#b51de2,#0000f4,#00009e,#00007b,#00006d,#000061,#00005e,#000061,#000066,#00008c,#0000c6,#0c00ff,#5c00ff,#8a02fd,#9d0ef1,#a412ed,#9207f8,#970af5,#9609f6)"></i>
<i style="background:linear-gradient(90deg,#5b00ff,#5600ff,#5400ff,#5800ff,#5a00ff,#5500ff,#4100ff,#0000fe,#0000be,#00008a,#000067,#000063,#000062,#000066,#000073,#000084,#0000af,#1a00ff,#ff52ad,#ffff5b,#ffe718,#b61ee1,#0000f2,#00009a,#000076,#00006a,#000060,#00005d,#000060,#000065,#000088,#0000c1,#0600ff,#5500ff,#8700ff,#9a0cf3,#a211ee,#9106f9,#9509f6,#9508f7)"></i>
<i style="background:linear-gradient(90deg,#5b00ff,#5600ff,#5400ff,#5800ff,#5a00ff,#5400ff,#3f00ff,#0000f9,#0000b8,#000084,#000066,#000062,#000061,#000064,#000070,#00007f,#0000a8,#0f00ff,#e43bc4,#ffe11e,#ffbf40,#9b0cf3,#0000e7,#000093,#000071,#000066,#00005f,#00005c,#00005f,#000064,#000083,#0000bb,#0100ff,#4f00ff,#8500ff,#970af5,#a010ef,#9005fa,#9307f8,#9308f7)"></i>
<i style="background:linear-gradient(90deg,#5b00ff,#5700ff,#5400ff,#5800ff,#5900ff,#5300ff,#3e00ff,#0000f4,#0000b3,#00007e,#000065,#000061,#00005f,#000063,#00006b,#000079,#00009f,#0000fb,#a714eb,#ff956a,#ff7b84,#6d00ff,#0000d7,#00008c,#00006b,#000061,#00005d,#00005b,#00005e,#000064,#00007e,#0000b6,#0000fa,#4900ff,#8200ff,#9508f7,#9e0ef1,#8e04fb,#9106f9,#9207f8)"></i>
<i style="background:linear-gradient(90deg,#5b00ff,#5700ff,#5500ff,#5800ff,#5900ff,#5300ff,#3c00ff,#0000f0,#0000af,#000079,#000064,#000060,#00005e,#000061,#000065,#000071,#000094,#0000e0,#6300ff,#ed41be,#d12fd0,#3900ff,#0000c3,#000083,#000064,#00005c,#00005c,#00005a,#00005d,#000063,#00007a,#0000b1,#0000f4,#4300ff,#8000ff,#9207f8,#9c0df2,#8d04fb,#8f05fa,#9006f9)"></i>
<i style="background:linear-gradient(90deg,#5b00ff,#5700ff,#5500ff,#5800ff,#5800ff,#5200ff,#3a00ff,#0000eb,#0000aa,#000074,#000063,#00005e,#00005c,#00005f,#00005f,#000069,#000089,#0000c6,#2600ff,#7c00ff,#6a00ff,#0b00ff,#0000af,#00007a,#00005d,#000056,#00005a,#000059,#00005c,#000062,#000075,#0000ad,#0000ee,#3d00ff,#7e00ff,#9005fa,#9a0cf3,#8c03fc,#8e04fb,#8f05fa)"></i>
<i style="background:linear-gradient(90deg,#5b00ff,#5700ff,#5500ff,#5800ff,#5800ff,#5200ff,#3600ff,#0000e7,#0000a6,#00006f,#000062,#00005d,#00005b,#00005c,#000059,#000060,#00007d,#0000ad,#0000f3,#2b00ff,#2100ff,#0000dc,#00009b,#00006f,#000055,#000051,#000058,#000057,#00005b,#000061,#000071,#0000a8,#0000e8,#3600ff,#7b00ff,#8d04fb,#980af5,#8a02fd,#8c03fc,#8d04fb)"></i>
<i style="background:linear-gradient(90deg,#5b00ff,#5700ff,#5500ff,#5800ff,#5700ff,#5200ff,#3200ff,#0000e3,#0000a3,#00006a,#000061,#00005c,#000059,#00005a,#000053,#000057,#000070,#000097,#0000c8,#0000f2,#0000ea,#0000ba,#000088,#000064,#00004e,#00004b,#000054,#000056,#00005a,#000060,#00006c,#0000a4,#0000e3,#3000ff,#7600ff,#8b02fd,#9609f6,#8901fe,#8a02fd,#8c03fc)"></i>
<i style="background:linear-gradient(90deg,#5b00ff,#5700ff,#5500ff,#5800ff,#5700ff,#5100ff,#2e00ff,#0000e0,#00009f,#000067,#000060,#00005b,#000058,#000056,#00004d,#00004f,#000064,#000082,#0000aa,#0000c5,#0000c0,#00009f,#000076,#000059,#000047,#000045,#000050,#000055,#000059,#00005f,#000068,#00009f,#0000de,#2a00ff,#7100ff,#8800ff,#9408f7,#8800ff,#8801fe,#8a02fd)"></i>
<i style="background:linear-gradient(90deg,#5b00ff,#5700ff,#5500ff,#5800ff,#5600ff,#5100ff,#2a00ff,#0000dc,#00009c,#000066,#00005f,#00005a,#000056,#000052,#000046,#000048,#000057,#000071,#000091,#0000a5,#0000a2,#000089,#000067,#00004d,#000040,#00003f,#00004c,#000053,#000058,#00005f,#000066,#00009b,#0000d8,#2400ff,#6c00ff,#8600ff,#9206f9,#8700ff,#8700ff,#8801fe)"></i>
<i style="background:linear-gradient(90deg,#5b00ff,#5700ff,#5500ff,#5800ff,#5600ff,#5000ff,#2700ff,#0000d9,#000098,#000066,#00005e,#000058,#000054,#00004d,#000040,#000040,#00004b,#000062,#00007c,#00008c,#000089,#000076,#00005a,#000043,#000039,#000039,#000047,#000052,#000057,#00005e,#000066,#000096,#0000d3,#1e00ff,#6700ff,#8400ff,#8f05fa,#8500ff,#8500ff,#8700ff)"></i>
<i style="background:linear-gradient(90deg,#5b00ff,#5800ff,#5500ff,#5800ff,#5600ff,#4f00ff,#2400ff,#0000d6,#000096,#000065,#00005d,#000057,#000053,#000049,#00003a,#000039,#000040,#000054,#00006a,#000076,#000074,#000064,#00004e,#000039,#000032,#000033,#000043,#000050,#000056,#00005d,#000065,#000092,#0000ce,#1800ff,#6200ff,#8100ff,#8d04fb,#8400ff,#8300ff,#8500ff)"></i>
<i style="background:linear-gradient(90deg,#5b00ff,#5800ff,#5600ff,#5800ff,#5600ff,#4e00ff,#2000ff,#0000d3,#000093,#000065,#00005d,#000056,#000051,#000044,#000034,#000032,#000036,#000048,#000059,#000063,#000062,#000055,#000043,#000030,#00002c,#00002f,#00003f,#00004f,#000055,#00005c,#000064,#00008e,#0000c9,#1200ff,#5e00ff,#7f00ff,#8b03fc,#8300ff,#8200ff,#8400ff)"></i>
<i style="background:linear-gradient(90deg,#5b00ff,#5800ff,#5600ff,#5800ff,#5500ff,#4d00ff,#1d00ff,#0000d0,#000090,#000064,#00005c,#000055,#000050,#000040,#00002f,#00002b,#00002e,#00003d,#00004b,#000053,#000052,#000048,#000039,#00002a,#000026,#00002b,#00003b,#00004e,#000054,#00005b,#000063,#00008a,#0000c5,#0d00ff,#5a00ff,#7d00ff,#8901fe,#8100ff,#8000ff,#8200ff)"></i>
<i style="background:linear-gradient(90deg,#5b00ff,#5800ff,#5600ff,#5800ff,#5500ff,#4c00ff,#1a00ff,#0000cd,#00008e,#000063,#00005b,#000054,#00004e,#00003c,#00002b,#000025,#000028,#000034,#00003f,#000045,#000044,#00003c,#000030,#000024,#000020,#000027,#000037,#00004c,#000053,#00005a,#000063,#000086,#0000c0,#0700ff,#5500ff,#7b00ff,#8800ff,#8000ff,#7f00ff,#8100ff)"></i>
<i style="background:linear-gradient(90deg,#5b00ff,#5800ff,#5600ff,#5800ff,#5500ff,#4b00ff,#1700ff,#0000cb,#00008b,#000063,#00005a,#000053,#00004d,#000038,#000027,#00001f,#000022,#00002c,#000034,#000039,#000038,#000032,#000029,#00001f,#00001b,#000023,#000033,#00004a,#000052,#000059,#000062,#000082,#0000bc,#0200ff,#5100ff,#7900ff,#8600ff,#7e00ff,#7d00ff,#7f00ff)"></i>
<i style="background:linear-gradient(90deg,#5b00ff,#5800ff,#5600ff,#5800ff,#5500ff,#4a00ff,#1400ff,#0000c8,#000089,#000062,#00005a,#000052,#00004c,#000034,#000023,#00001a,#00001d,#000025,#00002c,#00002f,#00002f,#00002a,#000023,#00001b,#000016,#00001f,#00002f,#000047,#000051,#000059,#000061,#00007e,#0000b8,#0000fe,#4e00ff,#7700ff,#8400ff,#7d00ff,#7b00ff,#7e00ff)"></i>
<i style="background:linear-gradient(90deg,#5b00ff,#5800ff,#5600ff,#5800ff,#5500ff,#4a00ff,#1200ff,#0000c6,#000087,#000062,#000059,#000051,#000049,#000031,#000020,#000016,#000019,#00001f,#000025,#000027,#000027,#000023,#00001e,#000018,#000012,#00001c,#00002c,#000044,#000050,#000058,#000060,#00007a,#0000b4,#0000fa,#4a00ff,#7500ff,#8200ff,#7c00ff,#7a00ff,#7c00ff)"></i>
<i style="background:linear-gradient(90deg,#5b00ff,#5800ff,#5600ff,#5800ff,#5500ff,#4900ff,#0f00ff,#0000c4,#000085,#000062,#000059,#000050,#000046,#00002d,#00001d,#000012,#000016,#00001b,#00001f,#000021,#000020,#00001d,#000019,#000014,#000010,#000019,#000028,#000041,#00004f,#000057,#000060,#000077,#0000b1,#0000f6,#4700ff,#7400ff,#8000ff,#7a00ff,#7800ff,#7b00ff)"></i>
<i style="background:linear-gradient(90deg,#5a00ff,#5800ff,#5600ff,#5800ff,#5500ff,#4800ff,#0c00ff,#0000c2,#000083,#000061,#000058,#000050,#000043,#00002a,#00001a,#000010,#000013,#000017,#00001a,#00001b,#00001b,#000019,#000015,#000012,#00000e,#000016,#000025,#00003f,#00004e,#000056,#00005f,#000073,#0000ae,#0000f2,#4400ff,#7200ff,#7e00ff,#7900ff,#7700ff,#7900ff)"></i>
<i style="background:linear-gradient(90deg,#5a00ff,#5800ff,#5600ff,#5800ff,#5500ff,#4700ff,#0900ff,#0000bf,#000081,#000061,#000057,#00004f,#000041,#000027,#000017,#00000e,#000010,#000013,#000016,#000017,#000016,#000015,#000012,#00000f,#00000d,#000013,#000022,#00003c,#00004d,#000056,#00005f,#000070,#0000ab,#0000ef,#4100ff,#7000ff,#7c00ff,#7800ff,#7500ff,#7800ff)"></i>
<i style="background:linear-gradient(90deg,#5a00ff,#5800ff,#5600ff,#5800ff,#5500ff,#4600ff,#0600ff,#0000bd,#000080,#000060,#000057,#00004e,#00003e,#000024,#000014,#00000c,#00000e,#000010,#000012,#000013,#000013,#000012,#000010,#00000d,#00000b,#000011,#000020,#00003a,#00004c,#000055,#00005e,#00006d,#0000a8,#0000eb,#3e00ff,#6f00ff,#7a00ff,#7600ff,#7400ff,#7600ff)"></i>
<i style="background:linear-gradient(90deg,#5a00ff,#5800ff,#5700ff,#5800ff,#5500ff,#4500ff,#0400ff,#0000bb,#00007e,#000060,#000056,#00004d,#00003c,#000021,#000012,#00000b,#00000c,#00000e,#00000f,#000010,#000010,#00000f,#00000d,#00000c,#00000a,#00000f,#00001e,#000037,#00004c,#000054,#00005e,#00006a,#0000a5,#0000e8,#3b00ff,#6d00ff,#7800ff,#7500ff,#7200ff,#7500ff)"></i>
<i style="background:linear-gradient(90deg,#5a00ff,#5800ff,#5700ff,#5800ff,#5500ff,#4400ff,#0100ff,#0000b8,#00007c,#000060,#000056,#00004d,#00003a,#00001f,#00000f,#00000a,#00000b,#00000c,#00000d,#00000d,#00000d,#00000d,#00000c,#00000a,#000009,#00000c,#00001c,#000035,#00004b,#000054,#00005d,#000067,#0000a3,#0000e6,#3800ff,#6c00ff,#7600ff,#7300ff,#7100ff,#7400ff)"></i>
<i style="background:linear-gradient(90deg,#5a00ff,#5800ff,#5700ff,#5800ff,#5500ff,#4300ff,#0000fe,#0000b6,#00007a,#00005f,#000056,#00004c,#000038,#00001e,#00000d,#000009,#00000a,#00000a,#00000b,#00000b,#00000b,#00000b,#00000a,#000009,#000008,#00000a,#00001b,#000033,#00004a,#000053,#00005d,#000066,#0000a0,#0000e3,#3500ff,#6a00ff,#7500ff,#7200ff,#7000ff,#7200ff)"></i>
<i style="background:linear-gradient(90deg,#5b00ff,#5800ff,#5700ff,#5800ff,#5500ff,#4200ff,#0000fb,#0000b4,#000078,#00005f,#000055,#00004b,#000036,#00001c,#00000b,#000008,#000008,#000009,#000009,#000009,#000009,#000009,#000009,#000008,#000008,#000008,#000019,#000031,#00004a,#000053,#00005c,#000065,#00009e,#0000e1,#3200ff,#6900ff,#7300ff,#7100ff,#6e00ff,#7100ff)"></i>
<i style="background:linear-gradient(90deg,#5b00ff,#5900ff,#5700ff,#5800ff,#5500ff,#4100ff,#0000f9,#0000b2,#000076,#00005f,#000055,#00004b,#000034,#00001b,#00000a,#000007,#000007,#000008,#000008,#000008,#000008,#000008,#000007,#000007,#000007,#000007,#000018,#00002f,#000049,#000052,#00005c,#000065,#00009c,#0000de,#3000ff,#6800ff,#7100ff,#6f00ff,#6d00ff,#6f00ff)"></i>
<i style="background:linear-gradient(90deg,#5b00ff,#5900ff,#5800ff,#5800ff,#5500ff,#4000ff,#0000f7,#0000b0,#000074,#00005e,#000054,#00004a,#000033,#000019,#000008,#000007,#000007,#000007,#000007,#000007,#000007,#000007,#000006,#000006,#000006,#000006,#000016,#00002e,#000049,#000052,#00005b,#000065,#00009a,#0000dc,#2d00ff,#6600ff,#7000ff,#6e00ff,#6c00ff,#6e00ff)"></i>
<i style="background:linear-gradient(90deg,#5b00ff,#5900ff,#5800ff,#5800ff,#5500ff,#3f00ff,#0000f4,#0000ae,#000072,#00005e,#000054,#00004a,#000031,#000018,#000007,#000006,#000006,#000006,#000006,#000006,#000006,#000006,#000006,#000006,#000006,#000006,#000015,#00002c,#000048,#000052,#00005b,#000064,#000098,#0000db,#2b00ff,#6500ff,#6e00ff,#6d00ff,#6b00ff,#6d00ff)"></i>
<i style="background:linear-gradient(90deg,#5b00ff,#5900ff,#5800ff,#5900ff,#5600ff,#3f00ff,#0000f2,#0000ad,#000070,#00005e,#000053,#000049,#000030,#000017,#000006,#000006,#000005,#000005,#000005,#000005,#000005,#000005,#000005,#000005,#000005,#000006,#000014,#00002b,#000048,#000051,#00005b,#000064,#000097,#0000d9,#2900ff,#6300ff,#6d00ff,#6c00ff,#6900ff,#6c00ff)"></i>
<i style="background:linear-gradient(90deg,#5b00ff,#5900ff,#5800ff,#5900ff,#5600ff,#3e00ff,#0000f0,#0000ab,#00006e,#00005d,#000053,#000049,#00002e,#000016,#000006,#000005,#000005,#000005,#000004,#000004,#000004,#000004,#000004,#000005,#000005,#000006,#000013,#000029,#000047,#000051,#00005a,#000064,#000096,#0000d7,#2800ff,#6100ff,#6b00ff,#6a00ff,#6800ff,#6a00ff)"></i>
<i style="background:linear-gradient(90deg,#5b00ff,#5a00ff,#5900ff,#5900ff,#5600ff,#3d00ff,#0000ee,#0000a9,#00006c,#00005d,#000053,#000049,#00002d,#000015,#000006,#000005,#000005,#000004,#000004,#000003,#000003,#000003,#000004,#000004,#000005,#000005,#000012,#000028,#000046,#000051,#00005a,#000064,#000094,#0000d6,#2600ff,#6000ff,#6a00ff,#6900ff,#6700ff,#6900ff)"></i>
<i style="background:linear-gradient(90deg,#5c00ff,#5a00ff,#5900ff,#5a00ff,#5600ff,#3c00ff,#0000ec,#0000a7,#00006b,#00005d,#000052,#000048,#00002c,#000014,#000005,#000005,#000004,#000004,#000003,#000003,#000003,#000003,#000003,#000004,#000005,#000005,#000011,#000027,#000045,#000050,#00005a,#000064,#000093,#0000d5,#2500ff,#5e00ff,#6800ff,#6800ff,#6600ff,#6800ff)"></i>
<i style="background:linear-gradient(90deg,#5c00ff,#5a00ff,#5a00ff,#5a00ff,#5700ff,#3b00ff,#0000ea,#0000a6,#000069,#00005c,#000052,#000048,#00002b,#000014,#000005,#000005,#000004,#000003,#000003,#000002,#000002,#000003,#000003,#000004,#000004,#000005,#000010,#000026,#000044,#000050,#00005a,#000063,#000093,#0000d4,#2400ff,#5d00ff,#6700ff,#6700ff,#6500ff,#6700ff)"></i>
<i style="background:linear-gradient(90deg,#5c00ff,#5a00ff,#5a00ff,#5b00ff,#5700ff,#3a00ff,#0000e8,#0000a4,#000067,#00005c,#000052,#000048,#00002a,#000013,#000005,#000004,#000004,#000003,#000002,#000002,#000002,#000002,#000003,#000004,#000004,#000005,#000010,#000025,#000043,#000050,#000059,#000063,#000092,#0000d3,#2300ff,#5c00ff,#6600ff,#6600ff,#6400ff,#6600ff)"></i>
<i style="background:linear-gradient(90deg,#5c00ff,#5b00ff,#5a00ff,#5b00ff,#5700ff,#3900ff,#0000e7,#0000a3,#000066,#00005c,#000052,#000048,#000029,#000012,#000005,#000004,#000004,#000003,#000002,#000002,#000002,#000002,#000003,#000003,#000004,#000005,#00000f,#000024,#000043,#000050,#000059,#000063,#000091,#0000d3,#2200ff,#5b00ff,#6500ff,#6400ff,#6300ff,#6500ff)"></i>
<i style="background:linear-gradient(90deg,#5d00ff,#5b00ff,#5b00ff,#5c00ff,#5800ff,#3700ff,#0000e5,#0000a1,#000066,#00005c,#000051,#000047,#000029,#000012,#000005,#000004,#000003,#000003,#000002,#000001,#000001,#000002,#000003,#000003,#000004,#000005,#00000f,#000024,#000042,#00004f,#000059,#000063,#000091,#0000d3,#2200ff,#5a00ff,#6300ff,#6300ff,#6200ff,#6400ff)"></i>
<i style="background:linear-gradient(90deg,#5d00ff,#5c00ff,#5c00ff,#5c00ff,#5800ff,#3600ff,#0000e4,#0000a0,#000065,#00005b,#000051,#000047,#000028,#000012,#000005,#000004,#000003,#000003,#000002,#000001,#000001,#000002,#000002,#000003,#000004,#000005,#00000e,#000023,#000042,#00004f,#000059,#000063,#000091,#0000d2,#2200ff,#5900ff,#6200ff,#6200ff,#6100ff,#6300ff)"></i>
<i style="background:linear-gradient(90deg,#5e00ff,#5c00ff,#5c00ff,#5d00ff,#5900ff,#3400ff,#0000e3,#00009f,#000065,#00005b,#000051,#000046,#000028,#000011,#000005,#000004,#000003,#000002,#000002,#000001,#000001,#000002,#000002,#000003,#000004,#000005,#00000e,#000023,#000041,#00004f,#000059,#000063,#000091,#0000d3,#2200ff,#5900ff,#6100ff,#6100ff,#6000ff,#6200ff)"></i>
<i style="background:linear-gradient(90deg,#5e00ff,#5d00ff,#5d00ff,#5e00ff,#5900ff,#3300ff,#0000e1,#00009e,#000065,#00005b,#000051,#000046,#000027,#000011,#000005,#000004,#000003,#000002,#000002,#000001,#000001,#000001,#000002,#000003,#000004,#000005,#00000e,#000022,#000041,#00004f,#000059,#000063,#000091,#0000d3,#2200ff,#5800ff,#6000ff,#6100ff,#5f00ff,#6100ff)"></i>
<i style="background:linear-gradient(90deg,#5f00ff,#5d00ff,#5e00ff,#5e00ff,#5a00ff,#3200ff,#0000e1,#00009d,#000065,#00005b,#000051,#000046,#000027,#000011,#000005,#000004,#000003,#000002,#000002,#000001,#000001,#000001,#000002,#000003,#000004,#000005,#00000e,#000022,#000041,#00004f,#000059,#000063,#000092,#0000d3,#2200ff,#5800ff,#5f00ff,#6000ff,#5f00ff,#6000ff)"></i>
<i style="background:linear-gradient(90deg,#6000ff,#5e00ff,#5e00ff,#5f00ff,#5b00ff,#3100ff,#0000e0,#00009c,#000065,#00005b,#000051,#000046,#000027,#000011,#000005,#000004,#000003,#000002,#000002,#000001,#000001,#000001,#000002,#000003,#000004,#000005,#00000e,#000022,#000041,#00004f,#000059,#000063,#000092,#0000d4,#2300ff,#5700ff,#5f00ff,#5f00ff,#5e00ff,#6000ff)"></i>
<i style="background:linear-gradient(90deg,#6000ff,#5f00ff,#5f00ff,#6000ff,#5b00ff,#3100ff,#0000df,#00009c,#000065,#00005b,#000051,#000046,#000027,#000011,#000005,#000004,#000003,#000002,#000002,#000001,#000001,#000001,#000002,#000003,#000004,#000005,#00000e,#000022,#000041,#00004f,#000059,#000063,#000093,#0000d4,#2400ff,#5700ff,#5e00ff,#5e00ff,#5d00ff,#5f00ff)"></i>
<i style="background:linear-gradient(90deg,#6100ff,#6000ff,#6000ff,#6100ff,#5c00ff,#3000ff,#0000df,#00009b,#000065,#00005b,#000051,#000046,#000027,#000011,#000005,#000004,#000003,#000002,#000002,#000001,#000001,#000001,#000002,#000003,#000004,#000005,#00000e,#000022,#000041,#00004f,#000059,#000063,#000094,#0000d5,#2500ff,#5700ff,#5d00ff,#5d00ff,#5d00ff,#5e00ff)"></i>
<i style="background:linear-gradient(90deg,#6200ff,#6000ff,#6100ff,#6200ff,#5d00ff,#3000ff,#0000df,#00009b,#000065,#00005b,#000051,#000046,#000028,#000011,#000005,#000004,#000003,#000002,#000002,#000001,#000001,#000002,#000002,#000003,#000004,#000005,#00000e,#000023,#000041,#00004f,#00005a,#000064,#000095,#0000d7,#2600ff,#5700ff,#5c00ff,#5d00ff,#5c00ff,#5e00ff)"></i>
<i style="background:linear-gradient(90deg,#6300ff,#6100ff,#6200ff,#6300ff,#5e00ff,#3000ff,#0000df,#00009b,#000065,#00005b,#000051,#000047,#000028,#000011,#000005,#000004,#000003,#000003,#000002,#000001,#000001,#000002,#000002,#000003,#000004,#000005,#00000e,#000023,#000042,#000050,#00005a,#000064,#000096,#0000d8,#2700ff,#5600ff,#5c00ff,#5c00ff,#5b00ff,#5d00ff)"></i>
<i style="background:linear-gradient(90deg,#6400ff,#6200ff,#6300ff,#6400ff,#5e00ff,#3000ff,#0000df,#00009b,#000065,#00005b,#000051,#000047,#000029,#000012,#000005,#000004,#000003,#000003,#000002,#000001,#000001,#000002,#000003,#000003,#000004,#000005,#00000f,#000024,#000042,#000050,#00005a,#000064,#000097,#0000d9,#2900ff,#5600ff,#5b00ff,#5b00ff,#5b00ff,#5d00ff)"></i>
<i style="background:linear-gradient(90deg,#6500ff,#6300ff,#6400ff,#6500ff,#5f00ff,#3100ff,#0000df,#00009c,#000065,#00005b,#000051,#000048,#000029,#000012,#000005,#000004,#000004,#000003,#000002,#000002,#000002,#000002,#000003,#000003,#000004,#000005,#00000f,#000024,#000043,#000050,#00005a,#000064,#000098,#0000db,#2b00ff,#5700ff,#5b00ff,#5b00ff,#5b00ff,#5c00ff)"></i>
<i style="background:linear-gradient(90deg,#6600ff,#6400ff,#6500ff,#6700ff,#6000ff,#3100ff,#0000e0,#00009c,#000065,#00005b,#000051,#000048,#00002a,#000013,#000005,#000004,#000004,#000003,#000002,#000002,#000002,#000002,#000003,#000004,#000004,#000005,#000010,#000025,#000043,#000050,#00005a,#000065,#00009a,#0000dc,#2c00ff,#5700ff,#5a00ff,#5a00ff,#5a00ff,#5c00ff)"></i>
<i style="background:linear-gradient(90deg,#6700ff,#6500ff,#6600ff,#6800ff,#6100ff,#3200ff,#0000e0,#00009d,#000065,#00005b,#000052,#000048,#00002b,#000014,#000005,#000005,#000004,#000003,#000003,#000002,#000002,#000003,#000003,#000004,#000004,#000005,#000010,#000026,#000044,#000051,#00005b,#000065,#00009b,#0000de,#2e00ff,#5600ff,#5a00ff,#5a00ff,#5a00ff,#5c00ff)"></i>
<i style="background:linear-gradient(90deg,#6800ff,#6600ff,#6700ff,#6900ff,#6200ff,#3300ff,#0000e1,#00009e,#000065,#00005b,#000052,#000048,#00002c,#000014,#000005,#000005,#000004,#000004,#000003,#000003,#000003,#000003,#000004,#000004,#000005,#000005,#000011,#000027,#000045,#000051,#00005b,#000065,#00009d,#0000e0,#3000ff,#5600ff,#5900ff,#5900ff,#5900ff,#5b00ff)"></i>
<i style="background:linear-gradient(90deg,#6900ff,#6700ff,#6800ff,#6b00ff,#6300ff,#3500ff,#0000e2,#00009f,#000065,#00005c,#000052,#000049,#00002d,#000015,#000005,#000005,#000004,#000004,#000004,#000003,#000003,#000004,#000004,#000004,#000005,#000005,#000012,#000028,#000046,#000051,#00005b,#000065,#00009f,#0000e2,#3300ff,#5600ff,#5900ff,#5900ff,#5900ff,#5b00ff)"></i>
<i style="background:linear-gradient(90deg,#6a00ff,#6900ff,#6900ff,#6c00ff,#6400ff,#3600ff,#0000e3,#0000a0,#000065,#00005c,#000052,#000049,#00002e,#000016,#000006,#000005,#000005,#000004,#000004,#000004,#000004,#000004,#000005,#000005,#000005,#000006,#000013,#000029,#000047,#000051,#00005c,#000066,#0000a1,#0000e4,#3500ff,#5500ff,#5900ff,#5900ff,#5900ff,#5b00ff)"></i>
<i style="background:linear-gradient(90deg,#6b00ff,#6a00ff,#6b00ff,#6d00ff,#6600ff,#3800ff,#0000e5,#0000a1,#000066,#00005c,#000053,#000049,#00002f,#000017,#000006,#000005,#000005,#000005,#000005,#000005,#000005,#000005,#000005,#000005,#000006,#000006,#000014,#00002b,#000048,#000052,#00005c,#000066,#0000a3,#0000e6,#3700ff,#5500ff,#5800ff,#5800ff,#5900ff,#5b00ff)"></i>
<i style="background:linear-gradient(90deg,#6d00ff,#6b00ff,#6c00ff,#6f00ff,#6700ff,#3a00ff,#0000e7,#0000a3,#000066,#00005c,#000053,#00004a,#000031,#000018,#000006,#000006,#000006,#000006,#000006,#000006,#000006,#000006,#000006,#000006,#000006,#000006,#000015,#00002c,#000048,#000052,#00005c,#000068,#0000a4,#0000e8,#3a00ff,#5500ff,#5800ff,#5800ff,#5800ff,#5b00ff)"></i>
<i style="background:linear-gradient(90deg,#6e00ff,#6c00ff,#6d00ff,#7100ff,#6800ff,#3c00ff,#0000e8,#0000a4,#000068,#00005d,#000053,#00004a,#000032,#000019,#000008,#000006,#000006,#000006,#000007,#000007,#000007,#000007,#000007,#000007,#000007,#000007,#000017,#00002e,#000049,#000053,#00005d,#00006a,#0000a6,#0000eb,#3b00ff,#5500ff,#5800ff,#5800ff,#5800ff,#5a00ff)"></i>
<i style="background:linear-gradient(90deg,#6f00ff,#6e00ff,#6e00ff,#7200ff,#6900ff,#3d00ff,#0000ea,#0000a6,#00006a,#00005d,#000054,#00004b,#000034,#00001b,#000009,#000007,#000007,#000007,#000008,#000008,#000008,#000008,#000008,#000008,#000007,#000007,#000018,#00002f,#000049,#000053,#00005d,#00006c,#0000a8,#0000ed,#3c00ff,#5400ff,#5800ff,#5700ff,#5800ff,#5a00ff)"></i>
<i style="background:linear-gradient(90deg,#7000ff,#6f00ff,#7000ff,#7400ff,#6b00ff,#3f00ff,#0000ed,#0000a8,#00006c,#00005e,#000054,#00004b,#000036,#00001c,#00000b,#000007,#000008,#000008,#000009,#000009,#000009,#000009,#000009,#000009,#000008,#000009,#000019,#000031,#00004a,#000053,#00005d,#00006e,#0000aa,#0000ef,#3d00ff,#5400ff,#5800ff,#5700ff,#5800ff,#5a00ff)"></i>
<i style="background:linear-gradient(90deg,#7200ff,#7000ff,#7100ff,#7600ff,#6c00ff,#4100ff,#0000ef,#0000aa,#00006e,#00005e,#000055,#00004c,#000038,#00001d,#00000d,#000008,#000009,#00000a,#00000b,#00000b,#00000b,#00000b,#00000a,#00000a,#000009,#00000b,#00001b,#000033,#00004b,#000054,#00005e,#000070,#0000ac,#0000f2,#3e00ff,#5400ff,#5800ff,#5700ff,#5800ff,#5a00ff)"></i>
<i style="background:linear-gradient(90deg,#7300ff,#7200ff,#7200ff,#7700ff,#6e00ff,#4300ff,#0000f2,#0000ad,#000071,#00005f,#000055,#00004c,#00003a,#00001f,#00000f,#000009,#00000a,#00000b,#00000c,#00000d,#00000d,#00000d,#00000c,#00000b,#00000a,#00000d,#00001d,#000035,#00004b,#000054,#00005e,#000072,#0000ae,#0000f4,#3f00ff,#5400ff,#5700ff,#5700ff,#5800ff,#5a00ff)"></i>
<i style="background:linear-gradient(90deg,#7500ff,#7300ff,#7300ff,#7900ff,#6f00ff,#4500ff,#0000f4,#0000af,#000074,#00005f,#000056,#00004d,#00003c,#000021,#000011,#00000a,#00000b,#00000d,#00000f,#000010,#000010,#00000f,#00000e,#00000d,#00000b,#00000f,#00001f,#000038,#00004c,#000055,#00005e,#000074,#0000b0,#0000f6,#4000ff,#5400ff,#5700ff,#5700ff,#5800ff,#5a00ff)"></i>
<i style="background:linear-gradient(90deg,#7600ff,#7500ff,#7500ff,#7b00ff,#7100ff,#4800ff,#0000f8,#0000b2,#000077,#000060,#000057,#00004e,#00003e,#000023,#000013,#00000b,#00000d,#00000f,#000011,#000013,#000013,#000012,#000011,#00000f,#00000d,#000012,#000021,#00003a,#00004d,#000055,#00005f,#000075,#0000b2,#0000f9,#4100ff,#5400ff,#5700ff,#5700ff,#5800ff,#5a00ff)"></i>
<i style="background:linear-gradient(90deg,#7700ff,#7600ff,#7600ff,#7d00ff,#7200ff,#4b00ff,#0000fb,#0000b5,#00007a,#000060,#000057,#00004f,#000040,#000026,#000016,#00000c,#00000f,#000012,#000014,#000016,#000017,#000016,#000014,#000011,#00000e,#000015,#000023,#00003d,#00004d,#000056,#00005f,#000077,#0000b4,#0000fb,#4200ff,#5400ff,#5700ff,#5600ff,#5800ff,#5a00ff)"></i>
<i style="background:linear-gradient(90deg,#7900ff,#7800ff,#7700ff,#7e00ff,#7400ff,#4e00ff,#0000fe,#0000b8,#00007d,#000061,#000058,#00004f,#000043,#000029,#000018,#00000e,#000011,#000015,#000018,#00001b,#00001b,#00001a,#000017,#000014,#000010,#000017,#000026,#00003f,#00004e,#000057,#000060,#000079,#0000b6,#0000fe,#4300ff,#5400ff,#5700ff,#5600ff,#5700ff,#5a00ff)"></i>
<i style="background:linear-gradient(90deg,#7a00ff,#7900ff,#7900ff,#8000ff,#7600ff,#5100ff,#0200ff,#0000bb,#000080,#000061,#000059,#000050,#000045,#00002c,#00001b,#000010,#000014,#000018,#00001d,#000020,#000021,#00001f,#00001b,#000017,#000012,#00001b,#000029,#000042,#00004f,#000057,#000060,#00007b,#0000b8,#0100ff,#4400ff,#5400ff,#5700ff,#5600ff,#5700ff,#5a00ff)"></i>
<i style="background:linear-gradient(90deg,#7c00ff,#7b00ff,#7a00ff,#8200ff,#7800ff,#5400ff,#0700ff,#0000bf,#000084,#000062,#000059,#000051,#000048,#000030,#00001e,#000013,#000017,#00001d,#000022,#000026,#000028,#000025,#000020,#00001a,#000015,#00001e,#00002d,#000045,#000050,#000058,#000061,#00007d,#0000ba,#0300ff,#4500ff,#5400ff,#5700ff,#5600ff,#5700ff,#5a00ff)"></i>
<i style="background:linear-gradient(90deg,#7d00ff,#7d00ff,#7b00ff,#8400ff,#7a00ff,#5800ff,#0c00ff,#0000c3,#000088,#000063,#00005a,#000052,#00004b,#000033,#000021,#000018,#00001a,#000022,#000029,#00002e,#000030,#00002d,#000026,#00001f,#000019,#000022,#000031,#000048,#000051,#000058,#000061,#00007f,#0000bd,#0600ff,#4600ff,#5400ff,#5800ff,#5600ff,#5700ff,#5a00ff)"></i>
<i style="background:linear-gradient(90deg,#7f00ff,#7e00ff,#7d00ff,#8600ff,#7c00ff,#5c00ff,#1000ff,#0000c7,#00008b,#000063,#00005b,#000053,#00004c,#000036,#000025,#00001c,#00001e,#000027,#000031,#000038,#00003a,#000036,#00002d,#000024,#00001f,#000025,#000035,#00004b,#000052,#000059,#000061,#000081,#0000bf,#0900ff,#4700ff,#5400ff,#5800ff,#5600ff,#5700ff,#5a00ff)"></i>
<i style="background:linear-gradient(90deg,#8000ff,#8000ff,#7e00ff,#8800ff,#7e00ff,#6000ff,#1500ff,#0000cc,#00008f,#000064,#00005c,#000054,#00004d,#00003a,#000028,#000021,#000023,#00002e,#00003a,#000043,#000045,#000040,#000036,#00002a,#000024,#00002a,#000039,#00004e,#000053,#00005a,#000062,#000084,#0000c2,#0c00ff,#4700ff,#5500ff,#5800ff,#5600ff,#5700ff,#5a00ff)"></i>
<i style="background:linear-gradient(90deg,#8200ff,#8200ff,#8000ff,#8a01fe,#8000ff,#6400ff,#1b00ff,#0000d0,#000093,#000065,#00005c,#000055,#00004e,#00003e,#00002c,#000026,#000028,#000036,#000045,#000050,#000053,#00004d,#000040,#000030,#00002b,#00002e,#00003d,#00004f,#000054,#00005b,#000063,#000086,#0000c4,#0f00ff,#4800ff,#5500ff,#5800ff,#5600ff,#5700ff,#5a00ff)"></i>
<i style="background:linear-gradient(90deg,#8300ff,#8300ff,#8100ff,#8c03fc,#8200ff,#6800ff,#2000ff,#0000d5,#000097,#000065,#00005d,#000056,#000050,#000042,#000030,#00002c,#00002e,#000040,#000052,#000060,#000064,#00005c,#00004b,#000038,#000032,#000033,#000041,#000051,#000055,#00005b,#000063,#000089,#0000c7,#1200ff,#4900ff,#5500ff,#5800ff,#5600ff,#5700ff,#5a00ff)"></i>
<i style="background:linear-gradient(90deg,#8500ff,#8500ff,#8200ff,#8d04fb,#8400ff,#6d00ff,#2600ff,#0000da,#00009b,#000066,#00005e,#000057,#000051,#000046,#000036,#000032,#000037,#00004a,#000061,#000072,#000077,#00006d,#000058,#000042,#000039,#000038,#000046,#000052,#000056,#00005c,#000064,#00008c,#0000ca,#1600ff,#4a00ff,#5500ff,#5800ff,#5600ff,#5700ff,#5a00ff)"></i>
<i style="background:linear-gradient(90deg,#8700ff,#8700ff,#8400ff,#8f05fa,#8600ff,#7100ff,#2c00ff,#0000df,#0000a0,#000068,#00005f,#000058,#000053,#00004a,#00003b,#000038,#000040,#000055,#000071,#000087,#00008d,#000080,#000067,#00004e,#000041,#00003f,#00004b,#000054,#000058,#00005d,#000064,#00008f,#0000cd,#1900ff,#4b00ff,#5500ff,#5800ff,#5600ff,#5700ff,#5a00ff)"></i>
<i style="background:linear-gradient(90deg,#8800ff,#8901fe,#8500ff,#9106f9,#8901fe,#7600ff,#3200ff,#0000e4,#0000a4,#00006c,#000060,#000059,#000054,#00004e,#000041,#00003e,#00004a,#000062,#000084,#00009f,#0000a6,#000096,#000076,#00005b,#000049,#000045,#00004f,#000056,#000059,#00005e,#000065,#000092,#0000d1,#1d00ff,#4c00ff,#5600ff,#5800ff,#5500ff,#5700ff,#5a00ff)"></i>
<i style="background:linear-gradient(90deg,#8a01fe,#8a02fd,#8600ff,#9308f7,#8b02fd,#7a00ff,#3800ff,#0000e9,#0000a8,#000071,#000061,#00005a,#000055,#000052,#000046,#000045,#000055,#000070,#000098,#0000bc,#0000c6,#0000b0,#000088,#000068,#000052,#00004c,#000054,#000057,#00005a,#00005f,#000066,#000095,#0000d4,#2000ff,#4d00ff,#5600ff,#5800ff,#5500ff,#5700ff,#5a00ff)"></i>
<i style="background:linear-gradient(90deg,#8b02fd,#8c03fc,#8800ff,#9509f6,#8d04fb,#7c00ff,#3e00ff,#0000ef,#0000ad,#000075,#000061,#00005b,#000057,#000056,#00004c,#00004b,#00005f,#000081,#0000b1,#0000e4,#0000f4,#0000d1,#00009e,#000076,#00005a,#000053,#000059,#000059,#00005b,#000060,#000066,#000099,#0000d8,#2400ff,#4f00ff,#5600ff,#5800ff,#5500ff,#5600ff,#5a00ff)"></i>
<i style="background:linear-gradient(90deg,#8d03fc,#8e04fb,#8901fe,#970af5,#9005fa,#7e00ff,#4400ff,#0000f4,#0000b1,#00007a,#000062,#00005c,#000058,#000058,#000051,#000053,#000069,#000092,#0000d0,#1900ff,#2e00ff,#0100ff,#0000b7,#000084,#000063,#000059,#00005d,#00005b,#00005d,#000061,#000067,#00009d,#0000dc,#2800ff,#5000ff,#5700ff,#5900ff,#5500ff,#5600ff,#5a00ff)"></i>
<i style="background:linear-gradient(90deg,#8e04fb,#9005fa,#8a02fd,#990bf4,#9207f8,#8100ff,#4900ff,#0000fa,#0000b6,#00007e,#000063,#00005d,#000059,#000059,#000057,#00005b,#000073,#0000a4,#0000f9,#5c00ff,#8200ff,#3700ff,#0000d4,#000091,#00006c,#000060,#000060,#00005c,#00005e,#000062,#00006b,#0000a1,#0000e0,#2d00ff,#5100ff,#5700ff,#5900ff,#5500ff,#5600ff,#5a00ff)"></i>
<i style="background:linear-gradient(90deg,#9005fa,#9206f9,#8b03fc,#9b0cf3,#9509f6,#8300ff,#4f00ff,#0100ff,#0000bb,#000083,#000064,#00005e,#00005a,#00005b,#00005c,#000062,#00007c,#0000b5,#2300ff,#ba21de,#f747b8,#7d00ff,#0000f4,#00009e,#000075,#000066,#000062,#00005e,#00005f,#000063,#000071,#0000a5,#0000e4,#3100ff,#5200ff,#5800ff,#5900ff,#5500ff,#5600ff,#5a00ff)"></i>
<i style="background:linear-gradient(90deg,#9106f9,#9308f7,#8d03fc,#9d0df2,#980af5,#8500ff,#5500ff,#0500ff,#0000c1,#000088,#000065,#00005f,#00005b,#00005d,#000061,#000068,#000084,#0000c6,#4d00ff,#ff6699,#ff9e61,#cd2cd3,#1100ff,#0000a9,#00007d,#00006c,#000064,#000060,#000060,#000064,#000076,#0000aa,#0000e9,#3600ff,#5200ff,#5800ff,#5900ff,#5500ff,#5600ff,#5a00ff)"></i>
<i style="background:linear-gradient(90deg,#9307f8,#9509f6,#8e04fb,#9e0ff0,#9a0cf3,#8800ff,#5b00ff,#0c00ff,#0000c6,#00008c,#000065,#000060,#00005c,#00005e,#000066,#00006e,#00008b,#0000d3,#7300ff,#ffa45b,#ffee11,#ff5aa5,#2700ff,#0000b2,#000084,#000071,#000066,#000061,#000062,#000065,#00007c,#0000af,#0000ee,#3b00ff,#5300ff,#5900ff,#5900ff,#5400ff,#5600ff,#5a00ff)"></i>
<i style="background:linear-gradient(90deg,#9408f7,#960af5,#8f05fa,#a010ef,#9d0ef1,#8a02fd,#6100ff,#1300ff,#0000cc,#000091,#000066,#000060,#00005d,#00005f,#000069,#000073,#000092,#0000dc,#8901fe,#ffc936,#ffffb5,#ff758a,#3500ff,#0000ba,#000089,#000075,#000067,#000062,#000063,#000066,#000082,#0000b4,#0000f3,#3d00ff,#5400ff,#5a00ff,#5900ff,#5400ff,#5600ff,#5a00ff)"></i>
<i style="background:linear-gradient(90deg,#9609f6,#980bf4,#9106f9,#a211ee,#a010ef,#8d03fc,#6800ff,#1a00ff,#0000d2,#000095,#000067,#000061,#00005e,#000060,#00006a,#000077,#000096,#0000de,#8901fe,#ffc639,#ffff9e,#ff748b,#3600ff,#0000be,#00008d,#000078,#000068,#000063,#000064,#000067,#000088,#0000ba,#0000f9,#3f00ff,#5500ff,#5b00ff,#5900ff,#5400ff,#5500ff,#5b00ff)"></i>
<i style="background:linear-gradient(90deg,#970af5,#990bf4,#9207f8,#a312ed,#a211ee,#9005fa,#6e00ff,#2100ff,#0000d7,#00009a,#000068,#000062,#00005f,#000061,#00006b,#00007a,#000098,#0000dc,#7400ff,#ff9e61,#ffe51a,#ff57a8,#2c00ff,#0000bf,#000090,#000078,#000069,#000064,#000065,#000068,#00008f,#0000c0,#0000ff,#4100ff,#5500ff,#5b00ff,#5a00ff,#5400ff,#5500ff,#5b00ff)"></i>
<i style="background:linear-gradient(90deg,#990bf4,#9b0cf3,#9308f7,#a513ec,#a513ec,#9307f8,#7500ff,#2800ff,#0000dd,#00009f,#000069,#000063,#000060,#000062,#00006b,#00007d,#000099,#0000d5,#5200ff,#ff609f,#ff956a,#c92ad5,#1a00ff,#0000bd,#000092,#000078,#00006a,#000065,#000066,#00006a,#000096,#0000c7,#0600ff,#4400ff,#5600ff,#5c00ff,#5a00ff,#5400ff,#5500ff,#5b00ff)"></i>
<i style="background:linear-gradient(90deg,#9a0cf3,#9c0df2,#9508f7,#a714eb,#a815ea,#9609f6,#7b00ff,#2f00ff,#0000e3,#0000a4,#00006e,#000064,#000061,#000062,#00006b,#00007f,#000098,#0000cc,#2d00ff,#b81fe0,#ef42bd,#8100ff,#0600ff,#0000b8,#000092,#000078,#00006a,#000066,#000067,#000072,#00009c,#0000ce,#0d00ff,#4600ff,#5800ff,#5d00ff,#5a00ff,#5300ff,#5500ff,#5b00ff)"></i>
<i style="background:linear-gradient(90deg,#9c0df2,#9d0ef1,#9609f6,#a815ea,#ab17e8,#990bf4,#8200ff,#3700ff,#0000ea,#0000a9,#000073,#000064,#000061,#000063,#00006b,#00007d,#000096,#0000c2,#0e00ff,#6500ff,#8700ff,#4400ff,#0000ef,#0000b3,#000091,#000077,#00006a,#000067,#000068,#000079,#0000a3,#0000d6,#1500ff,#4900ff,#5900ff,#5e00ff,#5a00ff,#5300ff,#5500ff,#5b00ff)"></i>
<i style="background:linear-gradient(90deg,#9d0ef1,#9f0ff0,#970af5,#a916e9,#ae19e6,#9c0df2,#8901fe,#3e00ff,#0000f0,#0000ae,#000078,#000065,#000062,#000063,#00006a,#00007a,#000094,#0000b9,#0000f1,#2a00ff,#3e00ff,#1700ff,#0000db,#0000ad,#00008c,#000075,#00006a,#000068,#000069,#000080,#0000aa,#0000de,#1d00ff,#4c00ff,#5a00ff,#5f00ff,#5a00ff,#5300ff,#5500ff,#5b00ff)"></i>
<i style="background:linear-gradient(90deg,#9f0ff0,#a010ef,#990bf4,#ab17e8,#b11be4,#9f0ff0,#8c03fc,#4600ff,#0000f6,#0000b3,#00007e,#000066,#000063,#000063,#000069,#000078,#000091,#0000af,#0000d9,#0400ff,#1000ff,#0000f7,#0000cb,#0000a7,#000088,#000073,#00006a,#000068,#00006a,#000088,#0000b1,#0000e5,#2600ff,#4f00ff,#5c00ff,#6000ff,#5a00ff,#5300ff,#5500ff,#5b00ff)"></i>
<i style="background:linear-gradient(90deg,#a010ef,#a211ee,#9a0cf3,#ac17e8,#b41ce3,#a311ee,#8f05fa,#4d00ff,#0000fd,#0000b9,#000083,#000066,#000063,#000063,#000069,#000075,#00008c,#0000a7,#0000c7,#0000e5,#0000ee,#0000dc,#0000bd,#00009f,#000083,#000072,#00006a,#000069,#00006b,#00008f,#0000b9,#0000ed,#2f00ff,#5300ff,#5e00ff,#6100ff,#5900ff,#5200ff,#5600ff,#5c00ff)"></i>
<i style="background:linear-gradient(90deg,#a211ee,#a311ee,#9c0df2,#ad18e7,#b71ee1,#a614eb,#9207f8,#5400ff,#0400ff,#0000bf,#000089,#000067,#000064,#000063,#000068,#000072,#000085,#00009f,#0000b8,#0000ce,#0000d4,#0000c8,#0000b1,#000096,#00007f,#000070,#00006a,#000069,#000070,#000097,#0000c1,#0000f6,#3700ff,#5700ff,#6000ff,#6200ff,#5900ff,#5200ff,#5600ff,#5c00ff)"></i>
<i style="background:linear-gradient(90deg,#a312ed,#a412ed,#9d0ef1,#ae19e6,#ba20df,#aa16e9,#9508f7,#5c00ff,#0a00ff,#0000c6,#00008f,#000068,#000064,#000064,#000067,#000070,#000080,#000096,#0000ab,#0000bc,#0000c1,#0000b8,#0000a6,#00008e,#00007a,#00006e,#000069,#000069,#000077,#00009e,#0000ca,#0000fe,#3e00ff,#5a00ff,#6200ff,#6300ff,#5900ff,#5200ff,#5600ff,#5c00ff)"></i>
<i style="background:linear-gradient(90deg,#a513ec,#a513ec,#9e0ff0,#af19e6,#bd22dd,#ae19e6,#980bf4,#6400ff,#1100ff,#0000cc,#000095,#000069,#000065,#000064,#000066,#00006d,#00007a,#00008c,#0000a0,#0000ad,#0000b1,#0000ab,#00009a,#000086,#000076,#00006c,#000069,#00006a,#00007e,#0000a6,#0000d2,#0800ff,#4300ff,#5c00ff,#6400ff,#6400ff,#5900ff,#5200ff,#5600ff,#5d00ff)"></i>
<i style="background:linear-gradient(90deg,#a614eb,#a714eb,#a010ef,#af1ae5,#c024db,#b21be4,#9b0df2,#6c00ff,#1a00ff,#0000d3,#00009b,#00006c,#000065,#000064,#000066,#00006b,#000075,#000084,#000094,#0000a0,#0000a4,#00009d,#00008f,#00007f,#000072,#00006b,#000069,#00006a,#000085,#0000ad,#0000db,#1200ff,#4800ff,#5e00ff,#6600ff,#6500ff,#5800ff,#5100ff,#5700ff,#5d00ff)"></i>
<i style="background:linear-gradient(90deg,#a815ea,#a815ea,#a111ee,#b01ae5,#c326d9,#b61ee1,#9f0ff0,#7500ff,#2200ff,#0000db,#0000a1,#000073,#000066,#000064,#000065,#000069,#000071,#00007d,#000089,#000093,#000096,#000090,#000085,#000079,#00006f,#00006a,#000069,#00006b,#00008c,#0000b4,#0000e4,#1d00ff,#4d00ff,#6100ff,#6900ff,#6500ff,#5800ff,#5100ff,#5700ff,#5e00ff)"></i>
<i style="background:linear-gradient(90deg,#a915ea,#a916e9,#a312ed,#b11ae5,#c628d7,#ba20df,#a311ee,#7d00ff,#2a00ff,#0000e2,#0000a8,#00007a,#000067,#000065,#000065,#000068,#00006e,#000077,#000080,#000088,#00008a,#000086,#00007e,#000074,#00006d,#000069,#000068,#00006b,#000093,#0000bc,#0000ed,#2700ff,#5200ff,#6400ff,#6b00ff,#6600ff,#5700ff,#5100ff,#5700ff,#5e00ff)"></i>
<i style="background:linear-gradient(90deg,#aa16e9,#aa16e9,#a413ec,#b11be4,#c82ad5,#be23dc,#a714eb,#8600ff,#3300ff,#0000ea,#0000af,#000081,#000067,#000065,#000065,#000067,#00006b,#000072,#000079,#00007f,#000080,#00007d,#000077,#000070,#00006b,#000068,#000069,#000070,#00009a,#0000c5,#0000f6,#3200ff,#5800ff,#6700ff,#6d00ff,#6600ff,#5700ff,#5100ff,#5800ff,#5f00ff)"></i>
<i style="background:linear-gradient(90deg,#ac17e8,#ac17e8,#a614eb,#b11be4,#cb2bd4,#c226d9,#ab17e8,#8f05fa,#3c00ff,#0000f2,#0000b5,#000089,#000068,#000066,#000065,#000066,#000069,#00006e,#000073,#000078,#000079,#000077,#000072,#00006d,#000069,#000067,#000069,#000077,#0000a1,#0000cd,#0000ff,#3d00ff,#5e00ff,#6b00ff,#7000ff,#6600ff,#5600ff,#5200ff,#5900ff,#5f00ff)"></i>
<i style="background:linear-gradient(90deg,#ad18e7,#ad18e7,#a815ea,#b21be4,#ce2dd2,#c628d7,#af19e6,#980bf4,#4500ff,#0000fa,#0000bd,#000090,#00006b,#000066,#000065,#000065,#000067,#00006a,#00006f,#000072,#000073,#000071,#00006e,#00006a,#000068,#000067,#000069,#00007e,#0000a7,#0000d6,#0a00ff,#4400ff,#6500ff,#6f00ff,#7200ff,#6500ff,#5600ff,#5200ff,#5900ff,#6000ff)"></i>
<i style="background:linear-gradient(90deg,#af19e6,#ae19e6,#a916e9,#b21be4,#d02fd0,#cb2bd4,#b41ce3,#9d0ef1,#4f00ff,#0300ff,#0000c5,#000098,#000073,#000067,#000065,#000065,#000066,#000068,#00006b,#00006e,#00006e,#00006d,#00006b,#000068,#000067,#000067,#000069,#000084,#0000ae,#0000df,#1500ff,#4a00ff,#6800ff,#7300ff,#7400ff,#6500ff,#5500ff,#5300ff,#5a00ff,#6100ff)"></i>
<i style="background:linear-gradient(90deg,#b01ae5,#af19e6,#ab17e8,#b21be4,#d330cf,#cf2ed1,#b81fe0,#a010ef,#5a00ff,#0a00ff,#0000ce,#0000a0,#00007b,#000068,#000065,#000065,#000065,#000066,#000069,#00006a,#00006b,#00006a,#000069,#000067,#000066,#000067,#00006a,#00008b,#0000b5,#0000e7,#2000ff,#5200ff,#6c00ff,#7700ff,#7500ff,#6400ff,#5500ff,#5400ff,#5b00ff,#6100ff)"></i>
<i style="background:linear-gradient(90deg,#b21be4,#b01ae5,#ad18e7,#b21be4,#d532cd,#d330cf,#bd22dd,#a412ed,#6400ff,#1500ff,#0000d7,#0000a8,#000083,#000068,#000066,#000065,#000064,#000065,#000067,#000068,#000068,#000068,#000067,#000066,#000066,#000067,#00006b,#000092,#0000bd,#0000f0,#2b00ff,#5900ff,#7100ff,#7a00ff,#7600ff,#6300ff,#5400ff,#5400ff,#5c00ff,#6200ff)"></i>
<i style="background:linear-gradient(90deg,#b31ce3,#b21be4,#ae19e6,#b21be4,#d733cc,#d733cc,#c226d9,#a815ea,#6f00ff,#1f00ff,#0000e1,#0000b0,#00008c,#00006d,#000067,#000065,#000064,#000064,#000065,#000066,#000067,#000066,#000066,#000066,#000066,#000068,#000073,#00009a,#0000c6,#0000f9,#3700ff,#6200ff,#7600ff,#7e00ff,#7700ff,#6200ff,#5400ff,#5500ff,#5c00ff,#6300ff)"></i>
<i style="background:linear-gradient(90deg,#b51de2,#b31ce3,#b01ae5,#b21be4,#d834cb,#dc36c9,#c729d6,#ad18e7,#7b00ff,#2a00ff,#0000eb,#0000b8,#000094,#000076,#000067,#000065,#000064,#000064,#000065,#000065,#000066,#000065,#000065,#000065,#000066,#000068,#00007a,#0000a1,#0000ce,#0300ff,#4100ff,#6a00ff,#7b00ff,#8200ff,#7600ff,#6000ff,#5300ff,#5600ff,#5e00ff,#6400ff)"></i>
<i style="background:linear-gradient(90deg,#b61ee1,#b41de2,#b21be4,#b21be4,#d934cb,#e039c6,#cd2cd3,#b21be4,#8600ff,#3500ff,#0000f5,#0000c2,#00009d,#00007f,#000068,#000066,#000064,#000064,#000064,#000065,#000065,#000065,#000065,#000066,#000067,#000069,#000082,#0000a8,#0000d7,#0e00ff,#4900ff,#7200ff,#8100ff,#8500ff,#7600ff,#5f00ff,#5300ff,#5800ff,#5f00ff,#6500ff)"></i>
<i style="background:linear-gradient(90deg,#b71fe0,#b51de2,#b31ce3,#b21be4,#d934cb,#e43bc4,#d230cf,#b61ee1,#9207f8,#4100ff,#0000ff,#0000cc,#0000a6,#000087,#00006d,#000067,#000065,#000064,#000064,#000065,#000065,#000065,#000065,#000066,#000067,#00006c,#00008a,#0000b0,#0000e0,#1a00ff,#5200ff,#7700ff,#8600ff,#8700ff,#7400ff,#5e00ff,#5300ff,#5900ff,#6000ff,#6700ff)"></i>
<i style="background:linear-gradient(90deg,#b920df,#b61ee1,#b41ce3,#b21be4,#d934cb,#e83ec1,#d733cc,#bc21de,#9e0ef1,#4c00ff,#0900ff,#0000d6,#0000ae,#000090,#000076,#000067,#000066,#000065,#000065,#000065,#000065,#000065,#000065,#000066,#000068,#000075,#000092,#0000b8,#0000ea,#2600ff,#5c00ff,#7e00ff,#8c03fc,#8901fe,#7300ff,#5c00ff,#5400ff,#5a00ff,#6100ff,#6a00ff)"></i>
<i style="background:linear-gradient(90deg,#ba21de,#b81fe0,#b41de2,#b21be4,#d833cc,#eb40bf,#dd37c8,#c125da,#a815ea,#5a00ff,#1500ff,#0000e1,#0000b8,#000099,#00007f,#000069,#000066,#000065,#000065,#000065,#000065,#000065,#000066,#000067,#000069,#00007e,#00009b,#0000c1,#0000f4,#3300ff,#6700ff,#8400ff,#9106f9,#8901fe,#7100ff,#5b00ff,#5500ff,#5b00ff,#6200ff,#6d00ff)"></i>
<i style="background:linear-gradient(90deg,#bc21de,#b920df,#b51de2,#b21be4,#d633cc,#ef42bd,#e23ac5,#c729d6,#ac18e7,#6800ff,#2100ff,#0000ec,#0000c2,#0000a2,#000088,#000072,#000067,#000066,#000066,#000066,#000066,#000066,#000067,#000068,#000072,#000087,#0000a3,#0000cb,#0000ff,#4000ff,#7200ff,#8b03fc,#9509f6,#8901fe,#6e00ff,#5a00ff,#5600ff,#5d00ff,#6400ff,#7000ff)"></i>
<i style="background:linear-gradient(90deg,#bd22dd,#ba20df,#b61ee1,#b21be4,#d531ce,#f244bb,#e83ec1,#cd2dd2,#b11be4,#7600ff,#2e00ff,#0000f8,#0000cd,#0000ac,#000091,#00007b,#000069,#000067,#000067,#000067,#000067,#000067,#000068,#00006c,#00007b,#000090,#0000ac,#0000d5,#0a00ff,#4d00ff,#7d00ff,#9307f8,#990bf4,#8800ff,#6c00ff,#5900ff,#5800ff,#5e00ff,#6500ff,#7300ff)"></i>
<i style="background:linear-gradient(90deg,#bf23dc,#bb21de,#b71ee1,#b31ce3,#d230cf,#f546b9,#ed41be,#d331ce,#b71ee1,#8500ff,#3c00ff,#0400ff,#0000d8,#0000b5,#00009b,#000084,#000073,#000068,#000068,#000068,#000068,#000068,#00006b,#000076,#000084,#000099,#0000b5,#0000e0,#1800ff,#5900ff,#8800ff,#9a0cf3,#9c0df2,#8600ff,#6900ff,#5800ff,#5900ff,#6000ff,#6700ff,#7600ff)"></i>
<i style="background:linear-gradient(90deg,#c024db,#bd22dd,#b81fe0,#b31ce3,#d02ed1,#f848b7,#f345ba,#da35ca,#bc22dd,#9307f8,#4a00ff,#0f00ff,#0000e4,#0000bf,#0000a4,#00008e,#00007c,#000072,#00006f,#00006e,#00006d,#00006d,#000074,#00007f,#00008e,#0000a2,#0000bf,#0000ec,#2700ff,#6600ff,#9106f9,#a211ee,#9d0ef1,#8300ff,#6700ff,#5800ff,#5b00ff,#6200ff,#6800ff,#7a00ff)"></i>
<i style="background:linear-gradient(90deg,#c225da,#be23dc,#b920df,#b41ce3,#cd2dd2,#fa49b6,#f848b7,#e139c6,#c326d9,#a211ee,#5900ff,#1d00ff,#0000ef,#0000ca,#0000ad,#000097,#000086,#00007c,#000079,#000078,#000076,#000077,#00007e,#000089,#000098,#0000ac,#0000ca,#0000f9,#3700ff,#7400ff,#9a0cf3,#a815ea,#9d0ef1,#7f00ff,#6400ff,#5800ff,#5d00ff,#6400ff,#6a00ff,#7e00ff)"></i>
<i style="background:linear-gradient(90deg,#c326d9,#bf24db,#ba20df,#b51de2,#cb2bd4,#fb4ab5,#fd4bb4,#e73dc2,#c92ad5,#af19e6,#6900ff,#2b00ff,#0000fc,#0000d6,#0000b7,#0000a1,#000090,#000086,#000083,#000081,#000080,#000081,#000088,#000093,#0000a1,#0000b5,#0000d6,#0700ff,#4800ff,#8300ff,#a412ed,#ad18e7,#9b0df2,#7b00ff,#6200ff,#5900ff,#5f00ff,#6500ff,#6c00ff,#8300ff)"></i>
<i style="background:linear-gradient(90deg,#c527d8,#c125da,#bb21de,#b61de2,#c829d6,#fa49b6,#ff4eb1,#ee42bd,#d02fd0,#b41de2,#7a00ff,#3a00ff,#0800ff,#0000e2,#0000c2,#0000aa,#000099,#000090,#00008d,#00008b,#00008a,#00008b,#000091,#00009d,#0000ab,#0000c0,#0000e3,#1500ff,#5b00ff,#9207f8,#ad18e7,#b01ae5,#980bf4,#7700ff,#6100ff,#5b00ff,#6000ff,#6700ff,#6f00ff,#8700ff)"></i>
<i style="background:linear-gradient(90deg,#c92ad5,#c225da,#bc22dd,#b71ee1,#c527d8,#f948b7,#ff51ae,#f546b9,#d833cc,#bb21de,#8b02fd,#4a00ff,#1600ff,#0000ee,#0000cd,#0000b4,#0000a3,#00009a,#000097,#000095,#000094,#000095,#00009b,#0000a7,#0000b5,#0000cc,#0000f1,#2600ff,#6b00ff,#a010ef,#b51de2,#b11be4,#9408f7,#7300ff,#5f00ff,#5d00ff,#6200ff,#6900ff,#7300ff,#8c03fc)"></i>
<i style="background:linear-gradient(90deg,#cc2cd3,#c326d9,#bd22dd,#b81fe0,#c226d9,#f647b8,#ff53ac,#fc4ab5,#df38c7,#c225da,#9c0df2,#5b00ff,#2500ff,#0000fb,#0000d9,#0000bf,#0000ad,#0000a4,#0000a1,#00009f,#00009e,#00009f,#0000a5,#0000b0,#0000c0,#0000d9,#0100ff,#3900ff,#7d00ff,#ad18e7,#bc22dd,#b11ae5,#9005fa,#7000ff,#5e00ff,#5e00ff,#6400ff,#6b00ff,#7800ff,#9106f9)"></i>
<i style="background:linear-gradient(90deg,#d02fd0,#c527d8,#be23dc,#b920df,#c024db,#f244bb,#ff55aa,#ff4eb1,#e73dc2,#c92ad5,#ad18e7,#6d00ff,#3500ff,#0700ff,#0000e5,#0000ca,#0000b7,#0000ae,#0000ab,#0000a9,#0000a8,#0000a9,#0000af,#0000bb,#0000cc,#0000e7,#0f00ff,#4e00ff,#8f05fa,#b81fe0,#c125da,#ae19e6,#8a02fd,#6d00ff,#5e00ff,#6000ff,#6600ff,#6d00ff,#7e00ff,#960af5)"></i>
<i style="background:linear-gradient(90deg,#d531ce,#c628d7,#c024db,#b920df,#be23dc,#ed41be,#ff57a8,#ff52ad,#ef43bc,#d230cf,#b71fe0,#8000ff,#4500ff,#1600ff,#0000f2,#0000d6,#0000c3,#0000b9,#0000b5,#0000b4,#0000b3,#0000b3,#0000ba,#0000c7,#0000d9,#0000f5,#2000ff,#6300ff,#a010ef,#c226d9,#c427d8,#aa16e9,#8500ff,#6a00ff,#5f00ff,#6200ff,#6800ff,#6f00ff,#8300ff,#9c0df2)"></i>
<i style="background:linear-gradient(90deg,#d934cb,#c829d6,#c125da,#ba20df,#bc22dd,#e83ec1,#ff58a7,#ff56a9,#f848b7,#db35ca,#bf24db,#9307f8,#5800ff,#2600ff,#0000ff,#0000e2,#0000cf,#0000c5,#0000c1,#0000bf,#0000be,#0000be,#0000c5,#0000d3,#0000e6,#0500ff,#3500ff,#7900ff,#b21be4,#cb2bd4,#c527d8,#a413ec,#7f00ff,#6700ff,#6000ff,#6400ff,#6a00ff,#7100ff,#8901fe,#a211ee)"></i>
<i style="background:linear-gradient(90deg,#de38c7,#c92ad5,#c226d9,#bb21de,#bb21de,#e23ac5,#ff58a7,#ff59a6,#ff4db2,#e43bc4,#c829d6,#a614eb,#6b00ff,#3700ff,#0d00ff,#0000ef,#0000db,#0000d1,#0000cd,#0000cb,#0000ca,#0000ca,#0000d1,#0000df,#0000f4,#1400ff,#4a00ff,#8d04fb,#c125da,#d230cf,#c326d9,#9e0ef1,#7a00ff,#6600ff,#6100ff,#6600ff,#6c00ff,#7300ff,#8e04fb,#a815ea)"></i>
<i style="background:linear-gradient(90deg,#e43bc4,#cb2bd4,#c326d9,#bc21de,#ba21de,#dc36c9,#ff57a8,#ff5ca3,#ff52ad,#ee41be,#d230cf,#ba20df,#8000ff,#4900ff,#1d00ff,#0000fd,#0000e8,#0000dd,#0000d9,#0000d7,#0000d6,#0000d7,#0000de,#0000ec,#0300ff,#2700ff,#6200ff,#a211ee,#ce2dd2,#d733cc,#bf23dc,#970af5,#7600ff,#6400ff,#6300ff,#6800ff,#6e00ff,#7700ff,#9408f7,#ae19e6)"></i>
<i style="background:linear-gradient(90deg,#e93fc0,#cc2cd3,#c527d8,#bd22dd,#ba20df,#d632cd,#ff55aa,#ff5fa0,#ff57a8,#f848b7,#dd37c8,#c427d8,#9609f6,#5e00ff,#2f00ff,#0b00ff,#0000f5,#0000eb,#0000e6,#0000e4,#0000e3,#0000e3,#0000ea,#0000fa,#1200ff,#3c00ff,#7900ff,#b61de2,#d934cb,#d834cb,#b920df,#9005fa,#7200ff,#6400ff,#6500ff,#6a00ff,#7000ff,#7d00ff,#9b0cf3,#b41de2)"></i>
<i style="background:linear-gradient(90deg,#ef42bd,#ce2dd2,#c628d7,#be23dc,#ba20df,#d02fd0,#ff51ae,#ff609f,#ff5ca3,#ff4eb1,#e83ec1,#d02ed1,#ad18e7,#7400ff,#4200ff,#1c00ff,#0400ff,#0000f8,#0000f4,#0000f2,#0000f0,#0000f1,#0000f7,#0800ff,#2500ff,#5300ff,#8f05fa,#c829d6,#e23ac5,#d733cc,#b11be4,#8901fe,#6f00ff,#6500ff,#6600ff,#6c00ff,#7200ff,#8400ff,#a110ef,#bb21de)"></i>
<i style="background:linear-gradient(90deg,#f646b9,#cf2ed1,#c829d6,#bf24db,#bb21de,#cb2bd4,#ff4db2,#ff629d,#ff609f,#ff55aa,#f546b9,#dc36c9,#c427d8,#8d03fc,#5600ff,#2e00ff,#1400ff,#0700ff,#0200ff,#0100ff,#0000fe,#0000fe,#0500ff,#1900ff,#3900ff,#6b00ff,#a614eb,#d934cb,#e73dc2,#d330cf,#a916e9,#8300ff,#6d00ff,#6500ff,#6800ff,#6e00ff,#7400ff,#8a02fd,#a714eb,#c125da)"></i>
<i style="background:linear-gradient(90deg,#fc4bb4,#d12fd0,#c92ad5,#c024db,#bb21de,#c729d6,#f747b8,#ff629d,#ff639c,#ff5ba4,#ff4eb1,#ea3fc0,#d431ce,#a614eb,#6f00ff,#4200ff,#2600ff,#1800ff,#1200ff,#1000ff,#0e00ff,#0e00ff,#1600ff,#2c00ff,#5000ff,#8300ff,#bd22dd,#e63cc3,#ea3fc0,#cc2cd3,#a110ef,#7e00ff,#6b00ff,#6600ff,#6a00ff,#7000ff,#7600ff,#9106f9,#ae19e6,#c829d6)"></i>
<i style="background:linear-gradient(90deg,#ff4eb1,#d531ce,#cb2bd4,#c225da,#bc21de,#c326d9,#ee42bd,#ff609f,#ff6699,#ff619e,#ff56a9,#fa49b6,#e33bc4,#c125da,#8901fe,#5900ff,#3b00ff,#2c00ff,#2500ff,#2200ff,#2000ff,#2000ff,#2700ff,#4000ff,#6700ff,#9c0df2,#d230cf,#f043bc,#ea3fc0,#c427d8,#980bf4,#7900ff,#6a00ff,#6700ff,#6b00ff,#7100ff,#7800ff,#970af5,#b51de2,#cf2ed1)"></i>
<i style="background:linear-gradient(90deg,#ff50af,#db36c9,#cc2cd3,#c326d9,#bc22dd,#c024db,#e53cc3,#ff5ca3,#ff6897,#ff6798,#ff5fa0,#ff53ac,#f546b9,#dd37c8,#a614eb,#7300ff,#5200ff,#4200ff,#3a00ff,#3700ff,#3400ff,#3300ff,#3b00ff,#5700ff,#8000ff,#b51de2,#e53cc3,#f747b8,#e63cc3,#bb21de,#9006f9,#7500ff,#6900ff,#6800ff,#6d00ff,#7300ff,#7e00ff,#9e0ef1,#bb21de,#d532cd)"></i>
<i style="background:linear-gradient(90deg,#ff52ad,#e33ac5,#ce2dd2,#c527d8,#bd22dd,#be23dc,#dc36c9,#ff57a8,#ff6a95,#ff6b94,#ff6798,#ff5ea1,#ff53ac,#f143bc,#c528d7,#9106f9,#6d00ff,#5b00ff,#5200ff,#4e00ff,#4a00ff,#4900ff,#5100ff,#6f00ff,#9b0df2,#ce2dd2,#f345ba,#fb4ab5,#df38c7,#b11ae5,#8901fe,#7300ff,#6900ff,#6900ff,#6e00ff,#7400ff,#8500ff,#a413ec,#c226d9,#db36c9)"></i>
<i style="background:linear-gradient(90deg,#ff54ab,#ea3fc0,#cf2ed1,#c628d7,#be23dc,#bd22dd,#d531ce,#ff51ae,#ff6996,#ff6f90,#ff6e91,#ff6996,#ff609f,#ff52ad,#e63dc2,#b21be4,#8d03fc,#7900ff,#6f00ff,#6800ff,#6300ff,#6200ff,#6900ff,#8a02fd,#b71fe0,#e63cc3,#ff4db2,#fb4ab5,#d632cd,#a714eb,#8300ff,#7100ff,#6900ff,#6a00ff,#6f00ff,#7600ff,#8c03fc,#ab17e8,#c92ad5,#e139c6)"></i>
<i style="background:linear-gradient(90deg,#ff56a9,#f244bb,#d12fd0,#c829d6,#bf24db,#bd22dd,#ce2dd2,#fa4ab5,#ff6699,#ff728d,#ff758a,#ff738c,#ff6e91,#ff629d,#ff4eb1,#d532cd,#b01ae5,#9c0df2,#9006f9,#8700ff,#8000ff,#7e00ff,#8600ff,#a815ea,#d431ce,#f949b6,#ff53ac,#f848b7,#cc2cd3,#9e0ef1,#7f00ff,#6f00ff,#6900ff,#6b00ff,#7000ff,#7700ff,#9207f8,#b21be4,#d02ed1,#e73dc2)"></i>
<i style="background:linear-gradient(90deg,#ff58a7,#fb4ab5,#d230cf,#c92ad5,#c024db,#bd23dc,#c82ad5,#ef42bd,#ff619e,#ff748b,#ff7a85,#ff7d82,#ff7c83,#ff738c,#ff609f,#fc4ab5,#d733cc,#c427d8,#b61ee1,#a916e9,#a010ef,#9e0ef1,#a513ec,#c82ad5,#ef43bc,#ff54ab,#ff56a9,#f244bb,#c125da,#9509f6,#7b00ff,#6e00ff,#6900ff,#6b00ff,#7100ff,#7900ff,#990bf4,#b91fe0,#d733cc,#ed41be)"></i>
<i style="background:linear-gradient(90deg,#ff5aa5,#ff50af,#d431ce,#cb2bd4,#c225da,#be23dc,#c427d8,#e53cc3,#ff5ba4,#ff738c,#ff7f80,#ff8679,#ff8a75,#ff857a,#ff738c,#ff5ea1,#ff4eb1,#f043bc,#e039c6,#d02ed1,#c427d8,#c125da,#c82ad5,#ea3fc0,#ff51ae,#ff5da2,#ff57a8,#e83ec1,#b61de2,#8e04fb,#7800ff,#6d00ff,#6900ff,#6c00ff,#7200ff,#7f00ff,#9f0ff0,#bf24db,#de37c8,#f345ba)"></i>
<i style="background:linear-gradient(90deg,#ff5da2,#ff56a9,#d532cd,#cc2cd3,#c326d9,#be23dc,#c225da,#db36c9,#ff53ac,#ff708f,#ff827d,#ff8e71,#ff9768,#ff9669,#ff8877,#ff748b,#ff6798,#ff609f,#ff56a9,#fa49b6,#ec40bf,#e73dc2,#ee42bd,#ff51ae,#ff609f,#ff649b,#ff56a9,#dd37c8,#ab17e8,#8800ff,#7700ff,#6c00ff,#6900ff,#6c00ff,#7300ff,#8500ff,#a613ec,#c628d7,#e53cc3,#f949b6)"></i>
<i style="background:linear-gradient(90deg,#ff5fa0,#ff58a7,#d733cc,#ce2dd2,#c527d8,#be23dc,#c024db,#d330cf,#fc4ab5,#ff6996,#ff827d,#ff946b,#ffa25d,#ffa758,#ff9d62,#ff8c73,#ff807f,#ff7b84,#ff718e,#ff639c,#ff58a7,#ff54ab,#ff56a9,#ff639c,#ff6d92,#ff6996,#ff52ad,#d12fd0,#a110ef,#8300ff,#7400ff,#6b00ff,#6900ff,#6c00ff,#7300ff,#8b02fd,#ac17e8,#cd2cd3,#ec40bf,#ff4db2)"></i>
<i style="background:linear-gradient(90deg,#ff619e,#ff5aa5,#e139c6,#cf2ed1,#c628d7,#bf24db,#c024db,#cc2cd3,#ef42bd,#ff619e,#ff7f80,#ff9867,#ffab54,#ffb54a,#ffb14e,#ffa45b,#ff9b64,#ff9768,#ff8d72,#ff7d82,#ff708f,#ff6b94,#ff6c93,#ff7689,#ff7887,#ff6a95,#fd4bb4,#c527d8,#990bf4,#8000ff,#7200ff,#6a00ff,#6900ff,#6c00ff,#7300ff,#9106f9,#b21be4,#d330cf,#f244bb,#ff51ae)"></i>
<i style="background:linear-gradient(90deg,#ff639c,#ff5ca3,#eb40bf,#d12fd0,#c729d6,#c024db,#c024db,#c829d6,#e43bc4,#ff58a7,#ff7986,#ff9867,#ffb14e,#ffc13e,#ffc33c,#ffbc43,#ffb748,#ffb54a,#ffaa55,#ff9867,#ff8976,#ff837c,#ff827d,#ff8778,#ff817e,#ff6897,#f144bb,#b91fe0,#9207f8,#7e00ff,#7000ff,#6900ff,#6900ff,#6c00ff,#7700ff,#970af5,#b81fe0,#da35ca,#f748b7,#ff54ab)"></i>
<i style="background:linear-gradient(90deg,#ff659a,#ff5ea1,#f546b9,#d230cf,#c92ad5,#c225da,#c024db,#c527d8,#da35ca,#ff4fb0,#ff708f,#ff946b,#ffb44b,#ffca35,#ffd22d,#ffd12e,#ffd22d,#ffd32c,#ffc837,#ffb44b,#ffa35c,#ff9b64,#ff9966,#ff9768,#ff857a,#ff649b,#e43bc4,#ae18e7,#8c03fc,#7b00ff,#6e00ff,#6800ff,#6800ff,#6c00ff,#7c00ff,#9c0df2,#be23dc,#e039c6,#fd4bb4,#ff58a7)"></i>
<i style="background:linear-gradient(90deg,#ff6798,#ff609f,#ff4db2,#d431ce,#ca2bd4,#c326d9,#c024db,#c326d9,#d230cf,#f546b9,#ff6699,#ff8c73,#ffb14e,#ffce31,#ffdd22,#ffe31c,#ffe916,#ffed12,#ffe31c,#ffcf30,#ffbd42,#ffb34c,#ffad52,#ffa25d,#ff8679,#ff5ca3,#d632cd,#a412ed,#8801fe,#7800ff,#6c00ff,#6700ff,#6700ff,#6c00ff,#8100ff,#a110ef,#c427d8,#e63dc2,#ff4fb0,#ff5ca3)"></i>
<i style="background:linear-gradient(90deg,#ff6996,#ff629d,#ff54ab,#d532cd,#cc2cd3,#c427d8,#c024db,#c326d9,#cd2cd3,#e83ec1,#ff5ba4,#ff817e,#ffaa55,#ffcd32,#ffe31c,#ffef10,#fffb04,#ffff1c,#fffb04,#ffe718,#ffd42b,#ffc837,#ffbe41,#ffa956,#ff827d,#ff53ac,#c829d6,#9c0df2,#8600ff,#7500ff,#6b00ff,#6600ff,#6600ff,#6b00ff,#8500ff,#a614eb,#c92ad5,#ec41be,#ff52ad,#ff609f)"></i>
<i style="background:linear-gradient(90deg,#ff6c93,#ff649b,#ff5ba4,#d733cc,#cd2dd2,#c528d7,#c125da,#c326d9,#c92ad5,#de37c8,#ff50af,#ff748b,#ff9e61,#ffc639,#ffe21d,#fff609,#ffff34,#ffff7e,#ffff5a,#fffa05,#ffe718,#ffd926,#ffca35,#ffab54,#ff7b84,#fa49b6,#bc21de,#9609f6,#8400ff,#7300ff,#6900ff,#6500ff,#6500ff,#6d00ff,#8a01fe,#ab17e8,#cf2ed1,#f244bb,#ff55aa,#ff639c)"></i>
<i style="background:linear-gradient(90deg,#ff6e91,#ff6699,#ff5da2,#dd37c8,#ce2dd2,#c628d7,#c225da,#c225da,#c829d6,#d632cd,#f647b8,#ff6798,#ff906f,#ffb946,#ffdc23,#fff609,#ffff51,#ffffb0,#ffffa0,#ffff35,#fff50a,#ffe51a,#ffcf30,#ffa758,#ff718e,#e93fc0,#b11ae5,#9106f9,#8000ff,#7100ff,#6800ff,#6400ff,#6400ff,#7100ff,#8e04fb,#b01ae5,#d431ce,#f848b7,#ff59a6,#ff6798)"></i>
<i style="background:linear-gradient(90deg,#ff708f,#ff6897,#ff5fa0,#e83ec1,#d02ed1,#c829d6,#c226d9,#c225da,#c829d6,#d12fd0,#ea3fc0,#ff5ba4,#ff807f,#ffa956,#ffcf30,#ffee11,#ffff3a,#ffffac,#ffffb3,#ffff5c,#fffc03,#ffeb14,#ffcf30,#ff9f60,#ff659a,#da35ca,#a815ea,#8e04fb,#7d00ff,#6f00ff,#6600ff,#6200ff,#6300ff,#7500ff,#9207f8,#b41de2,#d934cb,#fd4bb4,#ff5ca3,#ff6b94)"></i>
<i style="background:linear-gradient(90deg,#ff728d,#ff6a95,#ff619e,#f445ba,#d12fd0,#c92ad5,#c326d9,#c225da,#c628d7,#ce2dd2,#e039c6,#ff4fb0,#ff708f,#ff9768,#ffbd42,#ffdf20,#fffc03,#ffff70,#ffff8f,#ffff52,#fffc03,#ffe916,#ffc837,#ff936c,#ff59a6,#cb2bd4,#a110ef,#8c03fc,#7a00ff,#6d00ff,#6400ff,#6100ff,#6200ff,#7800ff,#9609f6,#b81fe0,#de37c8,#ff4eb1,#ff5fa0,#ff6e91)"></i>
<i style="background:linear-gradient(90deg,#ff748b,#ff6c93,#ff629d,#ff4db2,#d230cf,#ca2bd4,#c427d8,#c226d9,#c527d8,#cd2dd2,#da35ca,#f546b9,#ff629d,#ff847b,#ffaa55,#ffcc33,#ffea15,#ffff06,#ffff38,#ffff14,#fff50a,#ffe01f,#ffbb44,#ff847b,#fe4cb3,#bf23dc,#9c0df2,#8801fe,#7800ff,#6b00ff,#6300ff,#5f00ff,#6400ff,#7b00ff,#990bf4,#bc22dd,#e23ac5,#ff50af,#ff629d,#ff728d)"></i>
<i style="background:linear-gradient(90deg,#ff7689,#ff6e91,#ff649b,#ff54ab,#d330cf,#cb2bd4,#c527d8,#c326d9,#c427d8,#cc2cd3,#d632cd,#ea3fc0,#ff55aa,#ff738c,#ff956a,#ffb649,#ffd42b,#ffea15,#fff40b,#fff10e,#ffe619,#ffd12e,#ffab54,#ff748b,#eb40bf,#b51de2,#980bf4,#8500ff,#7500ff,#6900ff,#6100ff,#5d00ff,#6700ff,#7e00ff,#9d0ef1,#c024db,#e73dc2,#ff53ac,#ff659a,#ff758a)"></i>
<i style="background:linear-gradient(90deg,#ff7887,#ff708f,#ff6699,#ff5ba4,#d934cb,#cc2cd3,#c628d7,#c326d9,#c427d8,#ca2bd4,#d431ce,#e23ac5,#fd4bb4,#ff649b,#ff817e,#ffa05f,#ffbb44,#ffd02f,#ffdb24,#ffdb24,#ffd22d,#ffbe41,#ff9867,#ff649b,#db35ca,#ad18e7,#9609f6,#8200ff,#7400ff,#6800ff,#5f00ff,#5c00ff,#6900ff,#8100ff,#a010ef,#c427d8,#eb40bf,#ff55aa,#ff6897,#ff7986)"></i>
<i style="background:linear-gradient(90deg,#ff7a85,#ff718e,#ff6798,#ff5ca3,#e33bc4,#cd2cd3,#c729d6,#c427d8,#c427d8,#c92ad5,#d330cf,#de37c8,#f144bb,#ff57a8,#ff708f,#ff8a75,#ffa25d,#ffb54a,#ffc13e,#ffc33c,#ffbb44,#ffa857,#ff847b,#ff55aa,#cd2dd2,#a815ea,#9207f8,#8000ff,#7200ff,#6600ff,#5e00ff,#5b00ff,#6b00ff,#8400ff,#a312ed,#c729d6,#ef42bd,#ff58a7,#ff6b94,#ff7c83)"></i>
<i style="background:linear-gradient(90deg,#ff7c83,#ff738c,#ff6996,#ff5ea1,#ee41be,#ce2dd2,#c729d6,#c427d8,#c427d8,#c829d6,#d02fd0,#dc36c9,#ea3fc0,#ff4db2,#ff619e,#ff7788,#ff8c73,#ff9c63,#ffa758,#ffa956,#ffa35c,#ff926d,#ff718e,#f747b8,#c226d9,#a412ed,#8f05fa,#7e00ff,#7000ff,#6400ff,#5c00ff,#5d00ff,#6e00ff,#8600ff,#a613ec,#ca2bd4,#f244bb,#ff5aa5,#ff6e91,#ff7f80)"></i>
<i style="background:linear-gradient(90deg,#ff7e81,#ff758a,#ff6b94,#ff5fa0,#f848b7,#ce2dd2,#c829d6,#c527d8,#c427d8,#c829d6,#ce2dd2,#da35ca,#e63dc2,#f647b8,#ff56a9,#ff6798,#ff7887,#ff8679,#ff8f70,#ff926d,#ff8c73,#ff7c83,#ff5fa0,#e63cc3,#ba21de,#a211ee,#8c03fc,#7d00ff,#6f00ff,#6300ff,#5a00ff,#5e00ff,#7000ff,#8901fe,#a815ea,#cd2dd2,#f446b9,#ff5ca3,#ff718e,#ff827d)"></i>
<i style="background:linear-gradient(90deg,#ff7f80,#ff7788,#ff6c93,#ff619e,#ff4eb1,#d330cf,#c92ad5,#c528d7,#c527d8,#c729d6,#cd2dd2,#d733cc,#e43bc4,#f043bc,#ff4eb1,#ff5ba4,#ff6897,#ff738c,#ff7b84,#ff7d82,#ff7887,#ff6a95,#ff51ae,#d833cc,#b51de2,#9d0ef1,#8a02fd,#7b00ff,#6d00ff,#6100ff,#5800ff,#6000ff,#7100ff,#8b02fd,#ab17e8,#d02fd0,#f747b8,#ff5ea1,#ff738c,#ff857a)"></i>
<i style="background:linear-gradient(90deg,#ff807f,#ff7887,#ff6e91,#ff629d,#ff54ab,#db36c9,#c92ad5,#c628d7,#c527d8,#c729d6,#cd2cd3,#d532cd,#e039c6,#ed41be,#f949b6,#ff52ad,#ff5ca3,#ff659a,#ff6a95,#ff6b94,#ff6798,#ff5aa5,#f345ba,#ce2dd2,#b31ce3,#9a0cf3,#8901fe,#7a00ff,#6c00ff,#5f00ff,#5900ff,#6200ff,#7300ff,#8d03fc,#ad18e7,#d330cf,#f949b6,#ff609f,#ff7689,#ff8778)"></i>
<i style="background:linear-gradient(90deg,#ff817e,#ff7a85,#ff6f90,#ff639c,#ff57a8,#e43bc4,#ca2ad5,#c628d7,#c528d7,#c829d6,#cd2cd3,#d431ce,#dd37c8,#e93fc0,#f546b9,#ff4db2,#ff54ab,#ff5aa5,#ff5ea1,#ff5ea1,#ff59a6,#ff4eb1,#e63cc3,#c829d6,#ae19e6,#980af5,#8700ff,#7800ff,#6a00ff,#5e00ff,#5a00ff,#6300ff,#7500ff,#8e04fb,#af19e6,#d532cd,#fc4ab5,#ff629d,#ff7887,#ff8877)"></i>
<i style="background:linear-gradient(90deg,#ff827d,#ff7c83,#ff708f,#ff659a,#ff58a7,#ec40bf,#cb2bd4,#c628d7,#c628d7,#c829d6,#cd2cd3,#d330cf,#db36c9,#e53cc3,#f144bb,#fc4bb4,#ff50af,#ff54ab,#ff56a9,#ff55aa,#ff50af,#f446b9,#dd37c8,#c427d8,#aa16e9,#9609f6,#8600ff,#7700ff,#6900ff,#5c00ff,#5b00ff,#6400ff,#7600ff,#9005fa,#b11ae5,#d733cc,#fe4cb3,#ff649b,#ff7a85,#ff8976)"></i>
<i style="background:linear-gradient(90deg,#ff837c,#ff7d82,#ff728d,#ff6699,#ff59a6,#f445ba,#d230cf,#c728d7,#c628d7,#c829d6,#cd2cd3,#d330cf,#da35ca,#e33ac5,#ec41be,#f747b8,#ff4db2,#ff50af,#ff51ae,#ff4fb0,#fb4ab5,#ec40bf,#d833cc,#be23dc,#a614eb,#9408f7,#8500ff,#7600ff,#6800ff,#5c00ff,#5d00ff,#6600ff,#7700ff,#9106f9,#b21ce3,#d934cb,#ff4db2,#ff6699,#ff7d82,#ff8a75)"></i>
<i style="background:linear-gradient(90deg,#ff847b,#ff7f80,#ff738c,#ff6798,#ff5ba4,#fb4ab5,#d934cb,#c729d6,#c628d7,#c82ad5,#cd2dd2,#d330cf,#da35ca,#e139c6,#e93ec1,#f144bb,#f848b7,#ff4cb3,#ff4fb0,#ff4db2,#f647b8,#e83ec1,#d330cf,#b920df,#a412ed,#9307f8,#8300ff,#7500ff,#6600ff,#5d00ff,#5e00ff,#6700ff,#7800ff,#9307f8,#b41de2,#db35ca,#ff4fb0,#ff6897,#ff7f80,#ff8b74)"></i>
<i style="background:linear-gradient(90deg,#ff847b,#ff807f,#ff758a,#ff6897,#ff5ca3,#ff4fb0,#df38c7,#c92ad5,#c628d7,#c92ad5,#cd2dd2,#d331ce,#da35ca,#e039c6,#e73dc2,#ed41be,#f244bb,#f747b8,#fa49b6,#f949b6,#f144bb,#e13ac5,#cc2cd3,#b51de2,#a211ee,#9106f9,#8200ff,#7400ff,#6500ff,#5e00ff,#5f00ff,#6800ff,#7a00ff,#9408f7,#b51de2,#dc36c9,#ff50af,#ff6996,#ff817e,#ff8b74)"></i>
<i style="background:linear-gradient(90deg,#ff857a,#ff807f,#ff7689,#ff6996,#ff5da2,#ff51ae,#e63cc3,#ce2dd2,#c628d7,#c92ad5,#ce2dd2,#d431ce,#da35ca,#df38c7,#e53cc3,#ea3fc0,#ee42bd,#f144bb,#f345ba,#f144bb,#e93fc0,#da35ca,#c729d6,#b21be4,#a010ef,#9006f9,#8100ff,#7200ff,#6400ff,#5f00ff,#6000ff,#6900ff,#7a00ff,#9509f6,#b71ee1,#de37c8,#ff51ae,#ff6b94,#ff817e,#ff8c73)"></i>
<i style="background:linear-gradient(90deg,#ff8679,#ff817e,#ff7788,#ff6b94,#ff5ea1,#ff52ad,#ec40bf,#d431ce,#c728d7,#c92ad5,#ce2dd2,#d431ce,#da35ca,#df38c7,#e43bc4,#e83ec1,#eb40bf,#ed41be,#ee42bd,#ec40bf,#e43bc4,#d532cd,#c326d9,#b01ae5,#9f0ff0,#8f05fa,#8000ff,#7100ff,#6500ff,#6000ff,#6100ff,#6900ff,#7b00ff,#9609f6,#b81fe0,#df38c7,#ff52ad,#ff6c93,#ff817e,#ff8c73)"></i>
<i style="background:linear-gradient(90deg,#ff8778,#ff817e,#ff7887,#ff6c93,#ff5fa0,#ff53ac,#f144bb,#d934cb,#cb2bd4,#ca2ad5,#cf2ed1,#d431ce,#da35ca,#df38c7,#e33bc4,#e63dc2,#e93ec1,#ea3fc0,#ea3fc0,#e73dc2,#df38c7,#d12fd0,#c024db,#ae19e6,#9d0ef1,#8e04fb,#7f00ff,#7000ff,#6600ff,#6100ff,#6200ff,#6a00ff,#7c00ff,#960af5,#b920df,#e039c6,#ff53ac,#ff6d92,#ff817e,#ff8d72)"></i>
</div>
<svg width="630" height="267" viewBox="0 0 630 267">
<defs><linearGradient id="cg" x1="0" y1="0" x2="0" y2="1"><stop offset="0.0000" stop-color="#ffffff"/><stop offset="0.0400" stop-color="#ffff80"/><stop offset="0.0800" stop-color="#ffff00"/><stop offset="0.1200" stop-color="#ffeb14"/><stop offset="0.1600" stop-color="#ffd629"/><stop offset="0.2000" stop-color="#ffc23d"/><stop offset="0.2400" stop-color="#ffad52"/><stop offset="0.2800" stop-color="#ff9966"/><stop offset="0.3200" stop-color="#ff857a"/><stop offset="0.3600" stop-color="#ff708f"/><stop offset="0.4000" stop-color="#ff5ca3"/><stop offset="0.4400" stop-color="#f747b8"/><stop offset="0.4800" stop-color="#d733cc"/><stop offset="0.5200" stop-color="#b71fe0"/><stop offset="0.5600" stop-color="#970af5"/><stop offset="0.6000" stop-color="#7800ff"/><stop offset="0.6400" stop-color="#5800ff"/><stop offset="0.6800" stop-color="#3800ff"/><stop offset="0.7200" stop-color="#1800ff"/><stop offset="0.7600" stop-color="#0000f5"/><stop offset="0.8000" stop-color="#0000cc"/><stop offset="0.8400" stop-color="#0000a3"/><stop offset="0.8800" stop-color="#00007a"/><stop offset="0.9200" stop-color="#000052"/><stop offset="0.9600" stop-color="#000029"/><stop offset="1.0000" stop-color="#000000"/></linearGradient></defs>
<polygon points="113.0,79.5 179.7,152.1 161.5,124.5" fill="none" stroke="#00bcbc" stroke-width="1.1" stroke-linejoin="round"/>
<polygon points="127.4,85.3 155.7,85.3 176.3,189.0" fill="none" stroke="#ee0000" stroke-width="1.0" stroke-linejoin="round"/>
<path d="M126.8 54.8L128.5 52.5L130.6 50.4L132.5 48.3L134.4 46.6L136.0 45.6L137.6 45.3L139.3 45.8L140.8 47.2L141.6 48.5L142.0 49.7M191.0 40.8L194.2 42.7M174.0 56.9L175.9 56.5L177.8 56.9L179.1 59.5L179.7 60.7L180.4 62.6L181.0 64.6M186.1 61.4L187.4 62.6L189.3 64.6L189.9 67.7L190.6 70.3L190.6 72.8L190.6 75.4M109.6 84.1L110.8 82.2L112.7 79.0L114.6 75.8L116.6 74.6L118.5 74.2L119.7 75.8L120.4 77.7L121.0 80.3M117.2 96.2L118.5 94.3L119.1 92.4M122.3 88.6L123.6 86.7L124.8 85.4L126.1 86.0L126.8 87.9L127.4 90.5L128.0 93.7M154.8 87.3L156.0 85.4L157.3 83.5L158.6 81.6L159.9 80.3L161.3 77.9L163.2 76.0L165.1 75.0L167.0 74.7M165.0 96.8L166.9 93.7L169.4 91.1L172.0 89.2L173.9 88.6M212.5 90.7L214.4 90.1L216.9 92.6L217.6 94.6L218.0 97.7L217.6 103.5L217.2 106.7L216.9 109.8L216.9 111.1M140.2 115.6L145.9 105.4M161.8 132.1L165.0 125.1M88.7 129.6L88.7 131.5L88.7 133.4L88.3 136.6L88.3 139.1L88.3 142.3L88.7 145.5L88.9 147.4L90.8 149.9L92.7 149.9M131.6 151.2L133.5 150.6L136.0 148.7L138.6 145.5L140.5 142.9L142.2 140.4M138.9 165.3L140.8 165.9L143.3 164.0L144.6 162.7L146.5 160.2L147.8 158.9L149.0 157.0L150.3 155.1L151.6 153.2L152.2 151.3M115.3 163.4L115.3 165.9L115.3 168.5L115.9 171.0L116.6 175.5L117.8 177.4L119.7 178.7M127.4 173.6L125.5 174.8L124.2 176.8L124.8 178.7L126.1 180.6L128.0 182.5L130.6 183.4M177.8 145.3L177.8 147.8L178.5 151.0L179.1 153.6L180.4 154.8L182.3 153.6L183.6 151.7M185.0 160.1L185.0 162.6L186.3 165.2L188.2 166.2L190.8 164.6L192.7 162.0L193.9 160.1L195.9 156.9M163.6 190.2L164.8 192.7L166.8 194.6L168.7 195.3L171.2 194.0L173.8 192.1L175.7 190.2L176.9 188.3L178.9 185.7M112.0 198.3L114.6 199.6" fill="none" stroke="#fff" stroke-width="1.8" stroke-dasharray="3 0.9"/>
<path d="M177.8 67.1h0M163.8 99.0h0M152.8 120.0h0M151.3 151.2h0M186.1 147.2h0M187.4 144.0h0" fill="none" stroke="#fff" stroke-width="2" stroke-linecap="round"/>
<g stroke="#f4f0ff" stroke-width="1.1" fill="none"><polyline points="75.1,17.0 75.1,41.8 51.0,34.1"/></g>
<polygon points="75.1,10.1 72.4,17.8 77.9,17.8" fill="#f4f0ff"/>
<polygon points="44.7,32.0 52.4,31.2 50.6,37.1" fill="#f4f0ff"/>
<text x="79.4" y="22.6" class="ar">Ω</text>
<text x="50.8" y="47.2" class="ar">N</text>
<polygon points="429.5,79.5 496.2,152.1 478.0,124.5" fill="none" stroke="#00bcbc" stroke-width="1.1" stroke-linejoin="round"/>
<polygon points="443.9,85.3 472.2,85.3 492.8,189.0" fill="none" stroke="#ee0000" stroke-width="1.0" stroke-linejoin="round"/>
<path d="M443.3 54.8L445.0 52.5L447.1 50.4L449.0 48.3L450.9 46.6L452.5 45.6L454.1 45.3L455.8 45.8L457.3 47.2L458.1 48.5L458.5 49.7M507.5 40.8L510.7 42.7M490.5 56.9L492.4 56.5L494.3 56.9L495.6 59.5L496.2 60.7L496.9 62.6L497.5 64.6M502.6 61.4L503.9 62.6L505.8 64.6L506.4 67.7L507.1 70.3L507.1 72.8L507.1 75.4M426.1 84.1L427.3 82.2L429.2 79.0L431.1 75.8L433.1 74.6L435.0 74.2L436.2 75.8L436.9 77.7L437.5 80.3M433.7 96.2L435.0 94.3L435.6 92.4M438.8 88.6L440.1 86.7L441.3 85.4L442.6 86.0L443.3 87.9L443.9 90.5L444.5 93.7M471.3 87.3L472.5 85.4L473.8 83.5L475.1 81.6L476.4 80.3L477.8 77.9L479.7 76.0L481.6 75.0L483.5 74.7M481.5 96.8L483.4 93.7L485.9 91.1L488.5 89.2L490.4 88.6M529.0 90.7L530.9 90.1L533.4 92.6L534.1 94.6L534.5 97.7L534.1 103.5L533.7 106.7L533.4 109.8L533.4 111.1M456.7 115.6L462.4 105.4M478.3 132.1L481.5 125.1M405.2 129.6L405.2 131.5L405.2 133.4L404.8 136.6L404.8 139.1L404.8 142.3L405.2 145.5L405.4 147.4L407.3 149.9L409.2 149.9M448.1 151.2L450.0 150.6L452.5 148.7L455.1 145.5L457.0 142.9L458.7 140.4M455.4 165.3L457.3 165.9L459.8 164.0L461.1 162.7L463.0 160.2L464.3 158.9L465.5 157.0L466.8 155.1L468.1 153.2L468.7 151.3M431.8 163.4L431.8 165.9L431.8 168.5L432.4 171.0L433.1 175.5L434.3 177.4L436.2 178.7M443.9 173.6L442.0 174.8L440.7 176.8L441.3 178.7L442.6 180.6L444.5 182.5L447.1 183.4M494.3 145.3L494.3 147.8L495.0 151.0L495.6 153.6L496.9 154.8L498.8 153.6L500.1 151.7M501.5 160.1L501.5 162.6L502.8 165.2L504.7 166.2L507.3 164.6L509.2 162.0L510.4 160.1L512.4 156.9M480.1 190.2L481.3 192.7L483.3 194.6L485.2 195.3L487.7 194.0L490.3 192.1L492.2 190.2L493.4 188.3L495.4 185.7M428.5 198.3L431.1 199.6" fill="none" stroke="#fff" stroke-width="1.8" stroke-dasharray="3 0.9"/>
<path d="M494.3 67.1h0M480.3 99.0h0M469.3 120.0h0M467.8 151.2h0M502.6 147.2h0M503.9 144.0h0" fill="none" stroke="#fff" stroke-width="2" stroke-linecap="round"/>
<g stroke="#f4f0ff" stroke-width="1.1" fill="none"><polyline points="391.6,17.0 391.6,41.8 367.5,34.1"/></g>
<polygon points="391.6,10.1 388.9,17.8 394.4,17.8" fill="#f4f0ff"/>
<polygon points="361.2,32.0 368.9,31.2 367.1,37.1" fill="#f4f0ff"/>
<text x="395.9" y="22.6" class="ar">Ω</text>
<text x="367.3" y="47.2" class="ar">N</text>
<line x1="47.2" y1="4" x2="47.2" y2="10" class="tc"/>
<line x1="47.2" y1="237" x2="47.2" y2="231" class="tc"/>
<text transform="translate(47.5,251.0) scale(1,1.1)" class="tl" text-anchor="middle">10</text>
<line x1="100.2" y1="4" x2="100.2" y2="10" class="tc"/>
<line x1="100.2" y1="237" x2="100.2" y2="231" class="tc"/>
<text transform="translate(100.5,251.0) scale(1,1.1)" class="tl" text-anchor="middle">5</text>
<line x1="153.2" y1="4" x2="153.2" y2="10" class="tc"/>
<line x1="153.2" y1="237" x2="153.2" y2="231" class="tc"/>
<text transform="translate(153.5,251.0) scale(1,1.1)" class="tl" text-anchor="middle">0</text>
<line x1="206.2" y1="4" x2="206.2" y2="10" class="tc"/>
<line x1="206.2" y1="237" x2="206.2" y2="231" class="tc"/>
<text transform="translate(206.5,251.0) scale(1,1.1)" class="tl" text-anchor="middle">-5</text>
<line x1="259.2" y1="4" x2="259.2" y2="10" class="tc"/>
<line x1="259.2" y1="237" x2="259.2" y2="231" class="tc"/>
<text transform="translate(259.5,251.0) scale(1,1.1)" class="tl" text-anchor="middle">-10</text>
<line x1="36.0" y1="13.9" x2="43.0" y2="13.9" class="tc"/>
<line x1="269.0" y1="13.9" x2="262.0" y2="13.9" class="tc"/>
<text transform="translate(32.9,19.1) scale(1,1.13)" class="tl" text-anchor="end">10</text>
<line x1="36.0" y1="66.9" x2="43.0" y2="66.9" class="tc"/>
<line x1="269.0" y1="66.9" x2="262.0" y2="66.9" class="tc"/>
<text transform="translate(32.9,72.1) scale(1,1.13)" class="tl" text-anchor="end">5</text>
<line x1="36.0" y1="119.9" x2="43.0" y2="119.9" class="tc"/>
<line x1="269.0" y1="119.9" x2="262.0" y2="119.9" class="tc"/>
<text transform="translate(32.9,125.1) scale(1,1.13)" class="tl" text-anchor="end">0</text>
<line x1="36.0" y1="172.9" x2="43.0" y2="172.9" class="tc"/>
<line x1="269.0" y1="172.9" x2="262.0" y2="172.9" class="tc"/>
<text transform="translate(32.9,178.1) scale(1,1.13)" class="tl" text-anchor="end">-5</text>
<line x1="36.0" y1="225.9" x2="43.0" y2="225.9" class="tc"/>
<line x1="269.0" y1="225.9" x2="262.0" y2="225.9" class="tc"/>
<text transform="translate(32.9,231.1) scale(1,1.13)" class="tl" text-anchor="end">-10</text>
<rect x="35.5" y="3.5" width="234.0" height="234" fill="none" stroke="#1a1a1a" stroke-width="1.1"/>
<text x="124.4" y="262.8" class="al" textLength="54" lengthAdjust="spacingAndGlyphs"><tspan font-style="italic">u</tspan><tspan font-size="11" dy="2">rot</tspan><tspan dy="-2"> (</tspan><tspan font-style="italic">G</tspan><tspan font-style="italic">λ</tspan>)</text>
<text transform="translate(12.6,148.4) rotate(-90)" class="al" textLength="54" lengthAdjust="spacingAndGlyphs"><tspan font-style="italic">v</tspan><tspan font-size="11" dy="2">rot</tspan><tspan dy="-2"> (</tspan><tspan font-style="italic">G</tspan><tspan font-style="italic">λ</tspan>)</text>
<line x1="363.7" y1="4" x2="363.7" y2="10" class="tc"/>
<line x1="363.7" y1="237" x2="363.7" y2="231" class="tc"/>
<text transform="translate(364.0,251.0) scale(1,1.1)" class="tl" text-anchor="middle">10</text>
<line x1="416.7" y1="4" x2="416.7" y2="10" class="tc"/>
<line x1="416.7" y1="237" x2="416.7" y2="231" class="tc"/>
<text transform="translate(417.0,251.0) scale(1,1.1)" class="tl" text-anchor="middle">5</text>
<line x1="469.7" y1="4" x2="469.7" y2="10" class="tc"/>
<line x1="469.7" y1="237" x2="469.7" y2="231" class="tc"/>
<text transform="translate(470.0,251.0) scale(1,1.1)" class="tl" text-anchor="middle">0</text>
<line x1="522.7" y1="4" x2="522.7" y2="10" class="tc"/>
<line x1="522.7" y1="237" x2="522.7" y2="231" class="tc"/>
<text transform="translate(523.0,251.0) scale(1,1.1)" class="tl" text-anchor="middle">-5</text>
<line x1="575.7" y1="4" x2="575.7" y2="10" class="tc"/>
<line x1="575.7" y1="237" x2="575.7" y2="231" class="tc"/>
<text transform="translate(576.0,251.0) scale(1,1.1)" class="tl" text-anchor="middle">-10</text>
<line x1="352.5" y1="13.9" x2="359.5" y2="13.9" class="tc"/>
<line x1="585.5" y1="13.9" x2="578.5" y2="13.9" class="tc"/>
<text transform="translate(349.4,19.1) scale(1,1.13)" class="tl" text-anchor="end">10</text>
<line x1="352.5" y1="66.9" x2="359.5" y2="66.9" class="tc"/>
<line x1="585.5" y1="66.9" x2="578.5" y2="66.9" class="tc"/>
<text transform="translate(349.4,72.1) scale(1,1.13)" class="tl" text-anchor="end">5</text>
<line x1="352.5" y1="119.9" x2="359.5" y2="119.9" class="tc"/>
<line x1="585.5" y1="119.9" x2="578.5" y2="119.9" class="tc"/>
<text transform="translate(349.4,125.1) scale(1,1.13)" class="tl" text-anchor="end">0</text>
<line x1="352.5" y1="172.9" x2="359.5" y2="172.9" class="tc"/>
<line x1="585.5" y1="172.9" x2="578.5" y2="172.9" class="tc"/>
<text transform="translate(349.4,178.1) scale(1,1.13)" class="tl" text-anchor="end">-5</text>
<line x1="352.5" y1="225.9" x2="359.5" y2="225.9" class="tc"/>
<line x1="585.5" y1="225.9" x2="578.5" y2="225.9" class="tc"/>
<text transform="translate(349.4,231.1) scale(1,1.13)" class="tl" text-anchor="end">-10</text>
<rect x="352.0" y="3.5" width="234.0" height="234" fill="none" stroke="#1a1a1a" stroke-width="1.1"/>
<text x="440.9" y="262.8" class="al" textLength="54" lengthAdjust="spacingAndGlyphs"><tspan font-style="italic">u</tspan><tspan font-size="11" dy="2">rot</tspan><tspan dy="-2"> (</tspan><tspan font-style="italic">G</tspan><tspan font-style="italic">λ</tspan>)</text>
<text transform="translate(329.1,148.4) rotate(-90)" class="al" textLength="54" lengthAdjust="spacingAndGlyphs"><tspan font-style="italic">v</tspan><tspan font-size="11" dy="2">rot</tspan><tspan dy="-2"> (</tspan><tspan font-style="italic">G</tspan><tspan font-style="italic">λ</tspan>)</text>
<rect x="272.3" y="3.5" width="11.3" height="234" fill="url(#cg)" stroke="#1a1a1a" stroke-width="1.1"/>
<rect x="588.6" y="3.5" width="11.3" height="234" fill="url(#cg)" stroke="#1a1a1a" stroke-width="1.1"/>
<line x1="280.2" y1="170.7" x2="283.4" y2="170.7" stroke="#222" stroke-width="0.8"/>
<text x="286.6" y="8" class="cl">1</text>
<text x="286.6" y="175" class="cl">0.1</text>
<text transform="translate(302.0,40.3) rotate(90)" class="ct" textLength="159.5" lengthAdjust="spacingAndGlyphs">Mean Visibility Amplitude</text>
<line x1="596.3" y1="214.1" x2="599.5" y2="214.1" stroke="#222" stroke-width="0.8"/>
<line x1="596.3" y1="190.7" x2="599.5" y2="190.7" stroke="#222" stroke-width="0.8"/>
<line x1="596.3" y1="167.3" x2="599.5" y2="167.3" stroke="#222" stroke-width="0.8"/>
<line x1="596.3" y1="143.9" x2="599.5" y2="143.9" stroke="#222" stroke-width="0.8"/>
<line x1="595.3" y1="120.5" x2="599.5" y2="120.5" stroke="#222" stroke-width="0.8"/>
<line x1="596.3" y1="97.1" x2="599.5" y2="97.1" stroke="#222" stroke-width="0.8"/>
<line x1="596.3" y1="73.7" x2="599.5" y2="73.7" stroke="#222" stroke-width="0.8"/>
<line x1="596.3" y1="50.3" x2="599.5" y2="50.3" stroke="#222" stroke-width="0.8"/>
<line x1="596.3" y1="26.9" x2="599.5" y2="26.9" stroke="#222" stroke-width="0.8"/>
<text x="603" y="8.8" class="cl">1.0</text>
<text x="603" y="124" class="cl">0.5</text>
<text x="603" y="241.2" class="cl">0</text>
<text transform="translate(618.4,53.3) rotate(90)" class="ct" textLength="132.5" lengthAdjust="spacingAndGlyphs">Directional Dispersion</text>
</svg>
</body></html>
